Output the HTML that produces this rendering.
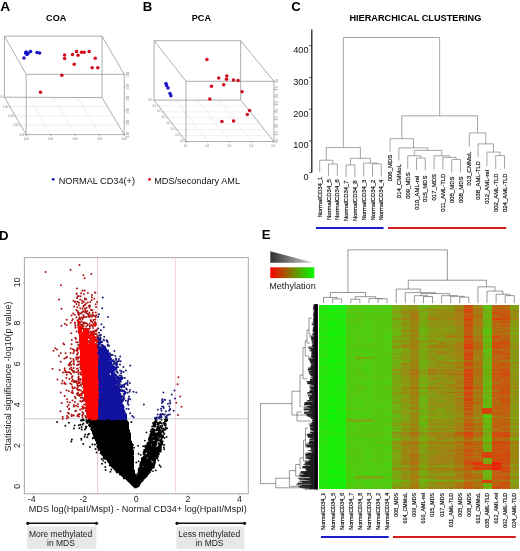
<!DOCTYPE html>
<html><head><meta charset="utf-8"><title>Figure</title>
<style>
html,body{margin:0;padding:0;background:#fff;}
body{width:520px;height:551px;overflow:hidden;font-family:'Liberation Sans', sans-serif;}
svg{display:block;font-family:'Liberation Sans', sans-serif;}
</style></head><body>
<svg width="520" height="551" viewBox="0 0 520 551">
<rect width="520" height="551" fill="#fff"/>
<line x1="28.88" y1="97.20" x2="50.70" y2="134.60" stroke="#dedede" stroke-width="0.5" />
<line x1="9.93" y1="106.55" x2="107.62" y2="106.55" stroke="#dedede" stroke-width="0.5" />
<line x1="53.25" y1="97.20" x2="75.20" y2="134.60" stroke="#dedede" stroke-width="0.5" />
<line x1="15.35" y1="115.90" x2="113.05" y2="115.90" stroke="#dedede" stroke-width="0.5" />
<line x1="77.62" y1="97.20" x2="99.70" y2="134.60" stroke="#dedede" stroke-width="0.5" />
<line x1="20.77" y1="125.25" x2="118.47" y2="125.25" stroke="#dedede" stroke-width="0.5" />
<line x1="4.50" y1="36.20" x2="102.00" y2="36.20" stroke="#777" stroke-width="0.6" />
<line x1="26.20" y1="74.30" x2="124.20" y2="74.30" stroke="#777" stroke-width="0.6" />
<line x1="4.50" y1="36.20" x2="26.20" y2="74.30" stroke="#777" stroke-width="0.6" />
<line x1="102.00" y1="36.20" x2="124.20" y2="74.30" stroke="#777" stroke-width="0.6" />
<line x1="4.50" y1="36.20" x2="4.50" y2="97.20" stroke="#777" stroke-width="0.6" />
<line x1="102.00" y1="36.20" x2="102.00" y2="97.60" stroke="#777" stroke-width="0.6" />
<line x1="26.20" y1="74.30" x2="26.20" y2="134.60" stroke="#777" stroke-width="0.6" />
<line x1="124.20" y1="74.30" x2="124.20" y2="134.60" stroke="#777" stroke-width="0.6" />
<line x1="4.50" y1="97.20" x2="102.00" y2="97.60" stroke="#777" stroke-width="0.6" />
<line x1="26.20" y1="134.60" x2="124.20" y2="134.60" stroke="#777" stroke-width="0.6" />
<line x1="4.50" y1="97.20" x2="26.20" y2="134.60" stroke="#777" stroke-width="0.6" />
<line x1="102.00" y1="97.60" x2="124.20" y2="134.60" stroke="#777" stroke-width="0.6" />
<line x1="26.20" y1="134.60" x2="26.20" y2="136.00" stroke="#777" stroke-width="0.5" />
<line x1="3.20" y1="97.20" x2="4.50" y2="97.20" stroke="#777" stroke-width="0.5" />
<line x1="50.70" y1="134.60" x2="50.70" y2="136.00" stroke="#777" stroke-width="0.5" />
<line x1="8.62" y1="106.55" x2="9.93" y2="106.55" stroke="#777" stroke-width="0.5" />
<line x1="75.20" y1="134.60" x2="75.20" y2="136.00" stroke="#777" stroke-width="0.5" />
<line x1="14.05" y1="115.90" x2="15.35" y2="115.90" stroke="#777" stroke-width="0.5" />
<line x1="99.70" y1="134.60" x2="99.70" y2="136.00" stroke="#777" stroke-width="0.5" />
<line x1="19.47" y1="125.25" x2="20.77" y2="125.25" stroke="#777" stroke-width="0.5" />
<line x1="124.20" y1="134.60" x2="124.20" y2="136.00" stroke="#777" stroke-width="0.5" />
<line x1="24.90" y1="134.60" x2="26.20" y2="134.60" stroke="#777" stroke-width="0.5" />
<line x1="124.20" y1="74.30" x2="125.60" y2="74.30" stroke="#777" stroke-width="0.5" />
<line x1="124.20" y1="86.36" x2="125.60" y2="86.36" stroke="#777" stroke-width="0.5" />
<line x1="124.20" y1="98.42" x2="125.60" y2="98.42" stroke="#777" stroke-width="0.5" />
<line x1="124.20" y1="110.48" x2="125.60" y2="110.48" stroke="#777" stroke-width="0.5" />
<line x1="124.20" y1="122.54" x2="125.60" y2="122.54" stroke="#777" stroke-width="0.5" />
<line x1="124.20" y1="134.60" x2="125.60" y2="134.60" stroke="#777" stroke-width="0.5" />
<circle cx="24" cy="58" r="1.75" fill="#1616c8"/>
<circle cx="25.5" cy="53" r="1.75" fill="#1616c8"/>
<circle cx="27" cy="54.6" r="1.75" fill="#1616c8"/>
<circle cx="30.5" cy="51.6" r="1.75" fill="#1616c8"/>
<circle cx="28" cy="53.2" r="1.75" fill="#1616c8"/>
<circle cx="26.2" cy="52" r="1.75" fill="#1616c8"/>
<circle cx="37" cy="52.6" r="1.75" fill="#1616c8"/>
<circle cx="39.6" cy="53" r="1.75" fill="#1616c8"/>
<circle cx="64.6" cy="55" r="1.75" fill="#d20c1a"/>
<circle cx="64.6" cy="58.6" r="1.75" fill="#d20c1a"/>
<circle cx="72.5" cy="54.6" r="1.75" fill="#d20c1a"/>
<circle cx="76.5" cy="51.6" r="1.75" fill="#d20c1a"/>
<circle cx="78" cy="55.2" r="1.75" fill="#d20c1a"/>
<circle cx="81.5" cy="52.2" r="1.75" fill="#d20c1a"/>
<circle cx="84.2" cy="52.2" r="1.75" fill="#d20c1a"/>
<circle cx="89.2" cy="51.6" r="1.75" fill="#d20c1a"/>
<circle cx="95.2" cy="58.3" r="1.75" fill="#d20c1a"/>
<circle cx="74.2" cy="64.2" r="1.75" fill="#d20c1a"/>
<circle cx="92.2" cy="67.8" r="1.75" fill="#d20c1a"/>
<circle cx="97.8" cy="67.8" r="1.75" fill="#d20c1a"/>
<circle cx="61.8" cy="75.2" r="1.75" fill="#d20c1a"/>
<circle cx="40.5" cy="92.3" r="1.75" fill="#d20c1a"/>
<g transform="translate(0.5,0.5)">
<line x1="175.25" y1="99.60" x2="207.47" y2="141.00" stroke="#dedede" stroke-width="0.5" />
<line x1="196.90" y1="99.60" x2="229.45" y2="141.00" stroke="#dedede" stroke-width="0.5" />
<line x1="218.55" y1="99.60" x2="251.42" y2="141.00" stroke="#dedede" stroke-width="0.5" />
<line x1="158.16" y1="105.51" x2="245.36" y2="105.51" stroke="#e2e2e2" stroke-width="0.5" />
<line x1="162.71" y1="111.43" x2="249.91" y2="111.43" stroke="#e2e2e2" stroke-width="0.5" />
<line x1="167.27" y1="117.34" x2="254.47" y2="117.34" stroke="#e2e2e2" stroke-width="0.5" />
<line x1="171.83" y1="123.26" x2="259.03" y2="123.26" stroke="#e2e2e2" stroke-width="0.5" />
<line x1="176.39" y1="129.17" x2="263.59" y2="129.17" stroke="#e2e2e2" stroke-width="0.5" />
<line x1="180.94" y1="135.09" x2="268.14" y2="135.09" stroke="#e2e2e2" stroke-width="0.5" />
<line x1="153.60" y1="40.20" x2="240.20" y2="40.20" stroke="#777" stroke-width="0.6" />
<line x1="185.50" y1="80.80" x2="273.40" y2="80.80" stroke="#777" stroke-width="0.6" />
<line x1="153.60" y1="40.20" x2="185.50" y2="80.80" stroke="#777" stroke-width="0.6" />
<line x1="240.20" y1="40.20" x2="273.40" y2="80.80" stroke="#777" stroke-width="0.6" />
<line x1="153.60" y1="40.20" x2="153.60" y2="99.60" stroke="#777" stroke-width="0.6" />
<line x1="240.20" y1="40.20" x2="240.20" y2="99.60" stroke="#777" stroke-width="0.6" />
<line x1="185.50" y1="80.80" x2="185.50" y2="141.00" stroke="#777" stroke-width="0.6" />
<line x1="273.40" y1="80.80" x2="273.40" y2="141.00" stroke="#777" stroke-width="0.6" />
<line x1="153.60" y1="99.60" x2="240.20" y2="99.60" stroke="#777" stroke-width="0.6" />
<line x1="185.50" y1="141.00" x2="273.40" y2="141.00" stroke="#777" stroke-width="0.6" />
<line x1="153.60" y1="99.60" x2="185.50" y2="141.00" stroke="#777" stroke-width="0.6" />
<line x1="240.20" y1="99.60" x2="273.40" y2="141.00" stroke="#777" stroke-width="0.6" />
<line x1="185.50" y1="141.00" x2="185.50" y2="142.40" stroke="#777" stroke-width="0.5" />
<line x1="207.47" y1="141.00" x2="207.47" y2="142.40" stroke="#777" stroke-width="0.5" />
<line x1="229.45" y1="141.00" x2="229.45" y2="142.40" stroke="#777" stroke-width="0.5" />
<line x1="251.42" y1="141.00" x2="251.42" y2="142.40" stroke="#777" stroke-width="0.5" />
<line x1="273.40" y1="141.00" x2="273.40" y2="142.40" stroke="#777" stroke-width="0.5" />
<line x1="152.30" y1="99.60" x2="153.60" y2="99.60" stroke="#777" stroke-width="0.5" />
<line x1="156.86" y1="105.51" x2="158.16" y2="105.51" stroke="#777" stroke-width="0.5" />
<line x1="161.41" y1="111.43" x2="162.71" y2="111.43" stroke="#777" stroke-width="0.5" />
<line x1="165.97" y1="117.34" x2="167.27" y2="117.34" stroke="#777" stroke-width="0.5" />
<line x1="170.53" y1="123.26" x2="171.83" y2="123.26" stroke="#777" stroke-width="0.5" />
<line x1="175.09" y1="129.17" x2="176.39" y2="129.17" stroke="#777" stroke-width="0.5" />
<line x1="179.64" y1="135.09" x2="180.94" y2="135.09" stroke="#777" stroke-width="0.5" />
<line x1="184.20" y1="141.00" x2="185.50" y2="141.00" stroke="#777" stroke-width="0.5" />
<line x1="273.40" y1="80.80" x2="274.80" y2="80.80" stroke="#777" stroke-width="0.5" />
<line x1="273.40" y1="88.33" x2="274.80" y2="88.33" stroke="#777" stroke-width="0.5" />
<line x1="273.40" y1="95.85" x2="274.80" y2="95.85" stroke="#777" stroke-width="0.5" />
<line x1="273.40" y1="103.38" x2="274.80" y2="103.38" stroke="#777" stroke-width="0.5" />
<line x1="273.40" y1="110.90" x2="274.80" y2="110.90" stroke="#777" stroke-width="0.5" />
<line x1="273.40" y1="118.42" x2="274.80" y2="118.42" stroke="#777" stroke-width="0.5" />
<line x1="273.40" y1="125.95" x2="274.80" y2="125.95" stroke="#777" stroke-width="0.5" />
<line x1="273.40" y1="133.47" x2="274.80" y2="133.47" stroke="#777" stroke-width="0.5" />
<line x1="273.40" y1="141.00" x2="274.80" y2="141.00" stroke="#777" stroke-width="0.5" />
<circle cx="165.5" cy="83" r="1.75" fill="#1616c8"/>
<circle cx="166.1" cy="85.1" r="1.75" fill="#1616c8"/>
<circle cx="167.5" cy="87.4" r="1.75" fill="#1616c8"/>
<circle cx="169.5" cy="92.9" r="1.75" fill="#1616c8"/>
<circle cx="170.4" cy="95.2" r="1.75" fill="#1616c8"/>
<circle cx="206.4" cy="59.1" r="1.75" fill="#d20c1a"/>
<circle cx="218.2" cy="77.6" r="1.75" fill="#d20c1a"/>
<circle cx="226.3" cy="75.6" r="1.75" fill="#d20c1a"/>
<circle cx="226" cy="78.7" r="1.75" fill="#d20c1a"/>
<circle cx="233" cy="79.6" r="1.75" fill="#d20c1a"/>
<circle cx="237.6" cy="80" r="1.75" fill="#d20c1a"/>
<circle cx="211" cy="85.7" r="1.75" fill="#d20c1a"/>
<circle cx="223.2" cy="84.2" r="1.75" fill="#d20c1a"/>
<circle cx="241.6" cy="91.2" r="1.75" fill="#d20c1a"/>
<circle cx="209.3" cy="98.6" r="1.75" fill="#d20c1a"/>
<circle cx="249.1" cy="109.9" r="1.75" fill="#d20c1a"/>
<circle cx="246.8" cy="114" r="1.75" fill="#d20c1a"/>
<circle cx="221.4" cy="121.1" r="1.75" fill="#d20c1a"/>
<circle cx="233" cy="120.6" r="1.75" fill="#d20c1a"/>
</g>
<circle cx="53.2" cy="179.3" r="1.4" fill="#1414c8"/>
<circle cx="149.5" cy="179.4" r="1.4" fill="#d40a14"/>
<line x1="311.80" y1="29.50" x2="311.80" y2="172.60" stroke="#222" stroke-width="1.3" />
<line x1="309.20" y1="172.60" x2="311.80" y2="172.60" stroke="#222" stroke-width="0.8" />
<line x1="309.20" y1="140.88" x2="311.80" y2="140.88" stroke="#222" stroke-width="0.8" />
<line x1="309.20" y1="109.16" x2="311.80" y2="109.16" stroke="#222" stroke-width="0.8" />
<line x1="309.20" y1="77.44" x2="311.80" y2="77.44" stroke="#222" stroke-width="0.8" />
<line x1="309.20" y1="45.72" x2="311.80" y2="45.72" stroke="#222" stroke-width="0.8" />
<path d="M328.50,175.77V164.04H337.30V175.77" fill="none" stroke="#6a6a6a" stroke-width="0.6"/>
<path d="M319.70,171.97V160.23H332.90V164.04" fill="none" stroke="#6a6a6a" stroke-width="0.6"/>
<path d="M346.10,177.36V164.99H354.90V177.36" fill="none" stroke="#6a6a6a" stroke-width="0.6"/>
<path d="M372.50,176.41V163.88H381.30V176.41" fill="none" stroke="#6a6a6a" stroke-width="0.6"/>
<path d="M363.70,176.41V163.08H376.90V163.88" fill="none" stroke="#6a6a6a" stroke-width="0.6"/>
<path d="M350.50,164.99V158.33H370.30V163.08" fill="none" stroke="#6a6a6a" stroke-width="0.6"/>
<path d="M326.30,160.23V147.54H360.40V158.33" fill="none" stroke="#6a6a6a" stroke-width="0.6"/>
<path d="M416.50,170.06V158.01H425.30V170.06" fill="none" stroke="#6a6a6a" stroke-width="0.6"/>
<path d="M407.70,168.79V155.79H420.90V158.01" fill="none" stroke="#6a6a6a" stroke-width="0.6"/>
<path d="M451.70,172.60V159.59H460.50V172.60" fill="none" stroke="#6a6a6a" stroke-width="0.6"/>
<path d="M442.90,169.43V157.37H456.10V159.59" fill="none" stroke="#6a6a6a" stroke-width="0.6"/>
<path d="M434.10,169.43V155.79H449.50V157.37" fill="none" stroke="#6a6a6a" stroke-width="0.6"/>
<path d="M414.30,155.79V150.40H441.80V155.79" fill="none" stroke="#6a6a6a" stroke-width="0.6"/>
<path d="M398.90,160.55V147.86H428.05V150.40" fill="none" stroke="#6a6a6a" stroke-width="0.6"/>
<path d="M390.10,151.66V138.66H413.47V147.86" fill="none" stroke="#6a6a6a" stroke-width="0.6"/>
<path d="M495.70,168.79V155.60H504.50V168.79" fill="none" stroke="#6a6a6a" stroke-width="0.6"/>
<path d="M486.90,166.26V152.08H500.10V155.60" fill="none" stroke="#6a6a6a" stroke-width="0.6"/>
<path d="M478.10,156.74V143.89H493.50V152.08" fill="none" stroke="#6a6a6a" stroke-width="0.6"/>
<path d="M469.30,146.59V132.95H485.80V143.89" fill="none" stroke="#6a6a6a" stroke-width="0.6"/>
<path d="M401.79,138.66V115.82H477.55V132.95" fill="none" stroke="#6a6a6a" stroke-width="0.6"/>
<path d="M343.35,147.54V37.47H439.67V115.82" fill="none" stroke="#6a6a6a" stroke-width="0.6"/>
<line x1="315.90" y1="228.00" x2="383.60" y2="228.00" stroke="#1c1ccc" stroke-width="2.2" />
<line x1="388.00" y1="228.00" x2="506.30" y2="228.00" stroke="#d21e1e" stroke-width="2.2" />
<rect x="24.4" y="257.6" width="223.9" height="236.2" fill="#fff" stroke="#a9a9a9" stroke-width="1"/>
<line x1="24.40" y1="418.78" x2="248.30" y2="418.78" stroke="#b9bfcd" stroke-width="0.8" />
<line x1="97.60" y1="257.60" x2="97.60" y2="493.80" stroke="#e4a0a8" stroke-width="0.6" />
<line x1="175.52" y1="257.60" x2="175.52" y2="493.80" stroke="#efbcc4" stroke-width="0.6" />
<clipPath id="clipD"><rect x="24.9" y="258.1" width="222.9" height="235.2"/></clipPath>
<g clip-path="url(#clipD)">
<path d="M68.9,422.7h0M129.9,481.5h0M86.3,421.5h0M89.9,447.1h0M136.3,462.5h0M96.9,440.1h0M102.5,454.2h0M132.0,456.7h0M116.6,470.4h0M83.4,419.6h0M115.6,469.9h0M84.6,436.8h0M85.9,427.9h0M94.8,436.4h0M91.9,429.9h0M86.5,426.7h0M97.2,446.6h0M132.1,455.6h0M105.6,469.9h0M103.4,455.1h0M88.8,425.3h0M86.9,421.5h0M81.4,439.7h0M109.9,462.9h0M122.6,476.0h0M127.3,425.5h0M134.0,447.8h0M84.9,429.4h0M94.9,444.4h0M128.7,430.4h0M83.5,423.5h0M78.8,425.3h0M122.5,475.7h0M127.1,422.9h0M128.2,428.2h0M111.3,469.4h0M79.4,428.2h0M101.7,458.9h0M92.7,438.4h0M119.4,472.6h0M82.6,419.6h0M87.3,423.1h0M83.8,420.3h0M127.2,426.4h0M131.9,483.5h0M100.5,453.3h0M101.5,452.3h0M74.6,425.6h0M127.7,425.3h0M115.5,469.6h0M93.0,432.8h0M97.8,443.9h0M81.8,429.5h0M114.8,468.0h0M80.9,420.4h0M131.4,422.0h0M133.7,485.3h0M80.5,424.8h0M109.9,465.4h0M104.1,458.3h0M125.5,419.7h0M57.1,421.9h0M81.6,420.6h0M103.4,455.1h0M91.4,426.8h0M71.3,441.4h0M131.0,445.6h0M105.3,467.0h0M132.0,449.7h0M81.2,438.7h0M83.2,444.0h0M88.0,434.8h0M125.8,419.9h0M86.5,420.0h0M130.1,433.8h0M121.6,419.0h0M95.0,437.1h0M81.6,427.0h0M89.2,433.7h0M121.9,474.7h0M110.4,471.8h0M92.5,430.7h0M102.1,463.8h0M112.6,466.6h0M71.9,439.5h0M91.3,426.4h0M121.5,474.5h0M116.8,471.1h0M115.6,469.8h0M126.2,478.6h0M93.1,437.7h0M127.7,479.4h0M105.9,419.6h0M103.2,460.4h0M128.8,480.6h0M132.0,444.0h0M133.2,470.6h0M103.0,454.9h0M122.3,475.2h0M107.8,460.5h0M129.6,481.4h0M89.5,424.5h0M111.8,465.5h0M131.1,444.4h0M102.7,454.2h0M87.3,437.2h0M105.2,419.7h0M93.8,434.6h0M93.7,433.1h0M126.2,420.9h0M91.1,428.9h0M101.7,452.1h0M92.4,444.5h0M128.0,480.1h0M130.2,441.1h0M95.6,449.0h0M85.9,426.4h0M92.9,430.1h0M133.0,444.9h0M133.3,470.4h0M100.8,450.0h0M132.0,449.4h0M118.4,472.0h0M90.0,422.7h0M114.3,468.2h0M116.5,471.5h0M82.7,424.5h0M73.9,428.4h0M120.5,474.2h0M126.6,420.9h0M96.7,440.8h0M105.2,462.5h0M96.6,452.6h0M119.5,472.4h0M103.7,458.0h0M125.6,478.0h0M130.5,441.8h0M107.8,460.4h0M105.4,458.8h0M109.9,463.0h0M99.1,449.6h0M134.0,475.0h0M127.2,422.9h0M65.4,425.8h0M97.7,447.4h0M132.1,454.6h0M97.9,443.7h0M130.9,482.3h0M85.2,434.5h0M98.7,450.0h0M128.4,480.8h0M108.0,459.8h0M95.6,438.4h0M103.4,419.4h0M115.0,468.3h0M133.1,470.2h0M135.7,476.7h0M136.2,479.7h0M132.3,484.9h0M136.1,486.1h0M137.1,481.6h0M137.1,477.7h0M135.9,476.5h0M137.0,485.7h0M136.5,474.5h0M137.1,485.5h0M137.1,481.2h0M136.9,478.3h0M133.3,485.0h0M136.4,486.3h0" fill="none" stroke="#0c0c0c" stroke-width="2.0" stroke-linecap="round"/>
<path d="M88,418.5h16M105,418.5h20M82,419.5h1M88,419.5h39M82,420.5h1M86,420.5h41M86,421.5h42M86,422.5h43M89,423.5h40M89,424.5h40M89,425.5h39M89,426.5h40M91,427.5h38M91,428.5h38M91,429.5h38M91,430.5h39M92,431.5h38M92,432.5h38M92,433.5h39M93,434.5h38M93,435.5h38M94,436.5h37M93,437.5h38M94,438.5h37M95,439.5h36M95,440.5h36M96,441.5h36M96,442.5h36M96,443.5h36M97,444.5h36M97,445.5h35M97,446.5h36M98,447.5h35M98,448.5h35M99,449.5h34M100,450.5h34M100,451.5h34M100,452.5h34M101,453.5h33M101,454.5h33M102,455.5h31M103,456.5h31M103,457.5h31M104,458.5h30M106,459.5h28M107,460.5h27M107,461.5h27M108,462.5h26M109,463.5h25M109,464.5h25M110,465.5h24M111,466.5h23M112,467.5h22M113,468.5h21M114,469.5h20M115,470.5h20M116,471.5h19M116,472.5h19M119,473.5h16M119,474.5h17M121,475.5h15M122,476.5h15M123,477.5h14M123,478.5h14M126,479.5h12M127,480.5h11M128,481.5h10M129,482.5h9M130,483.5h8M131,484.5h7M132,485.5h6M133,486.5h5M134,487.5h3" fill="none" stroke="#000" stroke-width="1.3"/>
<path d="M138.1,445.8h0M146.5,432.4h0M143.5,452.7h0M143.1,446.3h0M140.7,454.9h0M138.5,453.7h0M138.6,461.4h0M140.0,465.5h0M153.8,465.6h0M138.9,469.4h0M154.6,433.0h0M141.7,469.4h0M148.4,472.7h0M142.2,479.9h0M145.7,474.7h0M160.2,447.7h0M153.6,429.7h0M159.0,423.3h0M153.0,471.1h0M148.7,454.8h0M152.8,431.4h0M162.9,437.4h0M165.8,419.1h0M145.8,463.7h0M139.4,483.7h0M165.6,429.5h0M148.8,440.0h0M154.4,464.8h0M158.5,430.3h0M146.1,475.6h0M150.7,459.5h0M142.0,478.4h0M155.1,439.2h0M147.8,443.0h0M151.1,436.8h0M158.3,426.1h0M160.3,432.7h0M149.3,450.9h0M160.1,449.0h0M162.3,425.9h0M166.7,420.7h0M152.8,446.9h0M161.3,430.9h0M151.4,436.3h0M143.5,457.7h0M158.9,437.9h0M151.7,459.8h0M157.5,424.2h0M151.3,437.9h0M155.2,430.3h0M156.3,437.6h0M138.0,479.2h0M141.5,477.6h0M154.7,441.8h0M138.5,473.9h0M155.2,459.3h0M160.9,447.9h0M147.2,443.4h0M145.7,454.9h0M145.0,452.5h0M147.5,473.1h0M154.7,456.3h0M153.6,425.2h0M150.8,445.7h0M155.9,433.6h0M141.7,459.0h0M154.2,458.6h0M141.2,462.6h0M145.8,445.7h0M149.5,447.4h0M148.1,446.0h0M164.2,449.2h0M155.1,447.4h0M163.6,432.4h0M164.7,429.5h0M158.8,424.7h0M153.4,432.2h0M154.7,460.9h0M154.1,460.2h0M147.9,446.1h0M159.0,440.4h0M159.7,434.5h0M157.2,451.5h0M148.2,451.4h0M161.2,436.9h0M138.7,475.3h0M139.5,468.0h0M152.6,432.4h0M155.0,421.2h0M165.6,426.9h0M159.0,454.2h0M141.3,466.4h0M158.3,447.8h0M155.8,470.4h0M162.6,444.4h0M167.2,419.1h0M153.2,422.8h0M165.8,425.1h0M151.0,469.2h0M149.4,439.2h0M153.7,434.0h0M147.0,475.3h0M161.7,444.5h0M147.2,451.6h0M152.1,436.9h0M155.4,445.6h0M144.4,467.5h0M151.5,434.6h0M152.0,459.7h0M149.5,446.5h0M150.9,467.0h0M160.6,436.7h0M157.8,455.4h0M163.1,428.4h0M161.0,449.7h0M156.5,430.0h0M142.6,464.8h0M145.9,457.9h0M164.2,433.8h0M156.1,437.3h0M147.8,453.3h0M160.1,423.1h0M161.5,438.9h0M157.7,447.2h0M153.1,465.1h0M166.9,420.2h0M147.6,452.6h0M139.5,468.5h0M142.3,469.8h0M160.9,446.5h0M164.9,419.5h0M153.8,437.7h0M158.6,446.2h0M144.6,451.2h0M145.2,477.1h0M154.5,463.7h0M159.4,432.5h0M144.4,452.5h0M139.0,469.6h0M148.3,472.6h0M151.4,468.1h0M141.3,477.1h0M146.8,446.5h0M159.7,443.8h0M164.3,444.9h0M156.7,434.4h0M154.6,433.9h0M146.6,454.6h0M141.5,481.6h0M162.4,425.4h0M159.3,434.9h0M154.9,423.9h0M164.8,425.0h0M148.7,445.9h0M152.9,426.6h0M143.8,476.2h0M145.1,463.8h0M144.9,462.8h0M158.9,449.7h0M146.0,455.4h0M159.5,465.2h0M138.2,473.0h0M155.1,436.9h0M148.4,473.7h0M155.3,443.8h0M155.0,462.6h0M147.9,444.6h0M149.0,453.2h0M150.8,442.7h0M155.8,445.5h0M154.9,423.2h0M144.5,454.2h0M158.7,438.8h0M157.7,456.1h0M155.6,422.7h0M152.0,440.7h0M152.5,459.6h0M158.3,433.1h0M160.6,441.2h0M155.9,435.2h0M163.8,430.2h0M164.7,423.0h0M140.7,482.0h0M148.7,451.5h0M141.8,481.5h0M149.9,436.2h0M149.0,451.2h0M144.8,465.3h0M162.7,441.3h0M140.8,462.8h0M140.0,483.2h0M150.6,441.8h0M164.9,421.4h0M156.3,430.4h0M158.3,452.0h0M167.1,428.2h0M160.9,429.1h0M140.9,467.2h0M162.0,441.3h0M156.8,419.6h0M154.4,438.5h0M146.2,473.5h0M164.3,424.3h0M137.8,476.5h0M152.1,428.9h0M150.5,450.6h0M154.9,426.7h0M157.7,439.6h0M155.1,421.5h0M144.0,451.6h0M160.4,449.7h0M154.0,460.2h0M145.5,450.8h0M155.2,441.9h0M154.7,426.2h0M161.1,425.7h0M141.0,466.0h0M146.7,459.3h0M150.8,434.0h0M143.5,478.2h0M156.0,441.7h0M161.5,423.3h0M161.7,428.0h0M140.1,466.3h0M155.7,430.4h0M149.8,444.3h0M151.6,432.0h0M162.0,431.4h0M145.9,449.2h0M153.9,465.1h0M154.0,444.2h0M154.6,424.4h0M151.1,441.3h0M159.8,436.9h0M146.0,456.3h0M158.9,447.0h0M153.5,434.6h0M154.0,430.6h0M157.6,426.4h0M138.6,476.0h0M150.6,433.8h0M143.2,475.8h0M154.0,467.5h0M138.8,471.8h0M157.2,458.5h0M141.9,462.3h0M157.4,454.6h0M155.5,423.1h0M155.2,462.0h0M147.3,475.1h0M151.2,468.0h0M159.0,427.1h0M161.1,439.4h0M145.5,458.2h0M156.9,428.8h0M146.1,475.3h0M139.7,483.5h0M140.7,481.4h0M142.8,476.0h0M150.8,468.2h0M158.5,452.2h0M152.9,445.4h0M157.2,439.9h0M151.1,470.3h0M146.0,448.9h0M149.6,436.2h0M146.8,450.7h0M141.5,462.0h0M160.3,450.4h0M155.8,444.5h0M159.3,448.1h0M159.2,445.2h0M139.4,483.7h0M142.4,458.0h0M152.3,463.6h0M158.7,444.0h0M164.3,433.9h0M138.6,472.6h0M144.4,462.2h0M148.9,458.1h0M141.6,481.2h0M151.6,439.1h0M150.2,436.5h0M161.7,444.6h0M145.5,447.0h0M161.3,434.6h0M161.4,432.0h0M160.2,427.0h0M150.5,441.7h0M144.3,449.8h0M158.4,435.9h0M156.1,440.1h0M158.3,448.9h0M141.2,464.2h0M144.7,446.3h0M161.9,441.3h0M151.6,442.9h0M150.4,462.1h0M143.6,454.2h0M163.3,436.9h0M144.2,476.4h0M141.7,468.4h0M146.3,459.2h0M148.9,438.4h0M157.4,422.4h0M157.4,458.0h0M143.0,469.5h0M144.1,451.5h0M157.9,456.8h0M150.2,462.7h0M155.5,424.5h0M149.6,441.2h0M140.9,464.7h0M146.6,476.0h0M154.7,463.7h0M163.2,432.0h0M156.7,441.2h0M143.3,479.7h0M154.3,447.9h0M166.6,436.9h0M153.8,460.1h0M163.0,437.1h0M152.8,446.9h0M155.6,425.5h0M140.0,483.6h0M152.4,439.0h0M149.0,442.8h0M161.5,419.8h0M157.2,427.4h0M149.3,470.9h0M153.1,423.5h0M152.8,459.0h0M150.2,442.7h0M158.5,453.3h0M161.2,433.1h0M167.2,420.3h0M161.9,442.7h0M159.0,427.3h0M152.6,434.4h0M141.2,461.8h0M150.0,472.0h0M159.0,431.7h0M145.1,476.2h0M138.5,470.6h0M153.0,428.7h0M154.7,461.8h0M159.0,432.1h0M156.6,451.4h0M156.6,451.9h0M155.4,435.0h0M142.9,459.7h0M148.2,471.8h0M163.8,447.5h0M159.6,446.8h0M159.5,451.3h0M143.0,459.2h0M166.5,421.1h0M144.4,451.8h0M158.5,448.4h0M144.7,456.2h0M160.8,451.5h0M143.0,457.9h0M154.3,464.2h0M149.2,444.3h0M144.4,463.9h0M145.6,457.1h0M144.2,477.1h0M165.8,424.0h0M144.9,440.6h0M160.7,430.6h0M158.0,430.1h0M151.8,433.2h0M162.0,442.7h0M159.0,434.7h0M157.9,439.7h0M160.6,449.0h0M163.4,429.7h0M152.9,467.3h0M158.4,443.0h0M151.3,462.5h0M147.3,456.4h0M149.7,443.0h0M160.1,436.1h0M158.7,425.3h0M165.4,428.8h0M147.7,443.1h0M162.3,442.7h0M160.8,445.0h0M152.4,468.0h0M142.9,468.3h0M157.4,450.3h0M151.4,437.1h0M155.9,458.2h0M159.9,451.5h0M145.5,477.5h0M147.1,452.0h0M151.2,446.9h0M149.5,438.6h0M146.6,474.2h0M157.9,433.3h0M147.5,474.6h0M157.0,429.6h0M149.8,439.7h0M156.7,433.6h0M156.0,421.2h0M143.9,457.5h0M161.7,437.9h0M138.7,473.5h0M140.8,478.2h0M153.9,439.6h0M156.3,444.5h0M163.5,423.0h0M151.8,433.6h0M155.2,459.5h0M153.5,462.1h0M160.1,421.9h0M160.0,443.8h0M146.4,462.2h0M146.8,457.3h0M138.7,469.9h0M152.4,438.5h0M141.5,466.4h0M147.4,446.1h0M148.9,473.3h0M154.4,436.8h0M148.2,442.4h0M161.4,439.5h0M160.7,466.7h0M148.2,456.1h0M150.4,443.2h0M155.7,437.0h0M153.8,422.7h0M157.8,422.8h0M150.3,434.6h0M140.4,470.3h0M151.2,430.0h0M144.6,467.2h0M158.1,422.7h0M143.3,475.6h0M161.4,445.0h0M156.8,457.4h0M145.6,447.5h0M153.6,463.3h0M155.6,419.2h0M160.5,439.8h0M150.7,470.4h0M157.1,435.4h0M138.9,476.2h0M142.8,458.9h0M140.6,464.3h0M152.1,426.4h0M142.5,480.4h0M157.2,433.3h0M145.0,465.1h0M162.1,443.1h0M160.3,441.4h0M163.1,435.5h0M155.2,439.2h0M150.2,446.6h0M138.0,477.8h0M158.2,437.9h0M143.3,465.4h0M146.8,445.7h0M164.7,438.1h0M157.3,434.2h0M154.7,447.0h0M158.9,446.7h0M155.3,425.3h0M142.5,458.0h0M147.5,454.9h0M157.9,429.2h0M150.4,452.9h0M158.3,460.4h0M161.2,435.1h0M157.5,454.1h0M154.2,457.7h0M152.8,459.8h0M163.5,429.7h0M158.3,450.1h0M140.4,463.7h0M152.2,441.9h0M142.7,467.6h0M145.7,451.4h0M147.5,455.2h0M138.6,477.7h0M140.4,464.8h0M151.5,467.5h0M162.9,436.0h0M150.5,431.5h0M154.1,438.4h0M156.0,437.2h0M144.8,451.6h0M153.1,466.3h0M151.6,442.8h0M165.8,421.2h0M143.8,475.7h0M151.9,444.0h0M138.5,475.2h0M137.3,479.3h0M138.3,477.2h0M138.6,475.1h0M137.2,479.9h0M138.9,475.1h0M137.2,486.1h0M137.4,479.7h0" fill="none" stroke="#0c0c0c" stroke-width="1.9" stroke-linecap="round"/>
<path d="M165,420.5h2M154,422.5h2M154,423.5h1M154,424.5h2M154,425.5h1M157,428.5h3M152,429.5h3M156,429.5h4M164,429.5h1M152,430.5h3M156,430.5h4M162,430.5h1M152,431.5h3M151,432.5h1M151,433.5h10M151,434.5h1M153,434.5h6M150,435.5h7M158,435.5h3M150,436.5h1M155,436.5h3M161,436.5h2M149,437.5h5M155,437.5h1M161,437.5h1M149,438.5h4M154,438.5h4M161,438.5h1M149,439.5h3M155,439.5h3M150,440.5h1M155,440.5h3M160,440.5h2M149,441.5h8M160,441.5h2M148,442.5h9M160,442.5h3M147,443.5h4M152,443.5h5M161,443.5h2M147,444.5h3M152,444.5h4M160,444.5h2M146,445.5h4M152,445.5h3M160,445.5h1M145,446.5h3M149,446.5h6M158,446.5h3M145,447.5h16M145,448.5h16M145,449.5h13M159,449.5h1M144,450.5h13M159,450.5h1M143,451.5h4M148,451.5h1M150,451.5h10M143,452.5h3M147,452.5h12M148,453.5h11M147,454.5h11M146,455.5h12M143,456.5h15M142,457.5h4M148,457.5h7M141,458.5h5M148,458.5h8M142,459.5h14M141,460.5h10M152,460.5h4M141,461.5h10M154,461.5h1M141,462.5h11M154,462.5h1M140,463.5h5M146,463.5h9M142,464.5h13M140,465.5h15M140,466.5h1M144,466.5h10M140,467.5h14M138,468.5h12M151,468.5h1M138,469.5h3M142,469.5h9M138,470.5h12M138,471.5h12M138,472.5h11M138,473.5h11M138,474.5h7M146,474.5h2M137,475.5h6M144,475.5h4M137,476.5h10M138,477.5h7M137,478.5h4M142,478.5h3M136,479.5h6M136,480.5h6M136,481.5h6M136,482.5h5M136,483.5h5M136,484.5h4M136,485.5h4M136,486.5h3" fill="none" stroke="#000" stroke-width="1.3"/>
<path d="M117.3,364.4h0M119.9,394.2h0M123.1,418.7h0M124.0,396.1h0M110.2,372.4h0M97.8,352.9h0M125.5,392.9h0M117.8,372.9h0M128.2,400.2h0M115.8,380.2h0M124.8,378.1h0M108.3,369.7h0M97.7,377.1h0M118.4,361.2h0M122.1,378.7h0M97.8,369.3h0M97.8,367.1h0M97.8,390.5h0M123.3,385.1h0M97.9,365.8h0M98.2,381.5h0M124.9,392.6h0M98.4,340.0h0M115.0,367.6h0M126.4,383.6h0M114.8,375.2h0M124.3,418.4h0M113.6,373.9h0M98.4,380.5h0M113.8,373.0h0M99.0,314.2h0M110.2,358.8h0M120.5,395.0h0M116.7,365.1h0M120.5,397.4h0M110.0,376.1h0M101.3,355.0h0M107.1,340.7h0M123.9,418.1h0M127.7,403.4h0M100.4,339.6h0M110.0,376.4h0M98.2,338.1h0M124.6,413.1h0M101.7,348.3h0M100.9,334.7h0M123.1,398.6h0M106.7,340.2h0M121.6,403.9h0M113.8,370.6h0M97.9,394.7h0M107.8,344.5h0M110.2,376.0h0M127.7,384.9h0M111.0,372.3h0M97.9,396.7h0M106.4,418.2h0M116.6,386.7h0M116.7,362.4h0M99.2,335.6h0M132.1,416.0h0M99.8,351.9h0M122.1,405.8h0M117.1,383.2h0M97.7,378.3h0M104.2,347.8h0M113.9,363.6h0M104.1,340.2h0M130.1,413.3h0M116.4,371.7h0M121.2,404.2h0M116.9,376.5h0M120.2,393.4h0M98.1,384.8h0M118.9,359.0h0M98.2,316.7h0M115.1,364.1h0M97.7,391.8h0M117.8,381.6h0M123.4,409.3h0M122.3,396.2h0M97.8,404.2h0M136.3,392.6h0M114.6,369.6h0M102.2,342.0h0M100.4,351.6h0M97.8,408.7h0M109.2,360.4h0M111.9,376.4h0M97.8,405.5h0M97.8,390.5h0M121.4,385.2h0M97.8,393.2h0M97.6,386.1h0M119.1,381.3h0M123.4,366.9h0M100.5,342.6h0M118.9,361.0h0M124.0,399.3h0M108.9,418.5h0M123.8,406.9h0M97.7,384.9h0M111.1,372.7h0M119.8,383.9h0M97.7,418.1h0M121.8,379.1h0M108.5,352.9h0M113.1,370.2h0M108.8,374.8h0M97.6,409.5h0M120.9,381.7h0M128.5,398.4h0M97.7,352.3h0M124.3,386.4h0M102.6,355.4h0M97.8,361.4h0M110.2,359.3h0M115.8,378.3h0M120.5,380.0h0M119.1,394.6h0M99.0,338.2h0M126.0,418.3h0M97.6,356.9h0M105.1,348.7h0M125.5,383.5h0M117.1,381.1h0M97.7,362.6h0M98.3,338.3h0M110.7,418.3h0M111.1,363.8h0M99.3,342.3h0M117.3,372.0h0M102.7,349.1h0M123.3,390.7h0M117.4,386.2h0M125.3,413.3h0M102.2,308.3h0M124.2,398.1h0M109.2,345.7h0M120.9,387.2h0M98.0,338.2h0M120.1,396.7h0M98.0,391.3h0M113.6,371.2h0M122.5,401.7h0M117.1,379.8h0M100.3,352.7h0M116.3,362.6h0M120.6,398.8h0M118.4,379.7h0M97.6,361.3h0M113.5,360.4h0M100.9,346.6h0M105.7,418.5h0M121.8,387.5h0M114.4,351.1h0M112.9,360.6h0M122.1,401.3h0M120.6,361.2h0M129.1,396.6h0M123.5,372.0h0M114.7,367.6h0M97.8,416.7h0M105.7,348.5h0M125.5,415.0h0M120.0,364.4h0M113.2,360.2h0M116.5,369.9h0M112.7,361.1h0M108.0,373.5h0M97.7,417.8h0M110.9,358.6h0M100.7,338.0h0M97.8,376.0h0M126.3,418.9h0M115.2,368.2h0M97.6,367.2h0M98.4,398.3h0M98.9,347.7h0M103.1,346.7h0M97.6,359.2h0M120.9,395.6h0M110.1,353.6h0M125.6,418.9h0M118.8,418.2h0M120.1,375.4h0M121.3,378.1h0M100.9,330.3h0M99.8,348.3h0M130.2,365.6h0M107.0,368.7h0M119.8,418.5h0M117.7,385.9h0M100.8,418.3h0M101.1,352.7h0M97.7,356.5h0M97.6,384.9h0M123.9,410.5h0M97.7,349.7h0M107.7,345.7h0M130.0,390.1h0M98.0,379.4h0M118.2,418.5h0M127.9,401.7h0M121.6,371.3h0M101.7,345.0h0M128.7,408.9h0M104.2,336.7h0M122.3,404.8h0M121.5,376.0h0M98.2,418.3h0M126.5,408.8h0M98.0,382.0h0M127.7,381.1h0M113.7,371.6h0M97.9,368.8h0M116.9,418.8h0M111.7,360.8h0M112.8,365.9h0M122.4,400.9h0M121.1,391.1h0M100.6,341.0h0M120.9,389.7h0M98.0,342.3h0M97.9,397.3h0M115.4,356.1h0M104.8,346.5h0M105.7,349.3h0M102.0,345.0h0M118.7,379.2h0M109.8,358.0h0M125.0,392.1h0M100.2,355.6h0M121.5,386.6h0M102.3,349.1h0M103.2,346.9h0M122.2,404.9h0M110.5,358.5h0M122.3,405.3h0M98.7,344.4h0M122.9,399.4h0M123.9,390.5h0M123.2,385.3h0M99.1,345.6h0M98.7,399.1h0M129.9,383.0h0M112.7,355.0h0M100.4,348.0h0M97.7,386.6h0M104.2,348.0h0M118.1,377.0h0M97.9,394.4h0M125.4,392.1h0M120.9,391.0h0M97.8,414.9h0M103.7,346.9h0M110.0,418.1h0M118.6,378.5h0M119.3,380.6h0M124.4,394.3h0M117.5,376.6h0M121.1,373.2h0M98.0,399.6h0M97.8,342.4h0M97.7,414.1h0M118.3,383.3h0M100.5,350.8h0M143.9,404.6h0M129.5,391.7h0M112.7,365.1h0M100.1,343.4h0M123.6,393.7h0M123.3,396.9h0M100.7,418.6h0M113.8,361.9h0M115.6,375.8h0M127.0,389.6h0M113.1,366.2h0M124.1,386.9h0M103.8,327.3h0M116.3,368.5h0M97.9,344.9h0M124.8,418.0h0M116.2,358.8h0M107.3,418.2h0M97.7,379.2h0M97.7,357.2h0M101.4,324.2h0M122.7,378.1h0M97.9,346.2h0M120.7,386.4h0M98.5,340.8h0M121.1,397.7h0M107.7,341.9h0M106.8,341.2h0M109.1,372.2h0M126.1,388.5h0M118.3,385.8h0M133.7,417.2h0M124.4,411.6h0M98.3,328.6h0M115.9,364.8h0M107.1,418.3h0M115.4,374.5h0M124.3,393.4h0M123.0,390.5h0M117.3,366.7h0M98.1,374.7h0M119.2,385.7h0M97.8,394.1h0M127.5,383.1h0M97.8,415.2h0M106.8,350.4h0M97.7,386.0h0M102.4,353.9h0M99.0,332.8h0M130.2,399.3h0M120.1,370.4h0M123.8,391.1h0M115.8,374.8h0M114.6,361.8h0M108.1,350.4h0M111.8,364.8h0M117.3,418.6h0M97.8,414.4h0M108.3,370.6h0M100.5,418.9h0M103.5,339.7h0M97.6,377.0h0M116.3,359.9h0M115.7,358.7h0M120.5,390.0h0M122.5,400.2h0M98.0,414.6h0M120.8,389.9h0M100.4,335.8h0M98.0,365.9h0M120.2,356.5h0M99.9,335.4h0M123.1,406.3h0M133.4,391.7h0M117.5,384.9h0M97.9,385.8h0M110.1,356.1h0M99.5,343.4h0M124.6,384.2h0M98.0,403.2h0M98.7,375.9h0M97.9,415.1h0M127.6,392.8h0M97.8,349.7h0M114.8,374.3h0M99.1,349.1h0M120.5,381.6h0M97.9,379.2h0M100.1,342.5h0M98.2,383.4h0M128.5,404.9h0M123.2,410.6h0M98.0,391.0h0M97.9,404.5h0M121.4,377.5h0M97.7,368.6h0M117.8,377.5h0M114.2,377.1h0M116.4,362.8h0M118.0,367.3h0M112.0,354.7h0M125.9,370.6h0M108.9,354.0h0M115.9,368.0h0M98.0,347.1h0M124.0,413.6h0M98.0,337.5h0M98.0,354.9h0M125.8,400.7h0M110.9,355.4h0M119.6,375.5h0M123.1,410.5h0M115.3,378.6h0M98.7,347.3h0M97.7,338.5h0M104.5,347.4h0M98.0,372.0h0M164.8,414.5h0M162.1,406.4h0M166.7,417.6h0M156.2,417.5h0M160.9,414.2h0M169.9,414.5h0M161.5,410.7h0M162.4,413.9h0M161.5,417.3h0M163.4,406.8h0M161.1,416.1h0M164.6,399.7h0M162.3,399.2h0M168.0,403.7h0M163.1,401.5h0M160.9,414.9h0M170.3,409.2h0M169.4,406.4h0M165.2,400.0h0M168.2,414.8h0M157.5,417.6h0M170.0,408.9h0M159.9,416.8h0M157.8,409.8h0M166.8,415.8h0M159.7,418.6h0M174.5,390.4h0M165.9,411.3h0M162.3,402.0h0M155.9,418.5h0M158.8,417.6h0M170.2,403.6h0M171.7,394.4h0M163.8,414.4h0M161.1,415.2h0M154.8,418.0h0M163.7,408.1h0M165.5,416.9h0M157.6,414.6h0M162.1,403.0h0M162.0,400.9h0M160.0,414.7h0M170.2,402.6h0M169.1,410.5h0M161.0,408.7h0M102.8,297.6h0M175.0,398.6h0M169.8,400.6h0M163.4,392.5h0M107.9,317.0h0M173.7,410.8h0" fill="none" stroke="#1c1c78" stroke-width="2.0" stroke-linecap="round"/>
<path d="M97,337.5h2M97,338.5h3M97,339.5h3M99,341.5h1M99,342.5h3M98,343.5h3M102,345.5h2M98,346.5h1M102,346.5h3M97,347.5h3M102,347.5h4M97,348.5h3M102,348.5h4M97,349.5h10M97,350.5h3M101,350.5h6M97,351.5h12M97,352.5h12M97,353.5h4M102,353.5h7M97,354.5h4M102,354.5h8M97,355.5h13M97,356.5h13M97,357.5h14M97,358.5h14M97,359.5h15M97,360.5h13M112,360.5h2M97,361.5h17M117,361.5h1M97,362.5h15M117,362.5h1M97,363.5h15M115,363.5h2M97,364.5h16M97,365.5h16M116,365.5h1M97,366.5h18M97,367.5h20M96,368.5h21M97,369.5h11M109,369.5h7M97,370.5h18M97,371.5h17M97,372.5h17M97,373.5h12M111,373.5h4M98,374.5h12M111,374.5h5M97,375.5h13M111,375.5h6M97,376.5h18M97,377.5h26M96,378.5h20M117,378.5h6M97,379.5h19M118,379.5h4M97,380.5h24M98,381.5h20M98,382.5h22M98,383.5h20M97,384.5h19M117,384.5h2M96,385.5h23M123,385.5h2M97,386.5h20M120,386.5h3M97,387.5h23M97,388.5h23M97,389.5h23M96,390.5h27M96,391.5h24M122,391.5h3M97,392.5h23M124,392.5h2M97,393.5h23M124,393.5h2M97,394.5h24M97,395.5h24M97,396.5h25M97,397.5h25M123,397.5h1M97,398.5h24M98,399.5h24M123,399.5h1M97,400.5h27M97,401.5h25M97,402.5h25M97,403.5h25M97,404.5h26M97,405.5h27M97,406.5h27M97,407.5h27M97,408.5h27M97,409.5h27M97,410.5h28M97,411.5h28M97,412.5h28M97,413.5h29M96,414.5h31M96,415.5h31M160,415.5h1M97,416.5h30M97,417.5h30M97,418.5h30M100,419.5h6M110,419.5h7M119,419.5h4M124,419.5h2" fill="none" stroke="#1212a0" stroke-width="1.3"/>
<path d="M69.9,362.9h0M90.0,305.5h0M85.0,317.1h0M84.7,399.5h0M96.7,329.7h0M90.2,336.0h0M79.3,361.6h0M80.3,356.4h0M73.9,406.4h0M88.3,337.0h0M75.5,327.8h0M77.5,389.6h0M94.1,332.7h0M96.1,340.0h0M73.4,371.2h0M83.3,392.0h0M83.8,399.1h0M66.8,372.2h0M86.8,340.3h0M82.7,372.3h0M97.5,363.2h0M67.5,401.9h0M97.5,355.8h0M74.0,381.0h0M63.0,372.5h0M94.3,298.7h0M71.9,381.3h0M91.0,310.0h0M70.6,353.0h0M86.5,316.9h0M83.3,306.8h0M88.8,329.8h0M96.3,354.4h0M79.9,341.2h0M80.2,409.8h0M86.8,406.5h0M62.4,380.8h0M70.0,402.4h0M74.9,402.1h0M92.0,294.9h0M95.6,340.9h0M64.3,358.5h0M63.4,343.6h0M92.0,316.7h0M97.2,393.0h0M78.5,390.1h0M77.7,387.1h0M97.5,400.4h0M84.8,339.4h0M85.3,415.7h0M96.7,418.7h0M93.1,337.2h0M82.8,398.0h0M83.3,408.5h0M77.1,354.8h0M75.4,325.8h0M73.1,415.5h0M90.8,333.1h0M73.5,300.7h0M75.9,382.0h0M97.3,379.5h0M85.0,336.3h0M78.3,312.3h0M78.8,315.1h0M84.4,341.3h0M97.0,374.7h0M88.6,330.9h0M80.6,363.8h0M77.4,347.8h0M81.4,313.6h0M81.7,401.7h0M95.3,333.9h0M88.2,341.2h0M80.2,401.0h0M85.3,341.0h0M79.7,328.6h0M81.0,336.5h0M97.1,410.1h0M77.8,361.6h0M92.6,314.5h0M73.8,361.8h0M86.5,313.3h0M74.8,396.8h0M96.1,307.1h0M96.2,413.0h0M97.1,381.0h0M82.7,325.1h0M87.8,412.7h0M71.5,315.6h0M95.7,304.3h0M95.0,292.5h0M80.8,349.1h0M86.1,417.7h0M89.6,316.1h0M97.0,387.6h0M77.1,383.6h0M82.4,397.4h0M92.5,342.0h0M82.8,372.6h0M97.1,389.0h0M82.4,384.0h0M60.8,353.2h0M60.7,361.7h0M90.9,320.9h0M84.7,312.2h0M78.2,322.9h0M97.6,393.1h0M87.5,416.6h0M71.2,374.1h0M84.0,384.2h0M91.7,324.9h0M79.5,317.3h0M82.1,339.3h0M80.8,353.9h0M73.1,313.4h0M88.6,316.5h0M76.3,342.0h0M97.3,380.5h0M78.0,312.2h0M95.0,315.9h0M97.5,337.1h0M76.1,372.0h0M97.2,378.6h0M75.2,337.7h0M97.2,370.0h0M72.6,379.5h0M86.4,416.5h0M96.9,368.8h0M94.5,330.7h0M97.1,349.6h0M96.2,412.2h0M86.2,311.5h0M87.3,340.8h0M96.0,348.7h0M83.2,317.5h0M93.6,334.8h0M71.8,339.9h0M83.5,329.0h0M89.9,417.5h0M92.8,312.5h0M83.7,338.6h0M95.3,418.2h0M71.9,369.6h0M86.2,402.1h0M78.3,370.5h0M80.9,353.1h0M77.6,368.5h0M83.0,414.4h0M96.5,418.8h0M83.9,328.8h0M96.6,411.8h0M82.7,407.4h0M59.5,370.0h0M69.4,379.1h0M77.6,301.8h0M77.7,393.4h0M84.2,316.5h0M82.7,332.9h0M97.2,397.7h0M91.7,418.0h0M76.4,317.4h0M80.1,318.2h0M80.2,308.2h0M82.5,308.8h0M70.7,322.7h0M67.8,412.7h0M81.3,385.7h0M78.9,382.4h0M94.2,325.7h0M88.7,314.3h0M69.3,408.7h0M83.7,381.5h0M87.6,342.3h0M78.9,322.5h0M64.7,395.9h0M84.0,381.1h0M78.5,379.6h0M95.0,324.4h0M80.4,349.4h0M73.8,370.9h0M89.6,337.0h0M87.9,324.9h0M78.6,376.8h0M97.3,386.1h0M57.4,379.6h0M83.0,322.7h0M76.3,350.4h0M82.2,303.0h0M97.4,378.0h0M87.0,413.9h0M80.3,363.9h0M97.0,405.6h0M97.5,368.4h0M80.0,379.0h0M96.6,352.2h0M97.1,378.2h0M80.2,338.6h0M80.9,365.3h0M93.4,315.7h0M84.2,393.1h0M82.9,408.0h0M76.5,304.0h0M77.6,350.2h0M80.6,345.0h0M93.7,336.3h0M82.0,300.7h0M77.8,342.5h0M73.4,359.0h0M92.5,322.1h0M92.8,336.6h0M97.1,393.2h0M82.0,328.4h0M66.7,418.4h0M91.4,332.8h0M80.9,390.5h0M96.5,367.5h0M79.4,395.9h0M71.2,361.5h0M97.3,396.9h0M81.0,397.7h0M95.2,344.1h0M79.9,334.8h0M84.6,290.5h0M75.6,398.2h0M79.3,327.1h0M96.1,366.5h0M74.1,306.4h0M80.5,329.4h0M97.1,406.0h0M86.1,326.6h0M97.3,382.7h0M95.7,312.6h0M97.1,301.9h0M97.0,409.6h0M87.5,340.9h0M90.6,315.2h0M89.2,344.9h0M76.4,310.0h0M81.1,331.4h0M78.9,389.6h0M85.5,322.9h0M85.8,411.0h0M78.6,357.3h0M83.8,301.8h0M97.5,369.2h0M81.7,374.0h0M65.4,372.2h0M83.7,392.8h0M97.5,355.9h0M97.1,356.6h0M97.2,372.5h0M87.3,341.0h0M79.0,390.3h0M97.5,341.0h0M97.2,361.3h0M97.5,417.3h0M87.6,330.1h0M78.1,381.5h0M86.8,402.8h0M96.2,355.7h0M97.3,365.4h0M72.1,320.4h0M89.6,317.2h0M73.8,381.9h0M84.3,336.4h0M72.7,371.5h0M84.6,389.3h0M74.8,322.5h0M79.8,336.9h0M88.9,337.8h0M81.8,317.4h0M97.4,390.3h0M74.1,350.2h0M87.5,344.2h0M89.6,307.8h0M86.7,401.2h0M96.4,315.2h0M89.1,328.7h0M81.1,367.3h0M78.9,328.5h0M95.0,340.5h0M95.4,292.7h0M80.3,341.1h0M71.6,384.3h0M71.2,367.5h0M87.4,311.1h0M85.0,299.5h0M86.3,299.3h0M96.5,344.3h0M66.5,390.3h0M84.0,322.5h0M77.8,415.1h0M97.6,401.5h0M81.4,340.7h0M77.0,368.7h0M73.9,364.4h0M95.2,319.6h0M61.4,325.8h0M71.8,392.6h0M76.5,359.5h0M60.4,411.3h0M89.7,323.6h0M77.1,357.4h0M84.8,343.0h0M77.4,351.0h0M68.9,413.7h0M97.4,365.0h0M84.9,397.7h0M90.0,325.7h0M62.7,418.7h0M75.0,382.1h0M76.7,294.0h0M77.1,365.0h0M97.3,404.4h0M84.6,388.8h0M83.0,372.8h0M92.0,419.0h0M96.4,346.7h0M96.2,413.4h0M94.6,337.5h0M83.7,305.8h0M69.6,372.8h0M97.5,382.1h0M85.4,311.0h0M97.0,361.4h0M95.1,321.9h0M72.8,319.3h0M96.1,331.4h0M76.0,405.8h0M67.1,415.9h0M81.7,394.0h0M95.5,344.4h0M91.3,341.0h0M88.6,334.9h0M89.7,328.3h0M74.0,351.7h0M94.1,330.9h0M84.6,389.0h0M93.6,335.5h0M65.6,353.2h0M78.6,327.3h0M97.5,386.6h0M82.9,374.9h0M82.7,375.7h0M97.1,372.9h0M82.7,319.1h0M87.5,313.7h0M79.9,335.1h0M94.2,324.2h0M96.0,324.6h0M96.9,351.4h0M62.7,416.7h0M87.8,333.5h0M79.1,333.0h0M64.7,370.0h0M86.8,402.7h0M78.5,326.3h0M97.4,357.8h0M81.1,293.3h0M91.6,338.4h0M93.1,328.1h0M64.7,368.3h0M83.6,407.2h0M83.2,311.3h0M75.6,301.7h0M92.8,331.4h0M82.2,415.2h0M96.1,334.1h0M90.9,331.5h0M85.1,309.5h0M96.1,339.4h0M97.6,401.6h0M85.0,305.1h0M83.8,382.2h0M80.2,367.6h0M71.8,370.0h0M82.5,336.8h0M73.9,415.5h0M94.7,339.6h0M76.6,293.4h0M77.9,403.9h0M83.5,325.5h0M97.3,397.5h0M79.8,345.9h0M92.9,338.3h0M81.4,324.7h0M80.3,319.4h0M80.4,343.4h0M78.3,414.6h0M96.6,352.0h0M60.8,392.4h0M89.0,341.2h0M80.8,351.3h0M83.8,331.6h0M76.2,380.9h0M96.8,345.1h0M97.1,342.2h0M87.8,302.6h0M69.8,369.1h0M79.9,339.0h0M97.4,335.4h0M81.9,312.2h0M79.0,416.5h0M97.1,375.8h0M71.0,364.7h0M75.0,323.8h0M91.9,342.2h0M78.9,394.4h0M86.5,402.4h0M61.7,403.1h0M78.7,364.6h0M97.4,391.6h0M67.1,399.3h0M65.2,370.9h0M82.7,400.8h0M82.0,382.7h0M80.2,322.6h0M90.2,342.7h0M97.3,373.9h0M81.7,340.1h0M93.0,314.8h0M82.1,393.3h0M97.4,403.5h0M77.2,353.9h0M84.1,330.2h0M78.9,305.2h0M91.9,297.2h0M82.0,365.9h0M71.7,414.8h0M78.4,327.6h0M91.0,342.6h0M90.3,340.0h0M78.4,382.2h0M80.1,343.1h0M97.3,392.2h0M96.8,329.8h0M97.2,399.3h0M97.3,396.6h0M73.6,360.6h0M76.2,410.8h0M80.5,395.2h0M83.8,337.8h0M89.2,337.8h0M77.3,307.3h0M72.9,349.2h0M97.2,393.0h0M97.1,387.5h0M77.8,365.0h0M87.9,293.1h0M73.4,363.7h0M82.8,326.4h0M73.6,367.9h0M83.4,315.3h0M67.1,357.0h0M78.1,348.5h0M90.8,418.3h0M86.8,404.1h0M78.2,320.1h0M97.2,362.2h0M94.2,323.8h0M85.6,329.0h0M73.0,393.3h0M88.4,314.9h0M73.7,388.5h0M84.1,400.7h0M80.9,339.2h0M79.5,330.2h0M85.1,398.2h0M92.4,310.0h0M79.4,346.3h0M86.6,307.8h0M77.2,416.0h0M80.9,369.3h0M79.5,324.3h0M71.8,377.6h0M79.1,318.8h0M92.5,322.6h0M95.9,317.2h0M79.8,332.5h0M72.5,376.3h0M69.3,365.5h0M86.7,404.7h0M79.9,335.8h0M97.3,356.9h0M71.5,392.4h0M80.6,350.2h0M84.9,390.5h0M79.1,302.7h0M92.2,338.7h0M95.0,325.1h0M80.1,409.8h0M75.3,411.2h0M53.5,350.8h0M90.2,338.3h0M96.0,351.3h0M89.0,332.7h0M69.7,364.7h0M79.2,314.0h0M95.9,341.0h0M80.7,394.3h0M81.7,394.9h0M66.7,319.8h0M82.6,325.3h0M68.6,404.9h0M97.4,403.1h0M78.0,320.2h0M97.4,388.6h0M76.9,349.5h0M97.1,359.8h0M96.6,346.5h0M84.9,392.3h0M68.4,372.2h0M79.0,361.8h0M97.2,390.4h0M97.2,406.8h0M82.7,371.5h0M80.6,374.6h0M69.0,409.3h0M68.4,413.1h0M85.1,339.8h0M77.5,384.9h0M64.8,323.7h0M85.2,408.0h0M83.4,413.2h0M86.4,326.5h0M78.5,296.1h0M78.1,313.8h0M96.4,337.2h0M79.2,385.8h0M79.7,383.0h0M82.5,290.4h0M96.8,349.6h0M74.9,387.6h0M72.5,400.5h0M80.5,327.1h0M69.9,372.5h0M91.0,320.2h0M95.7,322.7h0M91.8,316.6h0M76.7,331.4h0M88.0,412.8h0M97.1,417.2h0M79.5,332.6h0M87.7,337.3h0M85.3,329.4h0M84.9,305.0h0M71.3,333.3h0M77.1,297.9h0M76.9,388.7h0M77.4,320.5h0M97.3,365.6h0M78.6,376.5h0M72.2,376.5h0M88.5,418.2h0M87.8,331.5h0M61.0,285.3h0M85.6,328.7h0M84.1,404.6h0M97.6,362.7h0M81.9,364.9h0M70.6,358.4h0M86.9,404.7h0M97.0,383.4h0M79.9,335.4h0M80.2,394.6h0M85.7,416.6h0M78.7,327.8h0M97.5,357.2h0M80.4,340.5h0M74.2,372.6h0M78.4,322.6h0M52.5,368.7h0M94.4,337.8h0M89.9,326.4h0M90.3,302.0h0M97.1,386.6h0M78.4,374.0h0M85.8,341.6h0M82.0,408.8h0M79.6,327.9h0M80.7,327.0h0M92.7,341.8h0M82.5,379.5h0M79.7,330.8h0M97.3,397.4h0M83.2,387.6h0M80.2,372.6h0M78.0,406.6h0M78.4,358.5h0M94.8,337.1h0M83.7,381.1h0M95.9,330.6h0M68.7,364.8h0M76.1,357.4h0M80.8,339.8h0M85.1,308.4h0M97.3,340.1h0M97.2,396.2h0M97.2,382.0h0M57.0,349.5h0M96.4,344.6h0M72.3,386.7h0M86.8,323.5h0M81.2,328.0h0M80.8,369.2h0M74.8,314.7h0M77.7,394.9h0M80.5,379.9h0M77.6,296.6h0M55.3,348.2h0M85.6,329.1h0M82.5,417.1h0M96.8,366.2h0M80.6,324.7h0M83.5,336.8h0M81.6,321.2h0M90.5,335.3h0M78.7,329.3h0M80.9,341.4h0M80.5,296.2h0M85.0,390.4h0M80.7,385.1h0M84.3,339.9h0M83.2,323.2h0M77.1,357.6h0M82.2,340.0h0M76.1,338.9h0M64.4,383.4h0M80.0,313.2h0M97.1,375.2h0M66.7,374.8h0M59.0,299.4h0M97.2,409.4h0M97.2,381.4h0M81.7,374.3h0M82.2,339.6h0M93.5,320.1h0M80.1,339.2h0M82.5,391.9h0M97.5,385.2h0M97.1,370.0h0M82.9,328.3h0M91.7,300.1h0M85.8,410.1h0M77.9,325.0h0M68.8,391.3h0M97.6,394.9h0M71.5,416.1h0M85.9,303.6h0M82.4,412.0h0M95.9,418.6h0M78.0,348.4h0M77.9,392.5h0M83.9,330.7h0M85.8,399.1h0M71.6,344.3h0M72.4,376.4h0M70.8,348.5h0M79.6,414.0h0M78.2,345.0h0M72.3,390.9h0M96.9,419.0h0M72.6,388.3h0M90.7,320.2h0M66.0,357.7h0M91.4,418.9h0M81.5,313.4h0M97.1,377.8h0M84.8,298.5h0M75.7,381.3h0M80.2,299.6h0M67.4,406.7h0M89.5,312.8h0M96.1,353.2h0M90.2,337.3h0M84.3,323.5h0M64.4,382.6h0M97.5,358.6h0M88.7,342.2h0M92.3,333.3h0M97.1,384.8h0M89.8,306.3h0M88.1,331.8h0M81.1,332.6h0M82.4,406.5h0M76.9,393.8h0M97.3,404.6h0M78.0,352.9h0M64.2,344.4h0M83.9,294.2h0M78.2,372.2h0M95.3,325.4h0M83.5,387.3h0M70.2,383.6h0M89.8,417.6h0M97.4,397.3h0M79.8,382.2h0M68.3,417.5h0M74.9,301.9h0M96.7,348.8h0M97.4,416.4h0M92.5,334.4h0M82.6,378.3h0M73.2,353.3h0M87.2,329.0h0M74.1,405.0h0M88.1,344.9h0M97.3,412.2h0M65.7,383.9h0M77.6,310.9h0M97.5,339.9h0M83.0,380.1h0M66.3,378.1h0M61.8,383.5h0M79.5,379.7h0M88.8,306.0h0M89.4,418.6h0M86.9,412.2h0M97.3,396.7h0M92.4,326.0h0M85.0,338.6h0M86.9,406.0h0M97.4,390.0h0M97.2,414.5h0M96.4,348.2h0M69.8,363.8h0M97.4,360.1h0M78.3,377.9h0M45.5,272.1h0M70.5,269.7h0M79.5,265.0h0M83.4,275.2h0M84.7,278.2h0M91.2,274.1h0M61.5,308.8h0M178.4,377.2h0M177.6,384.3h0M181.5,406.7h0M58.9,355.7h0M66.6,325.1h0M77.0,288.4h0M176.3,402.7h0M180.2,396.5h0M178.1,414.9h0" fill="none" stroke="#b01616" stroke-width="2.0" stroke-linecap="round"/>
<path d="M77,321.5h3M79,323.5h1M93,324.5h3M81,325.5h1M94,325.5h2M78,326.5h2M81,326.5h1M78,327.5h5M78,328.5h3M84,328.5h1M79,329.5h3M84,329.5h1M86,329.5h1M88,329.5h1M78,330.5h4M84,330.5h5M95,330.5h1M78,331.5h4M83,331.5h5M78,332.5h10M81,333.5h8M90,333.5h3M79,334.5h10M90,334.5h3M79,335.5h14M79,336.5h4M84,336.5h7M93,336.5h2M80,337.5h15M80,338.5h8M89,338.5h7M79,339.5h5M85,339.5h3M92,339.5h3M79,340.5h3M83,340.5h5M92,340.5h5M80,341.5h5M86,341.5h3M91,341.5h4M80,342.5h8M89,342.5h6M80,343.5h8M89,343.5h6M79,344.5h18M79,345.5h18M79,346.5h18M79,347.5h18M79,348.5h18M77,349.5h1M80,349.5h18M80,350.5h18M80,351.5h18M80,352.5h17M80,353.5h17M80,354.5h17M80,355.5h18M80,356.5h19M80,357.5h18M77,358.5h1M80,358.5h18M80,359.5h18M80,360.5h18M80,361.5h18M80,362.5h18M80,363.5h18M80,364.5h18M81,365.5h17M81,366.5h17M81,367.5h16M81,368.5h16M81,369.5h16M81,370.5h17M81,371.5h17M82,372.5h16M81,373.5h17M82,374.5h16M82,375.5h16M82,376.5h16M82,377.5h16M82,378.5h16M82,379.5h16M82,380.5h16M82,381.5h17M78,382.5h1M83,382.5h16M78,383.5h1M83,383.5h15M83,384.5h15M83,385.5h15M83,386.5h16M83,387.5h16M83,388.5h15M84,389.5h14M83,390.5h15M83,391.5h15M83,392.5h16M84,393.5h15M80,394.5h2M84,394.5h14M80,395.5h1M84,395.5h14M84,396.5h15M84,397.5h15M84,398.5h14M85,399.5h13M85,400.5h13M85,401.5h13M86,402.5h12M85,403.5h13M86,404.5h13M85,405.5h13M86,406.5h12M82,407.5h2M86,407.5h12M86,408.5h12M86,409.5h12M86,410.5h12M86,411.5h12M87,412.5h10M87,413.5h11M87,414.5h11M87,415.5h11M87,416.5h11M87,417.5h11M89,418.5h9M91,419.5h5" fill="none" stroke="#fb0404" stroke-width="1.3"/>
</g>
<line x1="33.10" y1="493.80" x2="33.10" y2="495.30" stroke="#a9a9a9" stroke-width="0.7" />
<line x1="84.70" y1="493.80" x2="84.70" y2="495.30" stroke="#a9a9a9" stroke-width="0.7" />
<line x1="136.30" y1="493.80" x2="136.30" y2="495.30" stroke="#a9a9a9" stroke-width="0.7" />
<line x1="187.90" y1="493.80" x2="187.90" y2="495.30" stroke="#a9a9a9" stroke-width="0.7" />
<line x1="239.50" y1="493.80" x2="239.50" y2="495.30" stroke="#a9a9a9" stroke-width="0.7" />
<line x1="22.90" y1="486.30" x2="24.40" y2="486.30" stroke="#a9a9a9" stroke-width="0.7" />
<line x1="22.90" y1="445.50" x2="24.40" y2="445.50" stroke="#a9a9a9" stroke-width="0.7" />
<line x1="22.90" y1="404.70" x2="24.40" y2="404.70" stroke="#a9a9a9" stroke-width="0.7" />
<line x1="22.90" y1="363.90" x2="24.40" y2="363.90" stroke="#a9a9a9" stroke-width="0.7" />
<line x1="22.90" y1="323.10" x2="24.40" y2="323.10" stroke="#a9a9a9" stroke-width="0.7" />
<line x1="22.90" y1="282.30" x2="24.40" y2="282.30" stroke="#a9a9a9" stroke-width="0.7" />
<line x1="27.80" y1="523.30" x2="96.50" y2="523.30" stroke="#111" stroke-width="1.5" />
<circle cx="27.8" cy="523.3" r="1.6" fill="#111"/><circle cx="96.5" cy="523.3" r="1.6" fill="#111"/>
<rect x="27.2" y="526.5" width="69.10000000000001" height="22.3" fill="#e7e7e7"/>
<line x1="177.00" y1="523.30" x2="244.60" y2="523.30" stroke="#111" stroke-width="1.5" />
<circle cx="177.0" cy="523.3" r="1.6" fill="#111"/><circle cx="244.6" cy="523.3" r="1.6" fill="#111"/>
<rect x="176.4" y="526.5" width="68.0" height="22.3" fill="#e7e7e7"/>
<defs><linearGradient id="gtri" x1="0" x2="1" y1="0" y2="0"><stop offset="0" stop-color="#2e2e2e"/><stop offset="1" stop-color="#d8d8d8"/></linearGradient><linearGradient id="grg" x1="0" x2="1" y1="0" y2="0"><stop offset="0" stop-color="#ff0000"/><stop offset="0.5" stop-color="#7e7e00"/><stop offset="1" stop-color="#00ff00"/></linearGradient></defs>
<path d="M270.3,251.2L270.3,262.8L313.6,262.8Z" fill="url(#gtri)"/>
<rect x="270.3" y="267.3" width="44" height="10.8" fill="url(#grg)"/>
<path d="M332.62,303.20V298.88H341.70V303.20" fill="none" stroke="#444" stroke-width="0.55"/>
<path d="M323.54,303.20V297.41H337.16V298.88" fill="none" stroke="#444" stroke-width="0.55"/>
<path d="M350.79,303.20V299.25H359.87V303.20" fill="none" stroke="#444" stroke-width="0.55"/>
<path d="M378.03,303.20V298.82H387.11V303.20" fill="none" stroke="#444" stroke-width="0.55"/>
<path d="M368.95,303.20V298.52H382.57V298.82" fill="none" stroke="#444" stroke-width="0.55"/>
<path d="M355.33,299.25V296.67H375.76V298.52" fill="none" stroke="#444" stroke-width="0.55"/>
<path d="M330.35,297.41V292.50H365.54V296.67" fill="none" stroke="#444" stroke-width="0.55"/>
<path d="M423.44,303.20V296.55H432.52V303.20" fill="none" stroke="#444" stroke-width="0.55"/>
<path d="M414.36,303.20V295.69H427.98V296.55" fill="none" stroke="#444" stroke-width="0.55"/>
<path d="M459.77,303.20V297.17H468.85V303.20" fill="none" stroke="#444" stroke-width="0.55"/>
<path d="M450.69,303.20V296.31H464.31V297.17" fill="none" stroke="#444" stroke-width="0.55"/>
<path d="M441.60,303.20V295.69H457.50V296.31" fill="none" stroke="#444" stroke-width="0.55"/>
<path d="M421.17,295.69V293.60H449.55V295.69" fill="none" stroke="#444" stroke-width="0.55"/>
<path d="M405.28,303.20V292.62H435.36V293.60" fill="none" stroke="#444" stroke-width="0.55"/>
<path d="M396.20,303.20V289.06H420.32V292.62" fill="none" stroke="#444" stroke-width="0.55"/>
<path d="M505.18,303.20V295.62H514.26V303.20" fill="none" stroke="#444" stroke-width="0.55"/>
<path d="M496.10,303.20V294.25H509.72V295.62" fill="none" stroke="#444" stroke-width="0.55"/>
<path d="M487.01,303.20V291.09H502.91V294.25" fill="none" stroke="#444" stroke-width="0.55"/>
<path d="M477.93,303.20V286.85H494.96V291.09" fill="none" stroke="#444" stroke-width="0.55"/>
<path d="M408.26,289.06V280.22H486.45V286.85" fill="none" stroke="#444" stroke-width="0.55"/>
<path d="M347.95,292.50V249.89H447.35V280.22" fill="none" stroke="#444" stroke-width="0.55"/>
<g shape-rendering="crispEdges">
<path d="M319.00,304.50h9.13v12.08h-9.13zM319.00,321.04h9.13v10.57h-9.13zM319.00,334.57h9.13v1.55h-9.13zM319.00,337.57h9.13v4.56h-9.13zM319.00,343.58h9.13v1.55h-9.13zM319.00,348.09h9.13v4.56h-9.13zM319.00,355.61h9.13v3.06h-9.13zM319.00,360.12h9.13v3.06h-9.13zM319.00,364.63h9.13v1.55h-9.13zM319.00,367.64h9.13v1.55h-9.13zM319.00,370.64h9.13v3.06h-9.13zM319.00,375.15h9.13v1.55h-9.13zM319.00,378.16h9.13v1.55h-9.13zM319.00,381.17h9.13v1.55h-9.13zM319.00,384.17h9.13v7.57h-9.13zM319.00,393.19h9.13v16.59h-9.13zM319.00,411.23h9.13v4.56h-9.13zM319.00,417.24h9.13v3.06h-9.13zM319.00,421.75h9.13v4.56h-9.13zM319.00,427.77h9.13v1.55h-9.13zM319.00,435.28h9.13v6.06h-9.13zM319.00,444.30h9.13v10.57h-9.13zM319.00,456.33h9.13v7.57h-9.13zM319.00,465.35h9.13v10.57h-9.13zM319.00,481.88h9.13v7.57h-9.13zM328.08,312.02h9.13v1.55h-9.13zM328.08,318.03h9.13v1.55h-9.13zM328.08,340.58h9.13v1.55h-9.13zM328.08,346.59h9.13v1.55h-9.13zM328.08,351.10h9.13v1.55h-9.13zM328.08,370.64h9.13v1.55h-9.13zM328.08,393.19h9.13v1.55h-9.13zM328.08,403.71h9.13v1.55h-9.13zM328.08,412.73h9.13v1.55h-9.13zM328.08,430.77h9.13v4.56h-9.13zM328.08,436.79h9.13v1.55h-9.13zM337.16,309.01h9.13v6.06h-9.13zM337.16,318.03h9.13v1.55h-9.13zM337.16,321.04h9.13v1.55h-9.13zM337.16,324.04h9.13v1.55h-9.13zM337.16,331.56h9.13v1.55h-9.13zM337.16,336.07h9.13v1.55h-9.13zM337.16,345.09h9.13v1.55h-9.13zM337.16,352.60h9.13v1.55h-9.13zM337.16,363.13h9.13v1.55h-9.13zM337.16,369.14h9.13v7.57h-9.13zM337.16,384.17h9.13v1.55h-9.13zM337.16,387.18h9.13v1.55h-9.13zM337.16,390.19h9.13v1.55h-9.13zM337.16,394.70h9.13v1.55h-9.13zM337.16,402.21h9.13v1.55h-9.13zM337.16,405.22h9.13v1.55h-9.13zM337.16,408.22h9.13v3.06h-9.13zM337.16,418.75h9.13v1.55h-9.13zM337.16,423.26h9.13v1.55h-9.13zM337.16,427.77h9.13v1.55h-9.13zM337.16,432.28h9.13v1.55h-9.13zM337.16,435.28h9.13v1.55h-9.13zM337.16,441.30h9.13v1.55h-9.13zM337.16,447.31h9.13v3.06h-9.13zM337.16,451.82h9.13v1.55h-9.13zM337.16,454.83h9.13v1.55h-9.13zM337.16,457.83h9.13v1.55h-9.13zM337.16,460.84h9.13v3.06h-9.13zM337.16,466.85h9.13v1.55h-9.13z" fill="#26e70c"/>
<path d="M319.00,316.53h9.13v3.06h-9.13zM319.00,331.56h9.13v1.55h-9.13zM319.00,336.07h9.13v1.55h-9.13zM319.00,342.08h9.13v1.55h-9.13zM319.00,346.59h9.13v1.55h-9.13zM319.00,352.60h9.13v3.06h-9.13zM319.00,366.13h9.13v1.55h-9.13zM319.00,369.14h9.13v1.55h-9.13zM319.00,373.65h9.13v1.55h-9.13zM319.00,379.66h9.13v1.55h-9.13zM319.00,382.67h9.13v1.55h-9.13zM319.00,391.69h9.13v1.55h-9.13zM319.00,409.73h9.13v1.55h-9.13zM319.00,420.25h9.13v1.55h-9.13zM319.00,429.27h9.13v6.06h-9.13zM319.00,441.30h9.13v3.06h-9.13zM319.00,454.83h9.13v1.55h-9.13zM319.00,463.84h9.13v1.55h-9.13zM319.00,477.37h9.13v1.55h-9.13z" fill="#30e10c"/>
<path d="M319.00,319.53h9.13v1.55h-9.13zM319.00,333.06h9.13v1.55h-9.13zM319.00,345.09h9.13v1.55h-9.13zM319.00,358.62h9.13v1.55h-9.13zM319.00,363.13h9.13v1.55h-9.13zM319.00,376.66h9.13v1.55h-9.13zM319.00,415.74h9.13v1.55h-9.13zM319.00,426.26h9.13v1.55h-9.13zM319.00,475.87h9.13v1.55h-9.13zM319.00,478.88h9.13v3.06h-9.13zM328.08,304.50h9.13v1.55h-9.13zM328.08,307.51h9.13v4.56h-9.13zM328.08,313.52h9.13v4.56h-9.13zM328.08,319.53h9.13v3.06h-9.13zM328.08,325.55h9.13v6.06h-9.13zM328.08,334.57h9.13v6.06h-9.13zM328.08,342.08h9.13v4.56h-9.13zM328.08,348.09h9.13v1.55h-9.13zM328.08,354.11h9.13v6.06h-9.13zM328.08,361.62h9.13v9.07h-9.13zM328.08,372.15h9.13v4.56h-9.13zM328.08,378.16h9.13v7.57h-9.13zM328.08,387.18h9.13v6.06h-9.13zM328.08,394.70h9.13v3.06h-9.13zM328.08,399.20h9.13v4.56h-9.13zM328.08,405.22h9.13v1.55h-9.13zM328.08,408.22h9.13v1.55h-9.13zM328.08,418.75h9.13v1.55h-9.13zM328.08,421.75h9.13v9.07h-9.13zM328.08,435.28h9.13v1.55h-9.13zM328.08,439.79h9.13v6.06h-9.13zM328.08,447.31h9.13v4.56h-9.13zM328.08,453.32h9.13v16.59h-9.13zM328.08,474.37h9.13v4.56h-9.13zM328.08,483.39h9.13v6.06h-9.13zM337.16,304.50h9.13v4.56h-9.13zM337.16,315.02h9.13v3.06h-9.13zM337.16,319.53h9.13v1.55h-9.13zM337.16,322.54h9.13v1.55h-9.13zM337.16,325.55h9.13v6.06h-9.13zM337.16,333.06h9.13v3.06h-9.13zM337.16,337.57h9.13v7.57h-9.13zM337.16,346.59h9.13v6.06h-9.13zM337.16,354.11h9.13v9.07h-9.13zM337.16,364.63h9.13v4.56h-9.13zM337.16,376.66h9.13v7.57h-9.13zM337.16,385.68h9.13v1.55h-9.13zM337.16,388.68h9.13v1.55h-9.13zM337.16,391.69h9.13v3.06h-9.13zM337.16,396.20h9.13v6.06h-9.13zM337.16,403.71h9.13v1.55h-9.13zM337.16,406.72h9.13v1.55h-9.13zM337.16,411.23h9.13v1.55h-9.13zM337.16,414.24h9.13v1.55h-9.13zM337.16,417.24h9.13v1.55h-9.13zM337.16,420.25h9.13v1.55h-9.13zM337.16,424.76h9.13v3.06h-9.13zM337.16,429.27h9.13v1.55h-9.13zM337.16,433.78h9.13v1.55h-9.13zM337.16,436.79h9.13v4.56h-9.13zM337.16,442.80h9.13v4.56h-9.13zM337.16,450.32h9.13v1.55h-9.13zM337.16,453.32h9.13v1.55h-9.13zM337.16,456.33h9.13v1.55h-9.13zM337.16,459.33h9.13v1.55h-9.13zM337.16,463.84h9.13v1.55h-9.13zM337.16,468.35h9.13v4.56h-9.13zM337.16,474.37h9.13v4.56h-9.13zM337.16,481.88h9.13v4.56h-9.13zM337.16,487.90h9.13v1.55h-9.13z" fill="#1ced0b"/>
<path d="M328.08,306.00h9.13v1.55h-9.13zM328.08,322.54h9.13v3.06h-9.13zM328.08,331.56h9.13v3.06h-9.13zM328.08,349.60h9.13v1.55h-9.13zM328.08,352.60h9.13v1.55h-9.13zM328.08,360.12h9.13v1.55h-9.13zM328.08,376.66h9.13v1.55h-9.13zM328.08,385.68h9.13v1.55h-9.13zM328.08,397.70h9.13v1.55h-9.13zM328.08,406.72h9.13v1.55h-9.13zM328.08,409.73h9.13v3.06h-9.13zM328.08,414.24h9.13v4.56h-9.13zM328.08,420.25h9.13v1.55h-9.13zM328.08,438.29h9.13v1.55h-9.13zM328.08,445.81h9.13v1.55h-9.13zM328.08,451.82h9.13v1.55h-9.13zM328.08,469.86h9.13v4.56h-9.13zM328.08,478.88h9.13v4.56h-9.13zM337.16,412.73h9.13v1.55h-9.13zM337.16,415.74h9.13v1.55h-9.13zM337.16,421.75h9.13v1.55h-9.13zM337.16,430.77h9.13v1.55h-9.13zM337.16,465.35h9.13v1.55h-9.13zM337.16,472.86h9.13v1.55h-9.13zM337.16,478.88h9.13v3.06h-9.13zM337.16,486.39h9.13v1.55h-9.13z" fill="#10f40a"/>
<path d="M346.25,304.50h9.13v1.55h-9.13zM346.25,315.02h9.13v3.06h-9.13zM346.25,322.54h9.13v3.06h-9.13zM346.25,327.05h9.13v1.55h-9.13zM346.25,330.06h9.13v4.56h-9.13zM346.25,336.07h9.13v4.56h-9.13zM346.25,342.08h9.13v3.06h-9.13zM346.25,348.09h9.13v1.55h-9.13zM346.25,354.11h9.13v1.55h-9.13zM346.25,357.11h9.13v3.06h-9.13zM346.25,361.62h9.13v4.56h-9.13zM346.25,367.64h9.13v1.55h-9.13zM346.25,372.15h9.13v1.55h-9.13zM346.25,375.15h9.13v3.06h-9.13zM346.25,379.66h9.13v3.06h-9.13zM346.25,384.17h9.13v1.55h-9.13zM346.25,388.68h9.13v3.06h-9.13zM346.25,394.70h9.13v1.55h-9.13zM346.25,399.20h9.13v3.06h-9.13zM346.25,403.71h9.13v4.56h-9.13zM346.25,409.73h9.13v1.55h-9.13zM346.25,414.24h9.13v1.55h-9.13zM346.25,417.24h9.13v1.55h-9.13zM346.25,421.75h9.13v3.06h-9.13zM346.25,426.26h9.13v3.06h-9.13zM346.25,430.77h9.13v1.55h-9.13zM346.25,436.79h9.13v3.06h-9.13zM346.25,444.30h9.13v3.06h-9.13zM346.25,448.81h9.13v1.55h-9.13zM346.25,451.82h9.13v1.55h-9.13zM346.25,456.33h9.13v3.06h-9.13zM346.25,463.84h9.13v4.56h-9.13zM346.25,469.86h9.13v4.56h-9.13zM346.25,475.87h9.13v1.55h-9.13zM346.25,481.88h9.13v3.06h-9.13zM346.25,486.39h9.13v3.06h-9.13zM355.33,304.50h9.13v4.56h-9.13zM355.33,322.54h9.13v1.55h-9.13zM355.33,327.05h9.13v3.06h-9.13zM355.33,334.57h9.13v1.55h-9.13zM355.33,340.58h9.13v1.55h-9.13zM355.33,346.59h9.13v4.56h-9.13zM355.33,355.61h9.13v1.55h-9.13zM355.33,364.63h9.13v1.55h-9.13zM355.33,378.16h9.13v3.06h-9.13zM355.33,382.67h9.13v1.55h-9.13zM355.33,396.20h9.13v1.55h-9.13zM355.33,399.20h9.13v9.07h-9.13zM355.33,409.73h9.13v9.07h-9.13zM355.33,438.29h9.13v3.06h-9.13zM355.33,445.81h9.13v1.55h-9.13zM355.33,454.83h9.13v1.55h-9.13zM355.33,460.84h9.13v1.55h-9.13zM355.33,465.35h9.13v1.55h-9.13zM355.33,471.36h9.13v3.06h-9.13zM355.33,478.88h9.13v4.56h-9.13zM364.41,304.50h9.13v7.57h-9.13zM364.41,313.52h9.13v1.55h-9.13zM364.41,316.53h9.13v1.55h-9.13zM364.41,319.53h9.13v3.06h-9.13zM364.41,324.04h9.13v1.55h-9.13zM364.41,327.05h9.13v1.55h-9.13zM364.41,330.06h9.13v4.56h-9.13zM364.41,337.57h9.13v4.56h-9.13zM364.41,349.60h9.13v6.06h-9.13zM364.41,358.62h9.13v1.55h-9.13zM364.41,361.62h9.13v12.08h-9.13zM364.41,376.66h9.13v1.55h-9.13zM364.41,379.66h9.13v7.57h-9.13zM364.41,388.68h9.13v3.06h-9.13zM364.41,393.19h9.13v3.06h-9.13zM364.41,397.70h9.13v4.56h-9.13zM364.41,403.71h9.13v1.55h-9.13zM364.41,411.23h9.13v7.57h-9.13zM364.41,421.75h9.13v3.06h-9.13zM364.41,430.77h9.13v1.55h-9.13zM364.41,438.29h9.13v3.06h-9.13zM364.41,444.30h9.13v1.55h-9.13zM364.41,450.32h9.13v4.56h-9.13zM364.41,456.33h9.13v1.55h-9.13zM364.41,460.84h9.13v3.06h-9.13zM364.41,465.35h9.13v3.06h-9.13zM364.41,474.37h9.13v1.55h-9.13zM364.41,480.38h9.13v9.07h-9.13zM373.49,304.50h9.13v1.55h-9.13zM373.49,307.51h9.13v1.55h-9.13zM373.49,313.52h9.13v1.55h-9.13zM373.49,358.62h9.13v1.55h-9.13zM373.49,372.15h9.13v1.55h-9.13zM373.49,381.17h9.13v1.55h-9.13zM373.49,388.68h9.13v1.55h-9.13zM373.49,405.22h9.13v1.55h-9.13zM373.49,439.79h9.13v1.55h-9.13zM373.49,444.30h9.13v1.55h-9.13zM373.49,465.35h9.13v3.06h-9.13zM373.49,469.86h9.13v1.55h-9.13zM373.49,472.86h9.13v3.06h-9.13zM373.49,478.88h9.13v3.06h-9.13zM382.57,304.50h9.13v4.56h-9.13zM382.57,310.51h9.13v1.55h-9.13zM382.57,313.52h9.13v1.55h-9.13zM382.57,322.54h9.13v1.55h-9.13zM382.57,333.06h9.13v1.55h-9.13zM382.57,336.07h9.13v4.56h-9.13zM382.57,343.58h9.13v1.55h-9.13zM382.57,346.59h9.13v3.06h-9.13zM382.57,355.61h9.13v1.55h-9.13zM382.57,358.62h9.13v1.55h-9.13zM382.57,364.63h9.13v1.55h-9.13zM382.57,367.64h9.13v1.55h-9.13zM382.57,381.17h9.13v1.55h-9.13zM382.57,399.20h9.13v3.06h-9.13zM382.57,405.22h9.13v1.55h-9.13zM382.57,409.73h9.13v1.55h-9.13zM382.57,414.24h9.13v1.55h-9.13zM382.57,420.25h9.13v1.55h-9.13zM382.57,426.26h9.13v3.06h-9.13zM382.57,430.77h9.13v1.55h-9.13zM382.57,438.29h9.13v3.06h-9.13zM382.57,445.81h9.13v3.06h-9.13zM382.57,450.32h9.13v1.55h-9.13zM382.57,456.33h9.13v3.06h-9.13zM382.57,462.34h9.13v6.06h-9.13zM382.57,469.86h9.13v1.55h-9.13zM382.57,472.86h9.13v3.06h-9.13zM382.57,478.88h9.13v3.06h-9.13zM382.57,484.89h9.13v4.56h-9.13z" fill="#4ccd0e"/>
<path d="M346.25,306.00h9.13v1.55h-9.13zM346.25,313.52h9.13v1.55h-9.13zM346.25,385.68h9.13v1.55h-9.13zM346.25,411.23h9.13v1.55h-9.13zM346.25,415.74h9.13v1.55h-9.13zM346.25,474.37h9.13v1.55h-9.13zM346.25,478.88h9.13v3.06h-9.13zM364.41,409.73h9.13v1.55h-9.13zM364.41,471.36h9.13v3.06h-9.13zM364.41,478.88h9.13v1.55h-9.13zM482.47,415.74h9.13v1.55h-9.13z" fill="#43d40d"/>
<path d="M346.25,307.51h9.13v6.06h-9.13zM346.25,318.03h9.13v4.56h-9.13zM346.25,325.55h9.13v1.55h-9.13zM346.25,328.55h9.13v1.55h-9.13zM346.25,334.57h9.13v1.55h-9.13zM346.25,340.58h9.13v1.55h-9.13zM346.25,345.09h9.13v3.06h-9.13zM346.25,349.60h9.13v4.56h-9.13zM346.25,355.61h9.13v1.55h-9.13zM346.25,360.12h9.13v1.55h-9.13zM346.25,366.13h9.13v1.55h-9.13zM346.25,369.14h9.13v3.06h-9.13zM346.25,373.65h9.13v1.55h-9.13zM346.25,378.16h9.13v1.55h-9.13zM346.25,382.67h9.13v1.55h-9.13zM346.25,387.18h9.13v1.55h-9.13zM346.25,391.69h9.13v3.06h-9.13zM346.25,396.20h9.13v3.06h-9.13zM346.25,402.21h9.13v1.55h-9.13zM346.25,408.22h9.13v1.55h-9.13zM346.25,412.73h9.13v1.55h-9.13zM346.25,424.76h9.13v1.55h-9.13zM346.25,429.27h9.13v1.55h-9.13zM346.25,432.28h9.13v4.56h-9.13zM346.25,439.79h9.13v4.56h-9.13zM346.25,447.31h9.13v1.55h-9.13zM346.25,450.32h9.13v1.55h-9.13zM346.25,453.32h9.13v3.06h-9.13zM346.25,459.33h9.13v4.56h-9.13zM346.25,468.35h9.13v1.55h-9.13zM346.25,477.37h9.13v1.55h-9.13zM346.25,484.89h9.13v1.55h-9.13zM355.33,309.01h9.13v3.06h-9.13zM355.33,313.52h9.13v7.57h-9.13zM355.33,324.04h9.13v3.06h-9.13zM355.33,330.06h9.13v4.56h-9.13zM355.33,336.07h9.13v4.56h-9.13zM355.33,342.08h9.13v3.06h-9.13zM355.33,351.10h9.13v4.56h-9.13zM355.33,358.62h9.13v6.06h-9.13zM355.33,366.13h9.13v7.57h-9.13zM355.33,376.66h9.13v1.55h-9.13zM355.33,381.17h9.13v1.55h-9.13zM355.33,384.17h9.13v1.55h-9.13zM355.33,387.18h9.13v9.07h-9.13zM355.33,397.70h9.13v1.55h-9.13zM355.33,408.22h9.13v1.55h-9.13zM355.33,421.75h9.13v12.08h-9.13zM355.33,435.28h9.13v3.06h-9.13zM355.33,441.30h9.13v4.56h-9.13zM355.33,447.31h9.13v7.57h-9.13zM355.33,456.33h9.13v4.56h-9.13zM355.33,462.34h9.13v3.06h-9.13zM355.33,466.85h9.13v4.56h-9.13zM355.33,474.37h9.13v1.55h-9.13zM355.33,483.39h9.13v6.06h-9.13zM364.41,312.02h9.13v1.55h-9.13zM364.41,315.02h9.13v1.55h-9.13zM364.41,318.03h9.13v1.55h-9.13zM364.41,322.54h9.13v1.55h-9.13zM364.41,325.55h9.13v1.55h-9.13zM364.41,328.55h9.13v1.55h-9.13zM364.41,334.57h9.13v3.06h-9.13zM364.41,342.08h9.13v7.57h-9.13zM364.41,355.61h9.13v1.55h-9.13zM364.41,360.12h9.13v1.55h-9.13zM364.41,373.65h9.13v3.06h-9.13zM364.41,378.16h9.13v1.55h-9.13zM364.41,387.18h9.13v1.55h-9.13zM364.41,391.69h9.13v1.55h-9.13zM364.41,396.20h9.13v1.55h-9.13zM364.41,402.21h9.13v1.55h-9.13zM364.41,405.22h9.13v4.56h-9.13zM364.41,424.76h9.13v6.06h-9.13zM364.41,432.28h9.13v3.06h-9.13zM364.41,441.30h9.13v3.06h-9.13zM364.41,445.81h9.13v4.56h-9.13zM364.41,454.83h9.13v1.55h-9.13zM364.41,457.83h9.13v3.06h-9.13zM364.41,463.84h9.13v1.55h-9.13zM364.41,468.35h9.13v3.06h-9.13zM373.49,306.00h9.13v1.55h-9.13zM373.49,309.01h9.13v1.55h-9.13zM373.49,312.02h9.13v1.55h-9.13zM373.49,315.02h9.13v3.06h-9.13zM373.49,319.53h9.13v6.06h-9.13zM373.49,327.05h9.13v16.59h-9.13zM373.49,345.09h9.13v12.08h-9.13zM373.49,360.12h9.13v12.08h-9.13zM373.49,375.15h9.13v3.06h-9.13zM373.49,379.66h9.13v1.55h-9.13zM373.49,382.67h9.13v6.06h-9.13zM373.49,390.19h9.13v7.57h-9.13zM373.49,399.20h9.13v6.06h-9.13zM373.49,406.72h9.13v18.09h-9.13zM373.49,426.26h9.13v1.55h-9.13zM373.49,429.27h9.13v3.06h-9.13zM373.49,436.79h9.13v3.06h-9.13zM373.49,445.81h9.13v12.08h-9.13zM373.49,459.33h9.13v6.06h-9.13zM373.49,468.35h9.13v1.55h-9.13zM373.49,471.36h9.13v1.55h-9.13zM373.49,481.88h9.13v7.57h-9.13zM382.57,309.01h9.13v1.55h-9.13zM382.57,312.02h9.13v1.55h-9.13zM382.57,316.53h9.13v6.06h-9.13zM382.57,324.04h9.13v9.07h-9.13zM382.57,334.57h9.13v1.55h-9.13zM382.57,340.58h9.13v3.06h-9.13zM382.57,345.09h9.13v1.55h-9.13zM382.57,349.60h9.13v3.06h-9.13zM382.57,354.11h9.13v1.55h-9.13zM382.57,357.11h9.13v1.55h-9.13zM382.57,360.12h9.13v4.56h-9.13zM382.57,366.13h9.13v1.55h-9.13zM382.57,370.64h9.13v10.57h-9.13zM382.57,382.67h9.13v4.56h-9.13zM382.57,390.19h9.13v9.07h-9.13zM382.57,402.21h9.13v3.06h-9.13zM382.57,406.72h9.13v3.06h-9.13zM382.57,411.23h9.13v3.06h-9.13zM382.57,415.74h9.13v4.56h-9.13zM382.57,421.75h9.13v1.55h-9.13zM382.57,424.76h9.13v1.55h-9.13zM382.57,429.27h9.13v1.55h-9.13zM382.57,432.28h9.13v6.06h-9.13zM382.57,442.80h9.13v3.06h-9.13zM382.57,448.81h9.13v1.55h-9.13zM382.57,451.82h9.13v4.56h-9.13zM382.57,459.33h9.13v3.06h-9.13zM382.57,468.35h9.13v1.55h-9.13zM382.57,471.36h9.13v1.55h-9.13zM382.57,475.87h9.13v1.55h-9.13zM382.57,481.88h9.13v3.06h-9.13zM482.47,306.00h9.13v3.06h-9.13zM482.47,328.55h9.13v1.55h-9.13zM482.47,337.57h9.13v1.55h-9.13zM482.47,349.60h9.13v1.55h-9.13z" fill="#54c70e"/>
<path d="M346.25,418.75h9.13v1.55h-9.13zM355.33,357.11h9.13v1.55h-9.13zM355.33,418.75h9.13v1.55h-9.13zM364.41,418.75h9.13v1.55h-9.13zM364.41,475.87h9.13v3.06h-9.13zM373.49,475.87h9.13v3.06h-9.13zM391.65,304.50h9.13v1.55h-9.13zM391.65,309.01h9.13v1.55h-9.13zM391.65,312.02h9.13v3.06h-9.13zM391.65,325.55h9.13v1.55h-9.13zM391.65,336.07h9.13v1.55h-9.13zM391.65,339.07h9.13v1.55h-9.13zM391.65,342.08h9.13v1.55h-9.13zM391.65,370.64h9.13v3.06h-9.13zM391.65,378.16h9.13v1.55h-9.13zM391.65,396.20h9.13v3.06h-9.13zM391.65,418.75h9.13v1.55h-9.13zM391.65,421.75h9.13v3.06h-9.13zM391.65,453.32h9.13v7.57h-9.13zM391.65,469.86h9.13v1.55h-9.13zM391.65,474.37h9.13v4.56h-9.13zM391.65,483.39h9.13v1.55h-9.13zM391.65,487.90h9.13v1.55h-9.13zM400.74,327.05h9.13v1.55h-9.13zM400.74,354.11h9.13v1.55h-9.13zM400.74,364.63h9.13v1.55h-9.13zM400.74,396.20h9.13v1.55h-9.13zM400.74,403.71h9.13v1.55h-9.13zM400.74,414.24h9.13v1.55h-9.13zM400.74,420.25h9.13v1.55h-9.13zM400.74,426.26h9.13v1.55h-9.13zM418.90,310.51h9.13v1.55h-9.13zM418.90,315.02h9.13v4.56h-9.13zM418.90,324.04h9.13v1.55h-9.13zM418.90,336.07h9.13v1.55h-9.13zM418.90,348.09h9.13v1.55h-9.13zM418.90,351.10h9.13v3.06h-9.13zM418.90,357.11h9.13v1.55h-9.13zM418.90,369.14h9.13v1.55h-9.13zM418.90,376.66h9.13v1.55h-9.13zM418.90,381.17h9.13v3.06h-9.13zM418.90,393.19h9.13v1.55h-9.13zM418.90,408.22h9.13v1.55h-9.13zM418.90,429.27h9.13v1.55h-9.13zM418.90,435.28h9.13v1.55h-9.13zM418.90,444.30h9.13v4.56h-9.13zM418.90,450.32h9.13v1.55h-9.13zM418.90,457.83h9.13v1.55h-9.13zM418.90,463.84h9.13v4.56h-9.13zM418.90,471.36h9.13v1.55h-9.13zM418.90,474.37h9.13v1.55h-9.13zM418.90,484.89h9.13v1.55h-9.13zM427.98,328.55h9.13v1.55h-9.13zM427.98,337.57h9.13v1.55h-9.13zM427.98,381.17h9.13v1.55h-9.13zM427.98,417.24h9.13v1.55h-9.13zM437.06,307.51h9.13v1.55h-9.13zM437.06,337.57h9.13v1.55h-9.13zM437.06,379.66h9.13v1.55h-9.13zM437.06,385.68h9.13v1.55h-9.13zM437.06,408.22h9.13v1.55h-9.13zM437.06,417.24h9.13v1.55h-9.13zM437.06,426.26h9.13v1.55h-9.13zM446.15,331.56h9.13v1.55h-9.13zM446.15,415.74h9.13v1.55h-9.13zM482.47,361.62h9.13v1.55h-9.13zM482.47,427.77h9.13v1.55h-9.13zM482.47,448.81h9.13v1.55h-9.13zM482.47,462.34h9.13v1.55h-9.13zM482.47,486.39h9.13v1.55h-9.13zM509.72,306.00h9.13v1.55h-9.13zM509.72,331.56h9.13v1.55h-9.13zM509.72,337.57h9.13v1.55h-9.13zM509.72,385.68h9.13v1.55h-9.13zM509.72,409.73h9.13v1.55h-9.13zM509.72,417.24h9.13v1.55h-9.13zM509.72,426.26h9.13v1.55h-9.13zM509.72,438.29h9.13v1.55h-9.13zM509.72,472.86h9.13v1.55h-9.13zM509.72,480.38h9.13v1.55h-9.13z" fill="#7ca510"/>
<path d="M346.25,420.25h9.13v1.55h-9.13zM355.33,385.68h9.13v1.55h-9.13zM355.33,420.25h9.13v1.55h-9.13zM355.33,475.87h9.13v3.06h-9.13zM364.41,357.11h9.13v1.55h-9.13zM364.41,420.25h9.13v1.55h-9.13zM391.65,316.53h9.13v1.55h-9.13zM391.65,319.53h9.13v1.55h-9.13zM391.65,322.54h9.13v3.06h-9.13zM391.65,331.56h9.13v1.55h-9.13zM391.65,348.09h9.13v1.55h-9.13zM391.65,352.60h9.13v3.06h-9.13zM391.65,363.13h9.13v6.06h-9.13zM391.65,375.15h9.13v3.06h-9.13zM391.65,379.66h9.13v1.55h-9.13zM391.65,382.67h9.13v4.56h-9.13zM391.65,388.68h9.13v3.06h-9.13zM391.65,394.70h9.13v1.55h-9.13zM391.65,399.20h9.13v1.55h-9.13zM391.65,412.73h9.13v1.55h-9.13zM391.65,433.78h9.13v1.55h-9.13zM391.65,436.79h9.13v1.55h-9.13zM391.65,450.32h9.13v1.55h-9.13zM391.65,465.35h9.13v1.55h-9.13zM391.65,471.36h9.13v3.06h-9.13zM391.65,478.88h9.13v1.55h-9.13zM391.65,481.88h9.13v1.55h-9.13zM391.65,484.89h9.13v1.55h-9.13zM400.74,337.57h9.13v1.55h-9.13zM400.74,349.60h9.13v1.55h-9.13zM400.74,360.12h9.13v1.55h-9.13zM400.74,417.24h9.13v1.55h-9.13zM400.74,480.38h9.13v1.55h-9.13zM418.90,306.00h9.13v1.55h-9.13zM418.90,312.02h9.13v3.06h-9.13zM418.90,325.55h9.13v1.55h-9.13zM418.90,331.56h9.13v3.06h-9.13zM418.90,339.07h9.13v1.55h-9.13zM418.90,349.60h9.13v1.55h-9.13zM418.90,354.11h9.13v3.06h-9.13zM418.90,358.62h9.13v1.55h-9.13zM418.90,361.62h9.13v1.55h-9.13zM418.90,364.63h9.13v4.56h-9.13zM418.90,375.15h9.13v1.55h-9.13zM418.90,378.16h9.13v1.55h-9.13zM418.90,385.68h9.13v1.55h-9.13zM418.90,388.68h9.13v1.55h-9.13zM418.90,394.70h9.13v1.55h-9.13zM418.90,397.70h9.13v1.55h-9.13zM418.90,400.71h9.13v1.55h-9.13zM418.90,403.71h9.13v1.55h-9.13zM418.90,406.72h9.13v1.55h-9.13zM418.90,411.23h9.13v1.55h-9.13zM418.90,414.24h9.13v1.55h-9.13zM418.90,469.86h9.13v1.55h-9.13zM418.90,483.39h9.13v1.55h-9.13zM427.98,306.00h9.13v1.55h-9.13zM427.98,478.88h9.13v3.06h-9.13zM437.06,480.38h9.13v1.55h-9.13zM482.47,309.01h9.13v1.55h-9.13zM482.47,318.03h9.13v1.55h-9.13zM482.47,324.04h9.13v1.55h-9.13zM482.47,336.07h9.13v1.55h-9.13zM482.47,345.09h9.13v3.06h-9.13zM482.47,352.60h9.13v1.55h-9.13zM482.47,357.11h9.13v1.55h-9.13zM482.47,369.14h9.13v1.55h-9.13zM482.47,372.15h9.13v3.06h-9.13zM482.47,378.16h9.13v1.55h-9.13zM482.47,387.18h9.13v1.55h-9.13zM482.47,424.76h9.13v1.55h-9.13zM482.47,429.27h9.13v1.55h-9.13zM482.47,435.28h9.13v3.06h-9.13zM482.47,441.30h9.13v1.55h-9.13zM482.47,444.30h9.13v1.55h-9.13zM482.47,447.31h9.13v1.55h-9.13zM482.47,450.32h9.13v1.55h-9.13zM482.47,457.83h9.13v3.06h-9.13zM482.47,477.37h9.13v3.06h-9.13zM509.72,328.55h9.13v1.55h-9.13zM509.72,333.06h9.13v1.55h-9.13z" fill="#74ac10"/>
<path d="M355.33,312.02h9.13v1.55h-9.13zM355.33,321.04h9.13v1.55h-9.13zM355.33,345.09h9.13v1.55h-9.13zM355.33,373.65h9.13v3.06h-9.13zM355.33,433.78h9.13v1.55h-9.13zM364.41,435.28h9.13v3.06h-9.13zM373.49,310.51h9.13v1.55h-9.13zM373.49,318.03h9.13v1.55h-9.13zM373.49,325.55h9.13v1.55h-9.13zM373.49,343.58h9.13v1.55h-9.13zM373.49,357.11h9.13v1.55h-9.13zM373.49,373.65h9.13v1.55h-9.13zM373.49,378.16h9.13v1.55h-9.13zM373.49,397.70h9.13v1.55h-9.13zM373.49,424.76h9.13v1.55h-9.13zM373.49,427.77h9.13v1.55h-9.13zM373.49,432.28h9.13v4.56h-9.13zM373.49,441.30h9.13v3.06h-9.13zM373.49,457.83h9.13v1.55h-9.13zM382.57,315.02h9.13v1.55h-9.13zM382.57,352.60h9.13v1.55h-9.13zM382.57,369.14h9.13v1.55h-9.13zM382.57,387.18h9.13v3.06h-9.13zM382.57,423.26h9.13v1.55h-9.13zM382.57,441.30h9.13v1.55h-9.13zM382.57,477.37h9.13v1.55h-9.13zM391.65,415.74h9.13v1.55h-9.13zM418.90,304.50h9.13v1.55h-9.13zM418.90,423.26h9.13v1.55h-9.13zM482.47,322.54h9.13v1.55h-9.13zM482.47,330.06h9.13v4.56h-9.13zM482.47,351.10h9.13v1.55h-9.13zM482.47,355.61h9.13v1.55h-9.13zM482.47,385.68h9.13v1.55h-9.13zM482.47,400.71h9.13v1.55h-9.13zM482.47,403.71h9.13v1.55h-9.13zM482.47,406.72h9.13v1.55h-9.13zM482.47,414.24h9.13v1.55h-9.13zM482.47,417.24h9.13v1.55h-9.13zM482.47,439.79h9.13v1.55h-9.13zM482.47,445.81h9.13v1.55h-9.13zM482.47,469.86h9.13v1.55h-9.13zM482.47,472.86h9.13v1.55h-9.13zM482.47,484.89h9.13v1.55h-9.13z" fill="#5cc00e"/>
<path d="M391.65,306.00h9.13v3.06h-9.13zM391.65,315.02h9.13v1.55h-9.13zM391.65,321.04h9.13v1.55h-9.13zM391.65,327.05h9.13v3.06h-9.13zM391.65,337.57h9.13v1.55h-9.13zM391.65,343.58h9.13v1.55h-9.13zM391.65,349.60h9.13v3.06h-9.13zM391.65,355.61h9.13v1.55h-9.13zM391.65,358.62h9.13v4.56h-9.13zM391.65,400.71h9.13v1.55h-9.13zM391.65,405.22h9.13v6.06h-9.13zM391.65,417.24h9.13v1.55h-9.13zM391.65,420.25h9.13v1.55h-9.13zM391.65,430.77h9.13v1.55h-9.13zM391.65,439.79h9.13v1.55h-9.13zM418.90,307.51h9.13v1.55h-9.13zM418.90,319.53h9.13v1.55h-9.13zM418.90,322.54h9.13v1.55h-9.13zM418.90,327.05h9.13v1.55h-9.13zM418.90,330.06h9.13v1.55h-9.13zM418.90,334.57h9.13v1.55h-9.13zM418.90,343.58h9.13v1.55h-9.13zM418.90,360.12h9.13v1.55h-9.13zM418.90,363.13h9.13v1.55h-9.13zM418.90,379.66h9.13v1.55h-9.13zM418.90,384.17h9.13v1.55h-9.13zM418.90,390.19h9.13v1.55h-9.13zM418.90,396.20h9.13v1.55h-9.13zM418.90,402.21h9.13v1.55h-9.13zM418.90,405.22h9.13v1.55h-9.13zM418.90,412.73h9.13v1.55h-9.13zM418.90,420.25h9.13v3.06h-9.13zM418.90,426.26h9.13v1.55h-9.13zM418.90,430.77h9.13v1.55h-9.13zM418.90,438.29h9.13v3.06h-9.13zM482.47,310.51h9.13v6.06h-9.13zM482.47,321.04h9.13v1.55h-9.13zM482.47,325.55h9.13v1.55h-9.13zM482.47,334.57h9.13v1.55h-9.13zM482.47,342.08h9.13v3.06h-9.13zM482.47,358.62h9.13v1.55h-9.13zM482.47,363.13h9.13v1.55h-9.13zM482.47,375.15h9.13v1.55h-9.13zM482.47,381.17h9.13v4.56h-9.13zM482.47,388.68h9.13v1.55h-9.13zM482.47,394.70h9.13v1.55h-9.13zM482.47,399.20h9.13v1.55h-9.13zM482.47,402.21h9.13v1.55h-9.13zM482.47,421.75h9.13v3.06h-9.13zM482.47,433.78h9.13v1.55h-9.13zM482.47,471.36h9.13v1.55h-9.13zM482.47,474.37h9.13v3.06h-9.13zM482.47,483.39h9.13v1.55h-9.13z" fill="#6db210"/>
<path d="M391.65,310.51h9.13v1.55h-9.13zM391.65,345.09h9.13v1.55h-9.13zM391.65,357.11h9.13v1.55h-9.13zM391.65,381.17h9.13v1.55h-9.13zM391.65,387.18h9.13v1.55h-9.13zM391.65,393.19h9.13v1.55h-9.13zM391.65,402.21h9.13v1.55h-9.13zM391.65,411.23h9.13v1.55h-9.13zM391.65,424.76h9.13v1.55h-9.13zM391.65,427.77h9.13v1.55h-9.13zM391.65,442.80h9.13v4.56h-9.13zM391.65,451.82h9.13v1.55h-9.13zM391.65,462.34h9.13v3.06h-9.13zM400.74,306.00h9.13v3.06h-9.13zM400.74,313.52h9.13v1.55h-9.13zM400.74,319.53h9.13v1.55h-9.13zM400.74,325.55h9.13v1.55h-9.13zM400.74,333.06h9.13v1.55h-9.13zM400.74,342.08h9.13v1.55h-9.13zM400.74,348.09h9.13v1.55h-9.13zM400.74,351.10h9.13v1.55h-9.13zM400.74,361.62h9.13v1.55h-9.13zM400.74,367.64h9.13v1.55h-9.13zM400.74,376.66h9.13v1.55h-9.13zM400.74,379.66h9.13v3.06h-9.13zM400.74,384.17h9.13v3.06h-9.13zM400.74,400.71h9.13v1.55h-9.13zM400.74,405.22h9.13v1.55h-9.13zM400.74,408.22h9.13v4.56h-9.13zM400.74,415.74h9.13v1.55h-9.13zM400.74,430.77h9.13v1.55h-9.13zM400.74,438.29h9.13v1.55h-9.13zM400.74,465.35h9.13v1.55h-9.13zM400.74,472.86h9.13v1.55h-9.13zM409.82,306.00h9.13v1.55h-9.13zM409.82,409.73h9.13v1.55h-9.13zM418.90,309.01h9.13v1.55h-9.13zM418.90,321.04h9.13v1.55h-9.13zM418.90,342.08h9.13v1.55h-9.13zM418.90,345.09h9.13v3.06h-9.13zM418.90,370.64h9.13v1.55h-9.13zM418.90,391.69h9.13v1.55h-9.13zM418.90,418.75h9.13v1.55h-9.13zM418.90,424.76h9.13v1.55h-9.13zM418.90,427.77h9.13v1.55h-9.13zM418.90,433.78h9.13v1.55h-9.13zM418.90,451.82h9.13v1.55h-9.13zM418.90,456.33h9.13v1.55h-9.13zM418.90,460.84h9.13v1.55h-9.13zM418.90,481.88h9.13v1.55h-9.13zM418.90,486.39h9.13v3.06h-9.13zM427.98,304.50h9.13v1.55h-9.13zM427.98,319.53h9.13v1.55h-9.13zM427.98,322.54h9.13v1.55h-9.13zM427.98,330.06h9.13v1.55h-9.13zM427.98,334.57h9.13v1.55h-9.13zM427.98,342.08h9.13v1.55h-9.13zM427.98,360.12h9.13v1.55h-9.13zM427.98,364.63h9.13v1.55h-9.13zM427.98,376.66h9.13v1.55h-9.13zM427.98,393.19h9.13v1.55h-9.13zM427.98,396.20h9.13v1.55h-9.13zM427.98,406.72h9.13v1.55h-9.13zM427.98,411.23h9.13v3.06h-9.13zM427.98,415.74h9.13v1.55h-9.13zM427.98,426.26h9.13v1.55h-9.13zM427.98,430.77h9.13v1.55h-9.13zM427.98,438.29h9.13v3.06h-9.13zM427.98,472.86h9.13v1.55h-9.13zM427.98,484.89h9.13v1.55h-9.13zM437.06,306.00h9.13v1.55h-9.13zM437.06,328.55h9.13v3.06h-9.13zM437.06,339.07h9.13v1.55h-9.13zM437.06,355.61h9.13v4.56h-9.13zM437.06,364.63h9.13v1.55h-9.13zM437.06,399.20h9.13v3.06h-9.13zM437.06,403.71h9.13v1.55h-9.13zM437.06,406.72h9.13v1.55h-9.13zM437.06,409.73h9.13v3.06h-9.13zM437.06,414.24h9.13v3.06h-9.13zM437.06,430.77h9.13v1.55h-9.13zM437.06,439.79h9.13v1.55h-9.13zM437.06,465.35h9.13v1.55h-9.13zM437.06,472.86h9.13v1.55h-9.13zM446.15,306.00h9.13v3.06h-9.13zM446.15,327.05h9.13v3.06h-9.13zM446.15,337.57h9.13v1.55h-9.13zM446.15,360.12h9.13v1.55h-9.13zM446.15,382.67h9.13v1.55h-9.13zM446.15,412.73h9.13v1.55h-9.13zM446.15,439.79h9.13v1.55h-9.13zM446.15,472.86h9.13v1.55h-9.13zM446.15,480.38h9.13v1.55h-9.13zM455.23,480.38h9.13v1.55h-9.13zM482.47,418.75h9.13v1.55h-9.13zM482.47,432.28h9.13v1.55h-9.13zM482.47,460.84h9.13v1.55h-9.13zM509.72,313.52h9.13v1.55h-9.13zM509.72,322.54h9.13v3.06h-9.13zM509.72,327.05h9.13v1.55h-9.13zM509.72,339.07h9.13v1.55h-9.13zM509.72,351.10h9.13v1.55h-9.13zM509.72,360.12h9.13v1.55h-9.13zM509.72,364.63h9.13v1.55h-9.13zM509.72,397.70h9.13v1.55h-9.13zM509.72,406.72h9.13v1.55h-9.13zM509.72,412.73h9.13v1.55h-9.13zM509.72,415.74h9.13v1.55h-9.13zM509.72,420.25h9.13v1.55h-9.13zM509.72,478.88h9.13v1.55h-9.13z" fill="#849e11"/>
<path d="M391.65,318.03h9.13v1.55h-9.13zM391.65,346.59h9.13v1.55h-9.13zM391.65,373.65h9.13v1.55h-9.13zM391.65,391.69h9.13v1.55h-9.13zM391.65,435.28h9.13v1.55h-9.13zM391.65,447.31h9.13v3.06h-9.13zM391.65,460.84h9.13v1.55h-9.13zM391.65,466.85h9.13v1.55h-9.13zM391.65,486.39h9.13v1.55h-9.13zM400.74,304.50h9.13v1.55h-9.13zM400.74,315.02h9.13v1.55h-9.13zM400.74,321.04h9.13v3.06h-9.13zM400.74,328.55h9.13v1.55h-9.13zM400.74,331.56h9.13v1.55h-9.13zM400.74,334.57h9.13v3.06h-9.13zM400.74,339.07h9.13v3.06h-9.13zM400.74,352.60h9.13v1.55h-9.13zM400.74,355.61h9.13v4.56h-9.13zM400.74,388.68h9.13v1.55h-9.13zM400.74,393.19h9.13v3.06h-9.13zM400.74,397.70h9.13v1.55h-9.13zM400.74,402.21h9.13v1.55h-9.13zM400.74,406.72h9.13v1.55h-9.13zM400.74,418.75h9.13v1.55h-9.13zM400.74,421.75h9.13v1.55h-9.13zM400.74,429.27h9.13v1.55h-9.13zM400.74,439.79h9.13v1.55h-9.13zM400.74,445.81h9.13v1.55h-9.13zM400.74,469.86h9.13v1.55h-9.13zM400.74,478.88h9.13v1.55h-9.13zM400.74,483.39h9.13v3.06h-9.13zM409.82,307.51h9.13v1.55h-9.13zM409.82,400.71h9.13v1.55h-9.13zM409.82,403.71h9.13v1.55h-9.13zM409.82,411.23h9.13v1.55h-9.13zM409.82,420.25h9.13v1.55h-9.13zM409.82,430.77h9.13v1.55h-9.13zM409.82,472.86h9.13v1.55h-9.13zM418.90,340.58h9.13v1.55h-9.13zM418.90,372.15h9.13v3.06h-9.13zM418.90,387.18h9.13v1.55h-9.13zM418.90,436.79h9.13v1.55h-9.13zM418.90,442.80h9.13v1.55h-9.13zM418.90,453.32h9.13v3.06h-9.13zM418.90,462.34h9.13v1.55h-9.13zM418.90,475.87h9.13v3.06h-9.13zM427.98,307.51h9.13v1.55h-9.13zM427.98,310.51h9.13v3.06h-9.13zM427.98,316.53h9.13v1.55h-9.13zM427.98,325.55h9.13v3.06h-9.13zM427.98,331.56h9.13v3.06h-9.13zM427.98,336.07h9.13v1.55h-9.13zM427.98,343.58h9.13v1.55h-9.13zM427.98,348.09h9.13v3.06h-9.13zM427.98,352.60h9.13v4.56h-9.13zM427.98,358.62h9.13v1.55h-9.13zM427.98,361.62h9.13v1.55h-9.13zM427.98,366.13h9.13v3.06h-9.13zM427.98,382.67h9.13v1.55h-9.13zM427.98,385.68h9.13v1.55h-9.13zM427.98,388.68h9.13v3.06h-9.13zM427.98,394.70h9.13v1.55h-9.13zM427.98,400.71h9.13v1.55h-9.13zM427.98,403.71h9.13v3.06h-9.13zM427.98,420.25h9.13v3.06h-9.13zM427.98,429.27h9.13v1.55h-9.13zM427.98,445.81h9.13v1.55h-9.13zM427.98,450.32h9.13v1.55h-9.13zM427.98,469.86h9.13v1.55h-9.13zM427.98,474.37h9.13v1.55h-9.13zM437.06,304.50h9.13v1.55h-9.13zM437.06,310.51h9.13v1.55h-9.13zM437.06,313.52h9.13v1.55h-9.13zM437.06,319.53h9.13v4.56h-9.13zM437.06,327.05h9.13v1.55h-9.13zM437.06,333.06h9.13v4.56h-9.13zM437.06,348.09h9.13v1.55h-9.13zM437.06,354.11h9.13v1.55h-9.13zM437.06,367.64h9.13v1.55h-9.13zM437.06,375.15h9.13v1.55h-9.13zM437.06,388.68h9.13v1.55h-9.13zM437.06,394.70h9.13v3.06h-9.13zM437.06,412.73h9.13v1.55h-9.13zM437.06,420.25h9.13v3.06h-9.13zM437.06,469.86h9.13v1.55h-9.13zM437.06,474.37h9.13v1.55h-9.13zM446.15,310.51h9.13v1.55h-9.13zM446.15,330.06h9.13v1.55h-9.13zM446.15,339.07h9.13v1.55h-9.13zM446.15,355.61h9.13v1.55h-9.13zM446.15,364.63h9.13v1.55h-9.13zM446.15,367.64h9.13v1.55h-9.13zM446.15,379.66h9.13v1.55h-9.13zM446.15,388.68h9.13v1.55h-9.13zM446.15,393.19h9.13v1.55h-9.13zM446.15,403.71h9.13v3.06h-9.13zM446.15,409.73h9.13v1.55h-9.13zM446.15,414.24h9.13v1.55h-9.13zM446.15,417.24h9.13v1.55h-9.13zM446.15,420.25h9.13v1.55h-9.13zM446.15,423.26h9.13v1.55h-9.13zM446.15,426.26h9.13v1.55h-9.13zM446.15,429.27h9.13v3.06h-9.13zM446.15,465.35h9.13v1.55h-9.13zM446.15,474.37h9.13v1.55h-9.13zM446.15,478.88h9.13v1.55h-9.13zM446.15,484.89h9.13v1.55h-9.13zM455.23,339.07h9.13v1.55h-9.13zM482.47,391.69h9.13v1.55h-9.13zM482.47,442.80h9.13v1.55h-9.13zM509.72,304.50h9.13v1.55h-9.13zM509.72,307.51h9.13v1.55h-9.13zM509.72,319.53h9.13v3.06h-9.13zM509.72,330.06h9.13v1.55h-9.13zM509.72,336.07h9.13v1.55h-9.13zM509.72,340.58h9.13v4.56h-9.13zM509.72,348.09h9.13v1.55h-9.13zM509.72,354.11h9.13v3.06h-9.13zM509.72,358.62h9.13v1.55h-9.13zM509.72,367.64h9.13v6.06h-9.13zM509.72,375.15h9.13v3.06h-9.13zM509.72,379.66h9.13v1.55h-9.13zM509.72,388.68h9.13v3.06h-9.13zM509.72,393.19h9.13v1.55h-9.13zM509.72,400.71h9.13v1.55h-9.13zM509.72,403.71h9.13v3.06h-9.13zM509.72,411.23h9.13v1.55h-9.13zM509.72,414.24h9.13v1.55h-9.13zM509.72,421.75h9.13v1.55h-9.13zM509.72,429.27h9.13v3.06h-9.13zM509.72,436.79h9.13v1.55h-9.13zM509.72,439.79h9.13v1.55h-9.13zM509.72,465.35h9.13v1.55h-9.13zM509.72,469.86h9.13v1.55h-9.13zM509.72,474.37h9.13v3.06h-9.13zM509.72,483.39h9.13v3.06h-9.13zM509.72,487.90h9.13v1.55h-9.13z" fill="#8b9712"/>
<path d="M391.65,330.06h9.13v1.55h-9.13zM391.65,333.06h9.13v3.06h-9.13zM391.65,403.71h9.13v1.55h-9.13zM391.65,414.24h9.13v1.55h-9.13zM391.65,426.26h9.13v1.55h-9.13zM391.65,429.27h9.13v1.55h-9.13zM391.65,438.29h9.13v1.55h-9.13zM391.65,480.38h9.13v1.55h-9.13zM418.90,328.55h9.13v1.55h-9.13zM418.90,337.57h9.13v1.55h-9.13zM418.90,399.20h9.13v1.55h-9.13zM418.90,409.73h9.13v1.55h-9.13zM418.90,415.74h9.13v3.06h-9.13zM418.90,472.86h9.13v1.55h-9.13zM418.90,478.88h9.13v3.06h-9.13zM482.47,304.50h9.13v1.55h-9.13zM482.47,316.53h9.13v1.55h-9.13zM482.47,319.53h9.13v1.55h-9.13zM482.47,327.05h9.13v1.55h-9.13zM482.47,339.07h9.13v3.06h-9.13zM482.47,348.09h9.13v1.55h-9.13zM482.47,354.11h9.13v1.55h-9.13zM482.47,360.12h9.13v1.55h-9.13zM482.47,364.63h9.13v4.56h-9.13zM482.47,370.64h9.13v1.55h-9.13zM482.47,376.66h9.13v1.55h-9.13zM482.47,379.66h9.13v1.55h-9.13zM482.47,390.19h9.13v1.55h-9.13zM482.47,393.19h9.13v1.55h-9.13zM482.47,396.20h9.13v3.06h-9.13zM482.47,405.22h9.13v1.55h-9.13zM482.47,420.25h9.13v1.55h-9.13zM482.47,426.26h9.13v1.55h-9.13zM482.47,430.77h9.13v1.55h-9.13zM482.47,438.29h9.13v1.55h-9.13zM482.47,487.90h9.13v1.55h-9.13z" fill="#65b90f"/>
<path d="M391.65,340.58h9.13v1.55h-9.13zM391.65,369.14h9.13v1.55h-9.13zM391.65,432.28h9.13v1.55h-9.13zM391.65,441.30h9.13v1.55h-9.13zM391.65,468.35h9.13v1.55h-9.13zM400.74,309.01h9.13v3.06h-9.13zM400.74,316.53h9.13v1.55h-9.13zM400.74,324.04h9.13v1.55h-9.13zM400.74,330.06h9.13v1.55h-9.13zM400.74,343.58h9.13v1.55h-9.13zM400.74,346.59h9.13v1.55h-9.13zM400.74,366.13h9.13v1.55h-9.13zM400.74,370.64h9.13v3.06h-9.13zM400.74,375.15h9.13v1.55h-9.13zM400.74,378.16h9.13v1.55h-9.13zM400.74,382.67h9.13v1.55h-9.13zM400.74,390.19h9.13v1.55h-9.13zM400.74,399.20h9.13v1.55h-9.13zM400.74,412.73h9.13v1.55h-9.13zM400.74,423.26h9.13v1.55h-9.13zM400.74,427.77h9.13v1.55h-9.13zM400.74,433.78h9.13v4.56h-9.13zM400.74,447.31h9.13v1.55h-9.13zM400.74,456.33h9.13v1.55h-9.13zM400.74,460.84h9.13v1.55h-9.13zM400.74,471.36h9.13v1.55h-9.13zM400.74,474.37h9.13v3.06h-9.13zM400.74,481.88h9.13v1.55h-9.13zM400.74,486.39h9.13v1.55h-9.13zM409.82,328.55h9.13v1.55h-9.13zM409.82,333.06h9.13v1.55h-9.13zM409.82,337.57h9.13v1.55h-9.13zM409.82,349.60h9.13v1.55h-9.13zM409.82,355.61h9.13v1.55h-9.13zM409.82,388.68h9.13v1.55h-9.13zM409.82,405.22h9.13v1.55h-9.13zM409.82,417.24h9.13v1.55h-9.13zM409.82,426.26h9.13v1.55h-9.13zM409.82,436.79h9.13v1.55h-9.13zM409.82,439.79h9.13v1.55h-9.13zM418.90,432.28h9.13v1.55h-9.13zM418.90,441.30h9.13v1.55h-9.13zM418.90,448.81h9.13v1.55h-9.13zM418.90,459.33h9.13v1.55h-9.13zM418.90,468.35h9.13v1.55h-9.13zM427.98,309.01h9.13v1.55h-9.13zM427.98,315.02h9.13v1.55h-9.13zM427.98,321.04h9.13v1.55h-9.13zM427.98,324.04h9.13v1.55h-9.13zM427.98,339.07h9.13v1.55h-9.13zM427.98,351.10h9.13v1.55h-9.13zM427.98,363.13h9.13v1.55h-9.13zM427.98,375.15h9.13v1.55h-9.13zM427.98,379.66h9.13v1.55h-9.13zM427.98,384.17h9.13v1.55h-9.13zM427.98,391.69h9.13v1.55h-9.13zM427.98,397.70h9.13v3.06h-9.13zM427.98,408.22h9.13v3.06h-9.13zM427.98,414.24h9.13v1.55h-9.13zM427.98,424.76h9.13v1.55h-9.13zM427.98,436.79h9.13v1.55h-9.13zM427.98,444.30h9.13v1.55h-9.13zM427.98,453.32h9.13v1.55h-9.13zM427.98,460.84h9.13v1.55h-9.13zM427.98,465.35h9.13v1.55h-9.13zM427.98,475.87h9.13v1.55h-9.13zM427.98,483.39h9.13v1.55h-9.13zM437.06,316.53h9.13v1.55h-9.13zM437.06,324.04h9.13v3.06h-9.13zM437.06,331.56h9.13v1.55h-9.13zM437.06,340.58h9.13v1.55h-9.13zM437.06,343.58h9.13v1.55h-9.13zM437.06,349.60h9.13v1.55h-9.13zM437.06,360.12h9.13v1.55h-9.13zM437.06,363.13h9.13v1.55h-9.13zM437.06,376.66h9.13v3.06h-9.13zM437.06,381.17h9.13v1.55h-9.13zM437.06,384.17h9.13v1.55h-9.13zM437.06,390.19h9.13v1.55h-9.13zM437.06,393.19h9.13v1.55h-9.13zM437.06,397.70h9.13v1.55h-9.13zM437.06,402.21h9.13v1.55h-9.13zM437.06,423.26h9.13v1.55h-9.13zM437.06,445.81h9.13v1.55h-9.13zM437.06,466.85h9.13v1.55h-9.13zM437.06,475.87h9.13v1.55h-9.13zM437.06,478.88h9.13v1.55h-9.13zM437.06,487.90h9.13v1.55h-9.13zM446.15,304.50h9.13v1.55h-9.13zM446.15,309.01h9.13v1.55h-9.13zM446.15,313.52h9.13v1.55h-9.13zM446.15,316.53h9.13v1.55h-9.13zM446.15,319.53h9.13v7.57h-9.13zM446.15,340.58h9.13v3.06h-9.13zM446.15,345.09h9.13v1.55h-9.13zM446.15,348.09h9.13v4.56h-9.13zM446.15,354.11h9.13v1.55h-9.13zM446.15,357.11h9.13v3.06h-9.13zM446.15,366.13h9.13v1.55h-9.13zM446.15,375.15h9.13v1.55h-9.13zM446.15,381.17h9.13v1.55h-9.13zM446.15,385.68h9.13v1.55h-9.13zM446.15,390.19h9.13v1.55h-9.13zM446.15,396.20h9.13v7.57h-9.13zM446.15,406.72h9.13v3.06h-9.13zM446.15,411.23h9.13v1.55h-9.13zM446.15,436.79h9.13v3.06h-9.13zM446.15,444.30h9.13v1.55h-9.13zM446.15,466.85h9.13v1.55h-9.13zM446.15,469.86h9.13v3.06h-9.13zM446.15,475.87h9.13v1.55h-9.13zM455.23,328.55h9.13v3.06h-9.13zM455.23,334.57h9.13v1.55h-9.13zM455.23,337.57h9.13v1.55h-9.13zM455.23,360.12h9.13v1.55h-9.13zM455.23,364.63h9.13v1.55h-9.13zM455.23,396.20h9.13v1.55h-9.13zM455.23,411.23h9.13v1.55h-9.13zM455.23,414.24h9.13v3.06h-9.13zM455.23,420.25h9.13v1.55h-9.13zM455.23,439.79h9.13v1.55h-9.13zM455.23,478.88h9.13v1.55h-9.13zM473.39,417.24h9.13v1.55h-9.13zM509.72,309.01h9.13v3.06h-9.13zM509.72,316.53h9.13v1.55h-9.13zM509.72,325.55h9.13v1.55h-9.13zM509.72,334.57h9.13v1.55h-9.13zM509.72,345.09h9.13v1.55h-9.13zM509.72,349.60h9.13v1.55h-9.13zM509.72,357.11h9.13v1.55h-9.13zM509.72,363.13h9.13v1.55h-9.13zM509.72,366.13h9.13v1.55h-9.13zM509.72,378.16h9.13v1.55h-9.13zM509.72,381.17h9.13v3.06h-9.13zM509.72,394.70h9.13v3.06h-9.13zM509.72,399.20h9.13v1.55h-9.13zM509.72,402.21h9.13v1.55h-9.13zM509.72,408.22h9.13v1.55h-9.13zM509.72,423.26h9.13v1.55h-9.13zM509.72,433.78h9.13v1.55h-9.13zM509.72,444.30h9.13v1.55h-9.13zM509.72,463.84h9.13v1.55h-9.13zM509.72,471.36h9.13v1.55h-9.13zM509.72,481.88h9.13v1.55h-9.13zM509.72,486.39h9.13v1.55h-9.13z" fill="#929012"/>
<path d="M400.74,312.02h9.13v1.55h-9.13zM400.74,318.03h9.13v1.55h-9.13zM400.74,369.14h9.13v1.55h-9.13zM400.74,373.65h9.13v1.55h-9.13zM400.74,387.18h9.13v1.55h-9.13zM400.74,424.76h9.13v1.55h-9.13zM400.74,432.28h9.13v1.55h-9.13zM400.74,450.32h9.13v4.56h-9.13zM400.74,457.83h9.13v3.06h-9.13zM400.74,463.84h9.13v1.55h-9.13zM400.74,466.85h9.13v3.06h-9.13zM400.74,477.37h9.13v1.55h-9.13zM400.74,487.90h9.13v1.55h-9.13zM409.82,304.50h9.13v1.55h-9.13zM409.82,309.01h9.13v3.06h-9.13zM409.82,316.53h9.13v1.55h-9.13zM409.82,319.53h9.13v1.55h-9.13zM409.82,322.54h9.13v3.06h-9.13zM409.82,327.05h9.13v1.55h-9.13zM409.82,331.56h9.13v1.55h-9.13zM409.82,336.07h9.13v1.55h-9.13zM409.82,339.07h9.13v1.55h-9.13zM409.82,343.58h9.13v1.55h-9.13zM409.82,348.09h9.13v1.55h-9.13zM409.82,351.10h9.13v4.56h-9.13zM409.82,357.11h9.13v6.06h-9.13zM409.82,364.63h9.13v4.56h-9.13zM409.82,379.66h9.13v1.55h-9.13zM409.82,382.67h9.13v1.55h-9.13zM409.82,385.68h9.13v1.55h-9.13zM409.82,390.19h9.13v1.55h-9.13zM409.82,394.70h9.13v1.55h-9.13zM409.82,397.70h9.13v1.55h-9.13zM409.82,414.24h9.13v3.06h-9.13zM409.82,421.75h9.13v3.06h-9.13zM409.82,438.29h9.13v1.55h-9.13zM409.82,445.81h9.13v1.55h-9.13zM409.82,469.86h9.13v1.55h-9.13zM409.82,480.38h9.13v1.55h-9.13zM427.98,340.58h9.13v1.55h-9.13zM427.98,346.59h9.13v1.55h-9.13zM427.98,357.11h9.13v1.55h-9.13zM427.98,378.16h9.13v1.55h-9.13zM427.98,402.21h9.13v1.55h-9.13zM427.98,423.26h9.13v1.55h-9.13zM427.98,433.78h9.13v3.06h-9.13zM427.98,448.81h9.13v1.55h-9.13zM427.98,451.82h9.13v1.55h-9.13zM427.98,454.83h9.13v4.56h-9.13zM427.98,466.85h9.13v1.55h-9.13zM427.98,471.36h9.13v1.55h-9.13zM427.98,477.37h9.13v1.55h-9.13zM427.98,481.88h9.13v1.55h-9.13zM427.98,486.39h9.13v1.55h-9.13zM437.06,312.02h9.13v1.55h-9.13zM437.06,315.02h9.13v1.55h-9.13zM437.06,318.03h9.13v1.55h-9.13zM437.06,342.08h9.13v1.55h-9.13zM437.06,366.13h9.13v1.55h-9.13zM437.06,370.64h9.13v4.56h-9.13zM437.06,382.67h9.13v1.55h-9.13zM437.06,387.18h9.13v1.55h-9.13zM437.06,391.69h9.13v1.55h-9.13zM437.06,405.22h9.13v1.55h-9.13zM437.06,418.75h9.13v1.55h-9.13zM437.06,427.77h9.13v3.06h-9.13zM437.06,433.78h9.13v4.56h-9.13zM437.06,442.80h9.13v1.55h-9.13zM437.06,447.31h9.13v1.55h-9.13zM437.06,450.32h9.13v3.06h-9.13zM437.06,454.83h9.13v1.55h-9.13zM437.06,463.84h9.13v1.55h-9.13zM437.06,471.36h9.13v1.55h-9.13zM437.06,481.88h9.13v1.55h-9.13zM437.06,484.89h9.13v3.06h-9.13zM446.15,312.02h9.13v1.55h-9.13zM446.15,315.02h9.13v1.55h-9.13zM446.15,333.06h9.13v3.06h-9.13zM446.15,343.58h9.13v1.55h-9.13zM446.15,346.59h9.13v1.55h-9.13zM446.15,352.60h9.13v1.55h-9.13zM446.15,361.62h9.13v1.55h-9.13zM446.15,370.64h9.13v1.55h-9.13zM446.15,376.66h9.13v3.06h-9.13zM446.15,394.70h9.13v1.55h-9.13zM446.15,418.75h9.13v1.55h-9.13zM446.15,421.75h9.13v1.55h-9.13zM446.15,447.31h9.13v1.55h-9.13zM446.15,451.82h9.13v3.06h-9.13zM446.15,459.33h9.13v1.55h-9.13zM446.15,462.34h9.13v3.06h-9.13zM446.15,483.39h9.13v1.55h-9.13zM446.15,487.90h9.13v1.55h-9.13zM455.23,306.00h9.13v3.06h-9.13zM455.23,319.53h9.13v1.55h-9.13zM455.23,324.04h9.13v4.56h-9.13zM455.23,331.56h9.13v3.06h-9.13zM455.23,349.60h9.13v1.55h-9.13zM455.23,354.11h9.13v6.06h-9.13zM455.23,367.64h9.13v3.06h-9.13zM455.23,376.66h9.13v1.55h-9.13zM455.23,388.68h9.13v3.06h-9.13zM455.23,399.20h9.13v1.55h-9.13zM455.23,406.72h9.13v1.55h-9.13zM455.23,409.73h9.13v1.55h-9.13zM455.23,417.24h9.13v1.55h-9.13zM455.23,429.27h9.13v1.55h-9.13zM455.23,438.29h9.13v1.55h-9.13zM455.23,465.35h9.13v1.55h-9.13zM455.23,472.86h9.13v1.55h-9.13zM473.39,306.00h9.13v1.55h-9.13zM473.39,327.05h9.13v1.55h-9.13zM473.39,330.06h9.13v1.55h-9.13zM473.39,337.57h9.13v1.55h-9.13zM473.39,358.62h9.13v1.55h-9.13zM473.39,421.75h9.13v1.55h-9.13zM473.39,438.29h9.13v3.06h-9.13zM473.39,478.88h9.13v3.06h-9.13zM509.72,312.02h9.13v1.55h-9.13zM509.72,315.02h9.13v1.55h-9.13zM509.72,346.59h9.13v1.55h-9.13zM509.72,352.60h9.13v1.55h-9.13zM509.72,361.62h9.13v1.55h-9.13zM509.72,373.65h9.13v1.55h-9.13zM509.72,384.17h9.13v1.55h-9.13zM509.72,424.76h9.13v1.55h-9.13zM509.72,427.77h9.13v1.55h-9.13zM509.72,432.28h9.13v1.55h-9.13zM509.72,435.28h9.13v1.55h-9.13zM509.72,447.31h9.13v3.06h-9.13zM509.72,451.82h9.13v4.56h-9.13zM509.72,457.83h9.13v4.56h-9.13zM509.72,466.85h9.13v1.55h-9.13z" fill="#9a8812"/>
<path d="M400.74,345.09h9.13v1.55h-9.13zM400.74,363.13h9.13v1.55h-9.13zM400.74,391.69h9.13v1.55h-9.13zM400.74,442.80h9.13v3.06h-9.13zM400.74,448.81h9.13v1.55h-9.13zM400.74,454.83h9.13v1.55h-9.13zM400.74,462.34h9.13v1.55h-9.13zM409.82,312.02h9.13v1.55h-9.13zM409.82,321.04h9.13v1.55h-9.13zM409.82,325.55h9.13v1.55h-9.13zM409.82,330.06h9.13v1.55h-9.13zM409.82,334.57h9.13v1.55h-9.13zM409.82,342.08h9.13v1.55h-9.13zM409.82,345.09h9.13v1.55h-9.13zM409.82,363.13h9.13v1.55h-9.13zM409.82,370.64h9.13v1.55h-9.13zM409.82,376.66h9.13v3.06h-9.13zM409.82,381.17h9.13v1.55h-9.13zM409.82,384.17h9.13v1.55h-9.13zM409.82,393.19h9.13v1.55h-9.13zM409.82,396.20h9.13v1.55h-9.13zM409.82,399.20h9.13v1.55h-9.13zM409.82,406.72h9.13v3.06h-9.13zM409.82,427.77h9.13v3.06h-9.13zM409.82,444.30h9.13v1.55h-9.13zM409.82,450.32h9.13v1.55h-9.13zM409.82,453.32h9.13v1.55h-9.13zM409.82,457.83h9.13v1.55h-9.13zM409.82,463.84h9.13v4.56h-9.13zM409.82,471.36h9.13v1.55h-9.13zM409.82,475.87h9.13v4.56h-9.13zM409.82,481.88h9.13v4.56h-9.13zM427.98,313.52h9.13v1.55h-9.13zM427.98,345.09h9.13v1.55h-9.13zM427.98,370.64h9.13v4.56h-9.13zM427.98,418.75h9.13v1.55h-9.13zM427.98,427.77h9.13v1.55h-9.13zM427.98,432.28h9.13v1.55h-9.13zM427.98,442.80h9.13v1.55h-9.13zM427.98,447.31h9.13v1.55h-9.13zM427.98,459.33h9.13v1.55h-9.13zM427.98,462.34h9.13v3.06h-9.13zM427.98,468.35h9.13v1.55h-9.13zM427.98,487.90h9.13v1.55h-9.13zM437.06,309.01h9.13v1.55h-9.13zM437.06,346.59h9.13v1.55h-9.13zM437.06,351.10h9.13v3.06h-9.13zM437.06,361.62h9.13v1.55h-9.13zM437.06,369.14h9.13v1.55h-9.13zM437.06,424.76h9.13v1.55h-9.13zM437.06,432.28h9.13v1.55h-9.13zM437.06,438.29h9.13v1.55h-9.13zM437.06,441.30h9.13v1.55h-9.13zM437.06,444.30h9.13v1.55h-9.13zM437.06,448.81h9.13v1.55h-9.13zM437.06,453.32h9.13v1.55h-9.13zM437.06,456.33h9.13v7.57h-9.13zM437.06,477.37h9.13v1.55h-9.13zM437.06,483.39h9.13v1.55h-9.13zM446.15,318.03h9.13v1.55h-9.13zM446.15,363.13h9.13v1.55h-9.13zM446.15,369.14h9.13v1.55h-9.13zM446.15,372.15h9.13v1.55h-9.13zM446.15,384.17h9.13v1.55h-9.13zM446.15,387.18h9.13v1.55h-9.13zM446.15,424.76h9.13v1.55h-9.13zM446.15,432.28h9.13v3.06h-9.13zM446.15,441.30h9.13v1.55h-9.13zM446.15,445.81h9.13v1.55h-9.13zM446.15,448.81h9.13v1.55h-9.13zM446.15,456.33h9.13v3.06h-9.13zM446.15,460.84h9.13v1.55h-9.13zM446.15,477.37h9.13v1.55h-9.13zM446.15,481.88h9.13v1.55h-9.13zM446.15,486.39h9.13v1.55h-9.13zM455.23,304.50h9.13v1.55h-9.13zM455.23,310.51h9.13v1.55h-9.13zM455.23,313.52h9.13v1.55h-9.13zM455.23,318.03h9.13v1.55h-9.13zM455.23,321.04h9.13v1.55h-9.13zM455.23,336.07h9.13v1.55h-9.13zM455.23,342.08h9.13v3.06h-9.13zM455.23,348.09h9.13v1.55h-9.13zM455.23,351.10h9.13v3.06h-9.13zM455.23,361.62h9.13v1.55h-9.13zM455.23,372.15h9.13v1.55h-9.13zM455.23,375.15h9.13v1.55h-9.13zM455.23,378.16h9.13v3.06h-9.13zM455.23,384.17h9.13v3.06h-9.13zM455.23,393.19h9.13v1.55h-9.13zM455.23,400.71h9.13v6.06h-9.13zM455.23,408.22h9.13v1.55h-9.13zM455.23,412.73h9.13v1.55h-9.13zM455.23,421.75h9.13v6.06h-9.13zM455.23,430.77h9.13v1.55h-9.13zM455.23,436.79h9.13v1.55h-9.13zM455.23,444.30h9.13v1.55h-9.13zM455.23,471.36h9.13v1.55h-9.13zM455.23,481.88h9.13v1.55h-9.13zM455.23,484.89h9.13v1.55h-9.13zM455.23,487.90h9.13v1.55h-9.13zM473.39,313.52h9.13v1.55h-9.13zM473.39,319.53h9.13v1.55h-9.13zM473.39,325.55h9.13v1.55h-9.13zM473.39,328.55h9.13v1.55h-9.13zM473.39,331.56h9.13v4.56h-9.13zM473.39,349.60h9.13v1.55h-9.13zM473.39,354.11h9.13v1.55h-9.13zM473.39,357.11h9.13v1.55h-9.13zM473.39,376.66h9.13v1.55h-9.13zM473.39,381.17h9.13v1.55h-9.13zM473.39,396.20h9.13v1.55h-9.13zM473.39,405.22h9.13v1.55h-9.13zM473.39,412.73h9.13v4.56h-9.13zM473.39,420.25h9.13v1.55h-9.13zM473.39,430.77h9.13v1.55h-9.13zM473.39,451.82h9.13v1.55h-9.13zM473.39,469.86h9.13v4.56h-9.13zM509.72,318.03h9.13v1.55h-9.13zM509.72,387.18h9.13v1.55h-9.13zM509.72,391.69h9.13v1.55h-9.13zM509.72,418.75h9.13v1.55h-9.13zM509.72,445.81h9.13v1.55h-9.13zM509.72,450.32h9.13v1.55h-9.13zM509.72,456.33h9.13v1.55h-9.13zM509.72,462.34h9.13v1.55h-9.13zM509.72,468.35h9.13v1.55h-9.13zM509.72,477.37h9.13v1.55h-9.13z" fill="#a18111"/>
<path d="M400.74,441.30h9.13v1.55h-9.13zM409.82,313.52h9.13v3.06h-9.13zM409.82,318.03h9.13v1.55h-9.13zM409.82,340.58h9.13v1.55h-9.13zM409.82,346.59h9.13v1.55h-9.13zM409.82,373.65h9.13v3.06h-9.13zM409.82,391.69h9.13v1.55h-9.13zM409.82,402.21h9.13v1.55h-9.13zM409.82,412.73h9.13v1.55h-9.13zM409.82,418.75h9.13v1.55h-9.13zM409.82,424.76h9.13v1.55h-9.13zM409.82,433.78h9.13v3.06h-9.13zM409.82,441.30h9.13v1.55h-9.13zM409.82,447.31h9.13v3.06h-9.13zM409.82,451.82h9.13v1.55h-9.13zM409.82,459.33h9.13v1.55h-9.13zM409.82,474.37h9.13v1.55h-9.13zM409.82,486.39h9.13v3.06h-9.13zM427.98,318.03h9.13v1.55h-9.13zM427.98,387.18h9.13v1.55h-9.13zM427.98,441.30h9.13v1.55h-9.13zM437.06,345.09h9.13v1.55h-9.13zM437.06,468.35h9.13v1.55h-9.13zM446.15,336.07h9.13v1.55h-9.13zM446.15,427.77h9.13v1.55h-9.13zM446.15,435.28h9.13v1.55h-9.13zM446.15,450.32h9.13v1.55h-9.13zM446.15,454.83h9.13v1.55h-9.13zM446.15,468.35h9.13v1.55h-9.13zM455.23,312.02h9.13v1.55h-9.13zM455.23,315.02h9.13v1.55h-9.13zM455.23,322.54h9.13v1.55h-9.13zM455.23,340.58h9.13v1.55h-9.13zM455.23,345.09h9.13v3.06h-9.13zM455.23,363.13h9.13v1.55h-9.13zM455.23,366.13h9.13v1.55h-9.13zM455.23,381.17h9.13v3.06h-9.13zM455.23,418.75h9.13v1.55h-9.13zM455.23,445.81h9.13v3.06h-9.13zM455.23,450.32h9.13v3.06h-9.13zM455.23,454.83h9.13v1.55h-9.13zM455.23,460.84h9.13v1.55h-9.13zM455.23,466.85h9.13v1.55h-9.13zM455.23,474.37h9.13v4.56h-9.13zM464.31,439.79h9.13v1.55h-9.13zM464.31,480.38h9.13v1.55h-9.13zM473.39,304.50h9.13v1.55h-9.13zM473.39,307.51h9.13v3.06h-9.13zM473.39,312.02h9.13v1.55h-9.13zM473.39,318.03h9.13v1.55h-9.13zM473.39,321.04h9.13v4.56h-9.13zM473.39,339.07h9.13v1.55h-9.13zM473.39,343.58h9.13v1.55h-9.13zM473.39,351.10h9.13v1.55h-9.13zM473.39,360.12h9.13v1.55h-9.13zM473.39,364.63h9.13v3.06h-9.13zM473.39,379.66h9.13v1.55h-9.13zM473.39,382.67h9.13v1.55h-9.13zM473.39,388.68h9.13v3.06h-9.13zM473.39,393.19h9.13v3.06h-9.13zM473.39,399.20h9.13v3.06h-9.13zM473.39,406.72h9.13v6.06h-9.13zM473.39,426.26h9.13v1.55h-9.13zM473.39,429.27h9.13v1.55h-9.13zM473.39,436.79h9.13v1.55h-9.13zM473.39,445.81h9.13v1.55h-9.13zM473.39,484.89h9.13v1.55h-9.13zM491.55,409.73h9.13v1.55h-9.13zM491.55,415.74h9.13v1.55h-9.13zM491.55,429.27h9.13v1.55h-9.13zM500.64,360.12h9.13v1.55h-9.13zM500.64,417.24h9.13v1.55h-9.13zM500.64,430.77h9.13v1.55h-9.13zM509.72,441.30h9.13v1.55h-9.13z" fill="#a87a10"/>
<path d="M409.82,369.14h9.13v1.55h-9.13zM409.82,372.15h9.13v1.55h-9.13zM409.82,387.18h9.13v1.55h-9.13zM409.82,442.80h9.13v1.55h-9.13zM409.82,456.33h9.13v1.55h-9.13zM409.82,460.84h9.13v3.06h-9.13zM409.82,468.35h9.13v1.55h-9.13zM427.98,369.14h9.13v1.55h-9.13zM446.15,373.65h9.13v1.55h-9.13zM446.15,391.69h9.13v1.55h-9.13zM446.15,442.80h9.13v1.55h-9.13zM455.23,309.01h9.13v1.55h-9.13zM455.23,316.53h9.13v1.55h-9.13zM455.23,387.18h9.13v1.55h-9.13zM455.23,391.69h9.13v1.55h-9.13zM455.23,394.70h9.13v1.55h-9.13zM455.23,427.77h9.13v1.55h-9.13zM455.23,435.28h9.13v1.55h-9.13zM455.23,442.80h9.13v1.55h-9.13zM455.23,456.33h9.13v4.56h-9.13zM455.23,462.34h9.13v3.06h-9.13zM455.23,469.86h9.13v1.55h-9.13zM455.23,483.39h9.13v1.55h-9.13zM464.31,417.24h9.13v1.55h-9.13zM464.31,445.81h9.13v1.55h-9.13zM464.31,471.36h9.13v1.55h-9.13zM464.31,478.88h9.13v1.55h-9.13zM473.39,310.51h9.13v1.55h-9.13zM473.39,316.53h9.13v1.55h-9.13zM473.39,336.07h9.13v1.55h-9.13zM473.39,340.58h9.13v1.55h-9.13zM473.39,346.59h9.13v1.55h-9.13zM473.39,352.60h9.13v1.55h-9.13zM473.39,355.61h9.13v1.55h-9.13zM473.39,361.62h9.13v3.06h-9.13zM473.39,369.14h9.13v1.55h-9.13zM473.39,373.65h9.13v3.06h-9.13zM473.39,378.16h9.13v1.55h-9.13zM473.39,384.17h9.13v3.06h-9.13zM473.39,391.69h9.13v1.55h-9.13zM473.39,403.71h9.13v1.55h-9.13zM473.39,418.75h9.13v1.55h-9.13zM473.39,424.76h9.13v1.55h-9.13zM473.39,456.33h9.13v1.55h-9.13zM473.39,474.37h9.13v3.06h-9.13zM473.39,483.39h9.13v1.55h-9.13zM473.39,487.90h9.13v1.55h-9.13zM491.55,322.54h9.13v3.06h-9.13zM491.55,328.55h9.13v3.06h-9.13zM491.55,333.06h9.13v1.55h-9.13zM491.55,349.60h9.13v1.55h-9.13zM491.55,390.19h9.13v1.55h-9.13zM491.55,402.21h9.13v1.55h-9.13zM491.55,417.24h9.13v1.55h-9.13zM491.55,480.38h9.13v1.55h-9.13zM500.64,307.51h9.13v1.55h-9.13zM500.64,322.54h9.13v1.55h-9.13zM500.64,327.05h9.13v3.06h-9.13zM500.64,333.06h9.13v1.55h-9.13zM500.64,472.86h9.13v1.55h-9.13zM500.64,480.38h9.13v1.55h-9.13zM509.72,442.80h9.13v1.55h-9.13z" fill="#af7210"/>
<path d="M409.82,432.28h9.13v1.55h-9.13zM455.23,370.64h9.13v1.55h-9.13zM455.23,373.65h9.13v1.55h-9.13zM455.23,397.70h9.13v1.55h-9.13zM455.23,433.78h9.13v1.55h-9.13zM455.23,441.30h9.13v1.55h-9.13zM455.23,448.81h9.13v1.55h-9.13zM455.23,453.32h9.13v1.55h-9.13zM455.23,468.35h9.13v1.55h-9.13zM455.23,486.39h9.13v1.55h-9.13zM464.31,360.12h9.13v1.55h-9.13zM464.31,367.64h9.13v1.55h-9.13zM464.31,411.23h9.13v1.55h-9.13zM464.31,415.74h9.13v1.55h-9.13zM464.31,420.25h9.13v3.06h-9.13zM464.31,426.26h9.13v1.55h-9.13zM464.31,429.27h9.13v3.06h-9.13zM464.31,438.29h9.13v1.55h-9.13zM464.31,456.33h9.13v1.55h-9.13zM464.31,469.86h9.13v1.55h-9.13zM464.31,472.86h9.13v3.06h-9.13zM464.31,477.37h9.13v1.55h-9.13zM464.31,484.89h9.13v1.55h-9.13zM473.39,315.02h9.13v1.55h-9.13zM473.39,342.08h9.13v1.55h-9.13zM473.39,348.09h9.13v1.55h-9.13zM473.39,367.64h9.13v1.55h-9.13zM473.39,370.64h9.13v3.06h-9.13zM473.39,397.70h9.13v1.55h-9.13zM473.39,423.26h9.13v1.55h-9.13zM473.39,427.77h9.13v1.55h-9.13zM473.39,433.78h9.13v3.06h-9.13zM473.39,441.30h9.13v1.55h-9.13zM473.39,447.31h9.13v3.06h-9.13zM473.39,477.37h9.13v1.55h-9.13zM473.39,481.88h9.13v1.55h-9.13zM473.39,486.39h9.13v1.55h-9.13zM491.55,306.00h9.13v1.55h-9.13zM491.55,310.51h9.13v1.55h-9.13zM491.55,316.53h9.13v1.55h-9.13zM491.55,319.53h9.13v1.55h-9.13zM491.55,327.05h9.13v1.55h-9.13zM491.55,355.61h9.13v1.55h-9.13zM491.55,360.12h9.13v3.06h-9.13zM491.55,367.64h9.13v1.55h-9.13zM491.55,381.17h9.13v3.06h-9.13zM491.55,393.19h9.13v1.55h-9.13zM491.55,403.71h9.13v1.55h-9.13zM491.55,420.25h9.13v1.55h-9.13zM491.55,438.29h9.13v3.06h-9.13zM491.55,472.86h9.13v1.55h-9.13zM491.55,484.89h9.13v1.55h-9.13zM500.64,306.00h9.13v1.55h-9.13zM500.64,319.53h9.13v1.55h-9.13zM500.64,331.56h9.13v1.55h-9.13zM500.64,355.61h9.13v1.55h-9.13zM500.64,358.62h9.13v1.55h-9.13zM500.64,396.20h9.13v1.55h-9.13zM500.64,409.73h9.13v1.55h-9.13zM500.64,420.25h9.13v1.55h-9.13zM500.64,426.26h9.13v1.55h-9.13zM500.64,436.79h9.13v4.56h-9.13z" fill="#b66a10"/>
<path d="M409.82,454.83h9.13v1.55h-9.13zM464.31,313.52h9.13v1.55h-9.13zM464.31,333.06h9.13v1.55h-9.13zM464.31,366.13h9.13v1.55h-9.13zM464.31,403.71h9.13v1.55h-9.13zM464.31,406.72h9.13v1.55h-9.13zM464.31,414.24h9.13v1.55h-9.13zM464.31,441.30h9.13v1.55h-9.13zM464.31,447.31h9.13v1.55h-9.13zM464.31,465.35h9.13v1.55h-9.13zM464.31,475.87h9.13v1.55h-9.13zM464.31,483.39h9.13v1.55h-9.13zM473.39,345.09h9.13v1.55h-9.13zM473.39,387.18h9.13v1.55h-9.13zM473.39,402.21h9.13v1.55h-9.13zM473.39,432.28h9.13v1.55h-9.13zM473.39,442.80h9.13v3.06h-9.13zM473.39,450.32h9.13v1.55h-9.13zM473.39,453.32h9.13v3.06h-9.13zM473.39,457.83h9.13v3.06h-9.13zM491.55,304.50h9.13v1.55h-9.13zM491.55,307.51h9.13v1.55h-9.13zM491.55,315.02h9.13v1.55h-9.13zM491.55,325.55h9.13v1.55h-9.13zM491.55,331.56h9.13v1.55h-9.13zM491.55,337.57h9.13v3.06h-9.13zM491.55,348.09h9.13v1.55h-9.13zM491.55,352.60h9.13v3.06h-9.13zM491.55,357.11h9.13v3.06h-9.13zM491.55,364.63h9.13v1.55h-9.13zM491.55,370.64h9.13v1.55h-9.13zM491.55,376.66h9.13v1.55h-9.13zM491.55,379.66h9.13v1.55h-9.13zM491.55,396.20h9.13v6.06h-9.13zM491.55,405.22h9.13v3.06h-9.13zM491.55,411.23h9.13v4.56h-9.13zM491.55,421.75h9.13v6.06h-9.13zM491.55,430.77h9.13v1.55h-9.13zM491.55,469.86h9.13v3.06h-9.13zM491.55,478.88h9.13v1.55h-9.13zM500.64,304.50h9.13v1.55h-9.13zM500.64,330.06h9.13v1.55h-9.13zM500.64,334.57h9.13v6.06h-9.13zM500.64,348.09h9.13v3.06h-9.13zM500.64,366.13h9.13v1.55h-9.13zM500.64,379.66h9.13v1.55h-9.13zM500.64,388.68h9.13v1.55h-9.13zM500.64,403.71h9.13v1.55h-9.13zM500.64,406.72h9.13v1.55h-9.13zM500.64,412.73h9.13v4.56h-9.13zM500.64,423.26h9.13v1.55h-9.13zM500.64,474.37h9.13v1.55h-9.13zM500.64,478.88h9.13v1.55h-9.13z" fill="#bd630f"/>
<path d="M455.23,432.28h9.13v1.55h-9.13zM464.31,307.51h9.13v1.55h-9.13zM464.31,316.53h9.13v1.55h-9.13zM464.31,321.04h9.13v1.55h-9.13zM464.31,327.05h9.13v4.56h-9.13zM464.31,334.57h9.13v1.55h-9.13zM464.31,337.57h9.13v3.06h-9.13zM464.31,349.60h9.13v3.06h-9.13zM464.31,376.66h9.13v1.55h-9.13zM464.31,390.19h9.13v1.55h-9.13zM464.31,396.20h9.13v1.55h-9.13zM464.31,400.71h9.13v1.55h-9.13zM464.31,409.73h9.13v1.55h-9.13zM464.31,418.75h9.13v1.55h-9.13zM464.31,436.79h9.13v1.55h-9.13zM464.31,444.30h9.13v1.55h-9.13zM464.31,448.81h9.13v1.55h-9.13zM464.31,451.82h9.13v3.06h-9.13zM464.31,457.83h9.13v3.06h-9.13zM464.31,466.85h9.13v3.06h-9.13zM464.31,481.88h9.13v1.55h-9.13zM464.31,486.39h9.13v3.06h-9.13zM473.39,460.84h9.13v1.55h-9.13zM491.55,309.01h9.13v1.55h-9.13zM491.55,313.52h9.13v1.55h-9.13zM491.55,321.04h9.13v1.55h-9.13zM491.55,334.57h9.13v1.55h-9.13zM491.55,340.58h9.13v1.55h-9.13zM491.55,363.13h9.13v1.55h-9.13zM491.55,366.13h9.13v1.55h-9.13zM491.55,372.15h9.13v1.55h-9.13zM491.55,375.15h9.13v1.55h-9.13zM491.55,384.17h9.13v6.06h-9.13zM491.55,408.22h9.13v1.55h-9.13zM491.55,418.75h9.13v1.55h-9.13zM491.55,427.77h9.13v1.55h-9.13zM491.55,436.79h9.13v1.55h-9.13zM491.55,450.32h9.13v1.55h-9.13zM491.55,457.83h9.13v1.55h-9.13zM491.55,460.84h9.13v1.55h-9.13zM491.55,474.37h9.13v4.56h-9.13zM491.55,481.88h9.13v3.06h-9.13zM491.55,487.90h9.13v1.55h-9.13zM500.64,309.01h9.13v4.56h-9.13zM500.64,316.53h9.13v1.55h-9.13zM500.64,324.04h9.13v3.06h-9.13zM500.64,345.09h9.13v1.55h-9.13zM500.64,351.10h9.13v1.55h-9.13zM500.64,354.11h9.13v1.55h-9.13zM500.64,361.62h9.13v3.06h-9.13zM500.64,367.64h9.13v1.55h-9.13zM500.64,376.66h9.13v3.06h-9.13zM500.64,381.17h9.13v4.56h-9.13zM500.64,394.70h9.13v1.55h-9.13zM500.64,400.71h9.13v1.55h-9.13zM500.64,405.22h9.13v1.55h-9.13zM500.64,408.22h9.13v1.55h-9.13zM500.64,411.23h9.13v1.55h-9.13zM500.64,421.75h9.13v1.55h-9.13zM500.64,424.76h9.13v1.55h-9.13zM500.64,427.77h9.13v3.06h-9.13zM500.64,465.35h9.13v1.55h-9.13zM500.64,484.89h9.13v1.55h-9.13zM500.64,487.90h9.13v1.55h-9.13z" fill="#c45b0e"/>
<path d="M464.31,304.50h9.13v3.06h-9.13zM464.31,312.02h9.13v1.55h-9.13zM464.31,319.53h9.13v1.55h-9.13zM464.31,322.54h9.13v4.56h-9.13zM464.31,331.56h9.13v1.55h-9.13zM464.31,342.08h9.13v1.55h-9.13zM464.31,355.61h9.13v1.55h-9.13zM464.31,361.62h9.13v1.55h-9.13zM464.31,364.63h9.13v1.55h-9.13zM464.31,372.15h9.13v1.55h-9.13zM464.31,379.66h9.13v1.55h-9.13zM464.31,384.17h9.13v1.55h-9.13zM464.31,394.70h9.13v1.55h-9.13zM464.31,402.21h9.13v1.55h-9.13zM464.31,405.22h9.13v1.55h-9.13zM464.31,408.22h9.13v1.55h-9.13zM464.31,412.73h9.13v1.55h-9.13zM464.31,423.26h9.13v1.55h-9.13zM464.31,427.77h9.13v1.55h-9.13zM464.31,433.78h9.13v1.55h-9.13zM464.31,450.32h9.13v1.55h-9.13zM464.31,454.83h9.13v1.55h-9.13zM464.31,460.84h9.13v1.55h-9.13zM464.31,463.84h9.13v1.55h-9.13zM473.39,465.35h9.13v1.55h-9.13zM491.55,312.02h9.13v1.55h-9.13zM491.55,343.58h9.13v3.06h-9.13zM491.55,369.14h9.13v1.55h-9.13zM491.55,373.65h9.13v1.55h-9.13zM491.55,378.16h9.13v1.55h-9.13zM491.55,394.70h9.13v1.55h-9.13zM491.55,432.28h9.13v1.55h-9.13zM491.55,435.28h9.13v1.55h-9.13zM491.55,442.80h9.13v6.06h-9.13zM491.55,451.82h9.13v1.55h-9.13zM491.55,454.83h9.13v1.55h-9.13zM500.64,313.52h9.13v3.06h-9.13zM500.64,321.04h9.13v1.55h-9.13zM500.64,342.08h9.13v3.06h-9.13zM500.64,346.59h9.13v1.55h-9.13zM500.64,352.60h9.13v1.55h-9.13zM500.64,357.11h9.13v1.55h-9.13zM500.64,364.63h9.13v1.55h-9.13zM500.64,369.14h9.13v3.06h-9.13zM500.64,375.15h9.13v1.55h-9.13zM500.64,385.68h9.13v3.06h-9.13zM500.64,391.69h9.13v3.06h-9.13zM500.64,399.20h9.13v1.55h-9.13zM500.64,402.21h9.13v1.55h-9.13zM500.64,441.30h9.13v10.57h-9.13zM500.64,453.32h9.13v1.55h-9.13zM500.64,457.83h9.13v1.55h-9.13zM500.64,460.84h9.13v1.55h-9.13zM500.64,463.84h9.13v1.55h-9.13zM500.64,475.87h9.13v3.06h-9.13zM500.64,483.39h9.13v1.55h-9.13zM500.64,486.39h9.13v1.55h-9.13z" fill="#cb520e"/>
<path d="M464.31,309.01h9.13v3.06h-9.13zM464.31,315.02h9.13v1.55h-9.13zM464.31,340.58h9.13v1.55h-9.13zM464.31,345.09h9.13v1.55h-9.13zM464.31,348.09h9.13v1.55h-9.13zM464.31,354.11h9.13v1.55h-9.13zM464.31,357.11h9.13v3.06h-9.13zM464.31,363.13h9.13v1.55h-9.13zM464.31,370.64h9.13v1.55h-9.13zM464.31,375.15h9.13v1.55h-9.13zM464.31,381.17h9.13v3.06h-9.13zM464.31,385.68h9.13v1.55h-9.13zM464.31,388.68h9.13v1.55h-9.13zM464.31,393.19h9.13v1.55h-9.13zM464.31,397.70h9.13v1.55h-9.13zM464.31,424.76h9.13v1.55h-9.13zM464.31,435.28h9.13v1.55h-9.13zM464.31,442.80h9.13v1.55h-9.13zM464.31,462.34h9.13v1.55h-9.13zM473.39,466.85h9.13v1.55h-9.13zM491.55,336.07h9.13v1.55h-9.13zM491.55,342.08h9.13v1.55h-9.13zM491.55,351.10h9.13v1.55h-9.13zM491.55,391.69h9.13v1.55h-9.13zM491.55,433.78h9.13v1.55h-9.13zM491.55,453.32h9.13v1.55h-9.13zM491.55,456.33h9.13v1.55h-9.13zM491.55,486.39h9.13v1.55h-9.13zM500.64,318.03h9.13v1.55h-9.13zM500.64,340.58h9.13v1.55h-9.13zM500.64,372.15h9.13v1.55h-9.13zM500.64,390.19h9.13v1.55h-9.13zM500.64,397.70h9.13v1.55h-9.13zM500.64,418.75h9.13v1.55h-9.13zM500.64,432.28h9.13v3.06h-9.13zM500.64,451.82h9.13v1.55h-9.13zM500.64,456.33h9.13v1.55h-9.13zM500.64,459.33h9.13v1.55h-9.13zM500.64,462.34h9.13v1.55h-9.13zM500.64,468.35h9.13v4.56h-9.13zM500.64,481.88h9.13v1.55h-9.13z" fill="#d14a0e"/>
<path d="M464.31,318.03h9.13v1.55h-9.13zM464.31,336.07h9.13v1.55h-9.13zM464.31,352.60h9.13v1.55h-9.13zM464.31,369.14h9.13v1.55h-9.13zM464.31,378.16h9.13v1.55h-9.13zM464.31,391.69h9.13v1.55h-9.13zM464.31,399.20h9.13v1.55h-9.13zM464.31,432.28h9.13v1.55h-9.13zM482.47,408.22h9.13v6.06h-9.13zM482.47,451.82h9.13v6.06h-9.13zM482.47,463.84h9.13v6.06h-9.13zM482.47,480.38h9.13v3.06h-9.13zM491.55,318.03h9.13v1.55h-9.13zM491.55,441.30h9.13v1.55h-9.13zM491.55,448.81h9.13v1.55h-9.13zM491.55,459.33h9.13v1.55h-9.13zM500.64,373.65h9.13v1.55h-9.13zM500.64,435.28h9.13v1.55h-9.13zM500.64,466.85h9.13v1.55h-9.13z" fill="#d8420d"/>
<path d="M464.31,343.58h9.13v1.55h-9.13zM464.31,346.59h9.13v1.55h-9.13zM464.31,373.65h9.13v1.55h-9.13zM464.31,387.18h9.13v1.55h-9.13zM473.39,468.35h9.13v1.55h-9.13zM491.55,346.59h9.13v1.55h-9.13zM500.64,454.83h9.13v1.55h-9.13z" fill="#df390c"/>
<path d="M473.39,462.34h9.13v3.06h-9.13zM491.55,465.35h9.13v3.06h-9.13z" fill="#e52f0c"/>
<path d="M491.55,462.34h9.13v1.55h-9.13zM491.55,468.35h9.13v1.55h-9.13z" fill="#f21b0b"/>
<path d="M491.55,463.84h9.13v1.55h-9.13z" fill="#ec260c"/>
</g>
<path d="M314.4,304.50H317.7M313.2,305.00H317.7M314.4,305.50H317.7M313.8,306.00H317.7M313.2,306.50H317.7M313.2,307.00H317.7M313.1,307.50H317.7M314.9,308.00H317.7M313.2,308.50H317.7M313.1,309.00H317.7M313.8,309.50H317.7M313.2,310.00H317.7M314.8,310.50H317.7M313.8,311.00H317.7M314.5,311.50H317.7M313.7,312.00H317.7M313.9,312.50H317.7M313.3,313.00H317.7M313.3,313.50H317.7M314.1,314.00H317.7M313.0,314.50H317.7M313.0,315.00H317.7M314.6,315.50H317.7M313.2,316.00H317.7M313.4,316.50H317.7M313.2,317.00H317.7M313.9,317.50H317.7M314.0,318.00H317.7M313.0,318.50H317.7M314.0,319.00H317.7M313.0,319.50H317.7M313.4,320.00H317.7M313.2,320.50H317.7M314.2,321.00H317.7M313.1,321.50H317.7M312.9,322.00H317.7M313.9,322.50H317.7M311.7,323.00H317.7M313.2,323.50H317.7M313.8,324.00H317.7M311.6,324.50H317.7M312.2,325.00H317.7M314.1,325.50H317.7M313.5,326.00H317.7M314.1,326.50H317.7M313.3,327.00H317.7M312.9,327.50H317.7M313.9,328.00H317.7M312.8,328.50H317.7M313.2,329.00H317.7M312.7,329.50H317.7M312.9,330.00H317.7M312.9,330.50H317.7M312.7,331.00H317.7M312.6,331.50H317.7M314.3,332.00H317.7M314.8,332.50H317.7M312.6,333.00H317.7M312.7,333.50H317.7M313.4,334.00H317.7M312.5,334.50H317.7M312.4,335.00H317.7M314.3,335.50H317.7M309.5,336.00H317.7M313.8,336.50H317.7M310.6,337.00H317.7M311.1,337.50H317.7M311.0,338.00H317.7M311.1,338.50H317.7M310.7,339.00H317.7M311.9,339.50H317.7M311.4,340.00H317.7M313.5,340.50H317.7M311.6,341.00H317.7M311.7,341.50H317.7M313.8,342.00H317.7M312.4,342.50H317.7M311.8,343.00H317.7M313.3,343.50H317.7M311.8,344.00H317.7M313.0,344.50H317.7M312.7,345.00H317.7M311.7,345.50H317.7M312.5,346.00H317.7M312.0,346.50H317.7M307.9,347.00H317.7M313.7,347.50H317.7M308.5,348.00H317.7M309.0,348.50H317.7M312.6,349.00H317.7M311.0,349.50H317.7M309.3,350.00H317.7M311.0,350.50H317.7M309.7,351.00H317.7M312.0,351.50H317.7M311.3,352.00H317.7M311.8,352.50H317.7M311.5,353.00H317.7M311.1,353.50H317.7M312.2,354.00H317.7M311.5,354.50H317.7M312.7,355.00H317.7M311.0,355.50H317.7M311.1,356.00H317.7M311.0,356.50H317.7M311.6,357.00H317.7M312.0,357.50H317.7M308.0,358.00H317.7M313.2,358.50H317.7M308.9,359.00H317.7M308.7,359.50H317.7M311.3,360.00H317.7M309.3,360.50H317.7M309.6,361.00H317.7M310.0,361.50H317.7M310.7,362.00H317.7M310.5,362.50H317.7M310.9,363.00H317.7M310.7,363.50H317.7M310.9,364.00H317.7M312.8,364.50H317.7M310.8,365.00H317.7M311.5,365.50H317.7M310.6,366.00H317.7M310.6,366.50H317.7M310.7,367.00H317.7M310.5,367.50H317.7M308.0,368.00H317.7M309.9,368.50H317.7M308.1,369.00H317.7M307.7,369.50H317.7M308.1,370.00H317.7M311.6,370.50H317.7M308.3,371.00H317.7M308.7,371.50H317.7M310.7,372.00H317.7M308.9,372.50H317.7M313.3,373.00H317.7M309.2,373.50H317.7M309.4,374.00H317.7M310.1,374.50H317.7M310.7,375.00H317.7M311.0,375.50H317.7M310.4,376.00H317.7M312.4,376.50H317.7M312.9,377.00H317.7M310.8,377.50H317.7M312.7,378.00H317.7M312.5,378.50H317.7M310.1,379.00H317.7M310.0,379.50H317.7M310.0,380.00H317.7M310.0,380.50H317.7M309.9,381.00H317.7M306.8,381.50H317.7M306.5,382.00H317.7M308.2,382.50H317.7M307.3,383.00H317.7M307.2,383.50H317.7M308.2,384.00H317.7M311.5,384.50H317.7M310.4,385.00H317.7M313.8,385.50H317.7M309.3,386.00H317.7M313.7,386.50H317.7M309.5,387.00H317.7M310.1,387.50H317.7M311.8,388.00H317.7M310.2,388.50H317.7M309.6,389.00H317.7M311.5,389.50H317.7M313.3,390.00H317.7M309.8,390.50H317.7M309.9,391.00H317.7M309.6,391.50H317.7M309.1,392.00H317.7M307.7,392.50H317.7M307.0,393.00H317.7M312.2,393.50H317.7M307.3,394.00H317.7M311.5,394.50H317.7M312.0,395.00H317.7M307.9,395.50H317.7M308.2,396.00H317.7M310.2,396.50H317.7M310.0,397.00H317.7M308.9,397.50H317.7M309.6,398.00H317.7M309.0,398.50H317.7M309.5,399.00H317.7M309.4,399.50H317.7M312.4,400.00H317.7M307.5,400.50H317.7M306.4,401.00H317.7M312.6,401.50H317.7M307.6,402.00H317.7M304.7,402.50H317.7M304.4,403.00H317.7M304.8,403.50H317.7M304.0,404.00H317.7M304.2,404.50H317.7M303.9,405.00H317.7M311.1,405.50H317.7M309.1,406.00H317.7M307.0,406.50H317.7M303.6,407.00H317.7M308.8,407.50H317.7M304.5,408.00H317.7M310.2,408.50H317.7M303.7,409.00H317.7M303.8,409.50H317.7M303.8,410.00H317.7M309.3,410.50H317.7M312.1,411.00H317.7M308.2,411.50H317.7M304.3,412.00H317.7M303.9,412.50H317.7M312.3,413.00H317.7M304.1,413.50H317.7M309.3,414.00H317.7M306.0,414.50H317.7M306.1,415.00H317.7M307.2,415.50H317.7M307.3,416.00H317.7M308.2,416.50H317.7M312.6,417.00H317.7M310.1,417.50H317.7M311.6,418.00H317.7M310.8,418.50H317.7M311.7,419.00H317.7M313.4,419.50H317.7M312.9,420.00H317.7M312.1,420.50H317.7M312.2,421.00H317.7M314.6,421.50H317.7M311.6,422.00H317.7M311.8,422.50H317.7M311.4,423.00H317.7M311.3,423.50H317.7M308.7,424.00H317.7M311.5,424.50H317.7M309.7,425.00H317.7M310.2,425.50H317.7M309.5,426.00H317.7M309.9,426.50H317.7M310.2,427.00H317.7M312.6,427.50H317.7M310.0,428.00H317.7M310.2,428.50H317.7M310.3,429.00H317.7M310.7,429.50H317.7M310.7,430.00H317.7M311.6,430.50H317.7M314.2,431.00H317.7M313.4,431.50H317.7M309.8,432.00H317.7M310.1,432.50H317.7M310.4,433.00H317.7M312.1,433.50H317.7M307.7,434.00H317.7M306.7,434.50H317.7M306.8,435.00H317.7M307.4,435.50H317.7M308.9,436.00H317.7M307.4,436.50H317.7M308.3,437.00H317.7M308.2,437.50H317.7M313.4,438.00H317.7M310.4,438.50H317.7M313.7,439.00H317.7M309.4,439.50H317.7M309.4,440.00H317.7M313.8,440.50H317.7M309.4,441.00H317.7M310.0,441.50H317.7M308.8,442.00H317.7M308.8,442.50H317.7M308.9,443.00H317.7M308.8,443.50H317.7M306.1,444.00H317.7M311.3,444.50H317.7M305.8,445.00H317.7M305.9,445.50H317.7M307.8,446.00H317.7M306.9,446.50H317.7M306.6,447.00H317.7M310.3,447.50H317.7M312.8,448.00H317.7M310.4,448.50H317.7M311.2,449.00H317.7M310.9,449.50H317.7M313.7,450.00H317.7M308.2,450.50H317.7M312.3,451.00H317.7M310.4,451.50H317.7M313.2,452.00H317.7M311.8,452.50H317.7M306.5,453.00H317.7M307.7,453.50H317.7M305.1,454.00H317.7M305.4,454.50H317.7M305.0,455.00H317.7M305.8,455.50H317.7M310.2,456.00H317.7M305.7,456.50H317.7M311.1,457.00H317.7M305.4,457.50H317.7M308.0,458.00H317.7M305.6,458.50H317.7M308.0,459.00H317.7M309.8,459.50H317.7M311.3,460.00H317.7M309.4,460.50H317.7M305.4,461.00H317.7M308.3,461.50H317.7M305.3,462.00H317.7M306.2,462.50H317.7M304.4,463.00H317.7M305.1,463.50H317.7M306.9,464.00H317.7M303.4,464.50H317.7M305.6,465.00H317.7M310.2,465.50H317.7M304.4,466.00H317.7M302.7,466.50H317.7M301.9,467.00H317.7M303.0,467.50H317.7M302.3,468.00H317.7M305.6,468.50H317.7M306.3,469.00H317.7M305.4,469.50H317.7M306.4,470.00H317.7M307.0,470.50H317.7M305.6,471.00H317.7M300.5,471.50H317.7M303.0,472.00H317.7M300.9,472.50H317.7M299.7,473.00H317.7M303.3,473.50H317.7M299.4,474.00H317.7M304.1,474.50H317.7M301.6,475.00H317.7M298.9,475.50H317.7M300.2,476.00H317.7M301.4,476.50H317.7M298.8,477.00H317.7M309.7,477.50H317.7M310.3,478.00H317.7M298.1,478.50H317.7M303.9,479.00H317.7M299.4,479.50H317.7M306.6,480.00H317.7M309.7,480.50H317.7M299.8,481.00H317.7M301.7,481.50H317.7M298.2,482.00H317.7M302.2,482.50H317.7M311.4,483.00H317.7M297.6,483.50H317.7M296.6,484.00H317.7M310.6,484.50H317.7M296.4,485.00H317.7M302.1,485.50H317.7M299.9,486.00H317.7M297.8,486.50H317.7M309.6,487.00H317.7M299.7,487.50H317.7M301.6,488.00H317.7M309.1,488.50H317.7M304.7,489.00H317.7" fill="none" stroke="#000" stroke-width="0.72"/>
<rect x="314.6" y="304.5" width="3.1" height="184.89999999999998" fill="#000"/>
<path d="M291.9,403.6H260.5V483.6H275.7M300.0,391.2H291.9V415.0H313.0M303.0,375.0H300.0V406.4H301.5M305.2,347.4H303.0V378.8H307.0M307.0,340.7H305.2V356.0H309.0M309.0,330.0H307.0V343.0H310.0M312.0,318.0H309.0V334.0H311.0M289.4,478.2H275.7V487.8H300.0M295.7,470.6H289.4V486.4H297.0M300.0,464.5H295.7V476.0H299.0M303.5,458.0H300.0V468.5H301.0M305.5,440.0H303.5V461.0H306.0M308.0,428.0H305.5V447.0H307.0M311.0,421.0H297.0V412.0H302.0" fill="none" stroke="#333" stroke-width="0.5"/>
<line x1="321.00" y1="537.10" x2="388.70" y2="537.10" stroke="#1c1ccc" stroke-width="2" />
<line x1="393.00" y1="537.10" x2="515.80" y2="537.10" stroke="#d21e1e" stroke-width="2" />
<filter id="gs" x="0" y="0" width="100%" height="100%" filterUnits="userSpaceOnUse" color-interpolation-filters="sRGB"><feColorMatrix type="saturate" values="0"/></filter>
<g filter="url(#gs)">
<text x="0.20" y="10.50" font-size="13.2" font-weight="bold" text-anchor="start" fill="#000"  textLength="10.0" lengthAdjust="spacingAndGlyphs">A</text>
<text x="142.70" y="10.80" font-size="13.2" font-weight="bold" text-anchor="start" fill="#000" >B</text>
<text x="291.20" y="10.90" font-size="13.2" font-weight="bold" text-anchor="start" fill="#000" >C</text>
<text x="-0.90" y="239.70" font-size="13.2" font-weight="bold" text-anchor="start" fill="#000" >D</text>
<text x="261.80" y="239.40" font-size="13.2" font-weight="bold" text-anchor="start" fill="#000" >E</text>
<text x="56.20" y="21.40" font-size="9.5" font-weight="bold" text-anchor="middle" fill="#000"  textLength="20.2" lengthAdjust="spacingAndGlyphs">COA</text>
<text x="201.40" y="21.30" font-size="9.5" font-weight="bold" text-anchor="middle" fill="#000"  textLength="19.2" lengthAdjust="spacingAndGlyphs">PCA</text>
<text x="415.40" y="21.40" font-size="9.6" font-weight="bold" text-anchor="middle" fill="#000"  textLength="132" lengthAdjust="spacingAndGlyphs">HIERARCHICAL CLUSTERING</text>
<text x="26.20" y="140.30" font-size="2.6" font-weight="normal" text-anchor="middle" fill="#787878" >0.00</text>
<text x="2.50" y="98.20" font-size="2.6" font-weight="normal" text-anchor="end" fill="#787878" >0.00</text>
<text x="50.70" y="140.30" font-size="2.6" font-weight="normal" text-anchor="middle" fill="#787878" >0.00</text>
<text x="7.93" y="107.55" font-size="2.6" font-weight="normal" text-anchor="end" fill="#787878" >0.00</text>
<text x="75.20" y="140.30" font-size="2.6" font-weight="normal" text-anchor="middle" fill="#787878" >0.00</text>
<text x="13.35" y="116.90" font-size="2.6" font-weight="normal" text-anchor="end" fill="#787878" >0.00</text>
<text x="99.70" y="140.30" font-size="2.6" font-weight="normal" text-anchor="middle" fill="#787878" >0.00</text>
<text x="18.77" y="126.25" font-size="2.6" font-weight="normal" text-anchor="end" fill="#787878" >0.00</text>
<text x="124.20" y="140.30" font-size="2.6" font-weight="normal" text-anchor="middle" fill="#787878" >0.00</text>
<text x="24.20" y="135.60" font-size="2.6" font-weight="normal" text-anchor="end" fill="#787878" >0.00</text>
<text transform="translate(128.60,74.30) rotate(-90)" font-size="2.6" font-weight="normal" text-anchor="middle" fill="#787878" >0.00</text>
<text transform="translate(128.60,86.36) rotate(-90)" font-size="2.6" font-weight="normal" text-anchor="middle" fill="#787878" >0.00</text>
<text transform="translate(128.60,98.42) rotate(-90)" font-size="2.6" font-weight="normal" text-anchor="middle" fill="#787878" >0.00</text>
<text transform="translate(128.60,110.48) rotate(-90)" font-size="2.6" font-weight="normal" text-anchor="middle" fill="#787878" >0.00</text>
<text transform="translate(128.60,122.54) rotate(-90)" font-size="2.6" font-weight="normal" text-anchor="middle" fill="#787878" >0.00</text>
<text transform="translate(128.60,134.60) rotate(-90)" font-size="2.6" font-weight="normal" text-anchor="middle" fill="#787878" >0.00</text>
<text x="75.00" y="149.00" font-size="3" font-weight="normal" text-anchor="start" fill="#999" >.</text>
<text x="185.50" y="146.60" font-size="2.6" font-weight="normal" text-anchor="middle" fill="#787878" >0.0</text>
<text x="207.47" y="146.60" font-size="2.6" font-weight="normal" text-anchor="middle" fill="#787878" >0.0</text>
<text x="229.45" y="146.60" font-size="2.6" font-weight="normal" text-anchor="middle" fill="#787878" >0.0</text>
<text x="251.42" y="146.60" font-size="2.6" font-weight="normal" text-anchor="middle" fill="#787878" >0.0</text>
<text x="273.40" y="146.60" font-size="2.6" font-weight="normal" text-anchor="middle" fill="#787878" >0.0</text>
<text x="151.60" y="100.60" font-size="2.6" font-weight="normal" text-anchor="end" fill="#787878" >0.0</text>
<text x="156.16" y="106.51" font-size="2.6" font-weight="normal" text-anchor="end" fill="#787878" >0.0</text>
<text x="160.71" y="112.43" font-size="2.6" font-weight="normal" text-anchor="end" fill="#787878" >0.0</text>
<text x="165.27" y="118.34" font-size="2.6" font-weight="normal" text-anchor="end" fill="#787878" >0.0</text>
<text x="169.83" y="124.26" font-size="2.6" font-weight="normal" text-anchor="end" fill="#787878" >0.0</text>
<text x="174.39" y="130.17" font-size="2.6" font-weight="normal" text-anchor="end" fill="#787878" >0.0</text>
<text x="178.94" y="136.09" font-size="2.6" font-weight="normal" text-anchor="end" fill="#787878" >0.0</text>
<text x="183.50" y="142.00" font-size="2.6" font-weight="normal" text-anchor="end" fill="#787878" >0.0</text>
<text transform="translate(278.00,80.80) rotate(-90)" font-size="2.6" font-weight="normal" text-anchor="middle" fill="#787878" >0.0</text>
<text transform="translate(278.00,88.33) rotate(-90)" font-size="2.6" font-weight="normal" text-anchor="middle" fill="#787878" >0.0</text>
<text transform="translate(278.00,95.85) rotate(-90)" font-size="2.6" font-weight="normal" text-anchor="middle" fill="#787878" >0.0</text>
<text transform="translate(278.00,103.38) rotate(-90)" font-size="2.6" font-weight="normal" text-anchor="middle" fill="#787878" >0.0</text>
<text transform="translate(278.00,110.90) rotate(-90)" font-size="2.6" font-weight="normal" text-anchor="middle" fill="#787878" >0.0</text>
<text transform="translate(278.00,118.42) rotate(-90)" font-size="2.6" font-weight="normal" text-anchor="middle" fill="#787878" >0.0</text>
<text transform="translate(278.00,125.95) rotate(-90)" font-size="2.6" font-weight="normal" text-anchor="middle" fill="#787878" >0.0</text>
<text transform="translate(278.00,133.47) rotate(-90)" font-size="2.6" font-weight="normal" text-anchor="middle" fill="#787878" >0.0</text>
<text transform="translate(278.00,141.00) rotate(-90)" font-size="2.6" font-weight="normal" text-anchor="middle" fill="#787878" >0.0</text>
<text x="58.70" y="184.20" font-size="9.4" font-weight="normal" text-anchor="start" fill="#111"  textLength="76.3" lengthAdjust="spacingAndGlyphs">NORMAL CD34(+)</text>
<text x="154.20" y="184.20" font-size="9.4" font-weight="normal" text-anchor="start" fill="#111"  textLength="85.8" lengthAdjust="spacingAndGlyphs">MDS/secondary AML</text>
<text x="308.60" y="180.00" font-size="9.2" font-weight="normal" text-anchor="end" fill="#111" >0</text>
<text x="308.60" y="148.28" font-size="9.2" font-weight="normal" text-anchor="end" fill="#111" >100</text>
<text x="308.60" y="116.56" font-size="9.2" font-weight="normal" text-anchor="end" fill="#111" >200</text>
<text x="308.60" y="84.84" font-size="9.2" font-weight="normal" text-anchor="end" fill="#111" >300</text>
<text x="308.60" y="53.12" font-size="9.2" font-weight="normal" text-anchor="end" fill="#111" >400</text>
<text transform="translate(321.80,176.57) rotate(-90)" font-size="5.95" font-weight="normal" text-anchor="end" fill="#111" stroke="#111" stroke-width="0.18">NormalCD34_1</text>
<text transform="translate(330.60,179.17) rotate(-90)" font-size="5.95" font-weight="normal" text-anchor="end" fill="#111" stroke="#111" stroke-width="0.18">NormalCD34_5</text>
<text transform="translate(339.40,179.17) rotate(-90)" font-size="5.95" font-weight="normal" text-anchor="end" fill="#111" stroke="#111" stroke-width="0.18">NormalCD34_6</text>
<text transform="translate(348.20,180.36) rotate(-90)" font-size="5.95" font-weight="normal" text-anchor="end" fill="#111" stroke="#111" stroke-width="0.18">NormalCD34_7</text>
<text transform="translate(357.00,180.36) rotate(-90)" font-size="5.95" font-weight="normal" text-anchor="end" fill="#111" stroke="#111" stroke-width="0.18">NormalCD34_8</text>
<text transform="translate(365.80,179.61) rotate(-90)" font-size="5.95" font-weight="normal" text-anchor="end" fill="#111" stroke="#111" stroke-width="0.18">NormalCD34_3</text>
<text transform="translate(374.60,179.61) rotate(-90)" font-size="5.95" font-weight="normal" text-anchor="end" fill="#111" stroke="#111" stroke-width="0.18">NormalCD34_2</text>
<text transform="translate(383.40,179.61) rotate(-90)" font-size="5.95" font-weight="normal" text-anchor="end" fill="#111" stroke="#111" stroke-width="0.18">NormalCD34_4</text>
<text transform="translate(392.20,154.86) rotate(-90)" font-size="5.95" font-weight="normal" text-anchor="end" fill="#111" stroke="#111" stroke-width="0.18">006_MDS</text>
<text transform="translate(401.00,164.15) rotate(-90)" font-size="5.95" font-weight="normal" text-anchor="end" fill="#111" stroke="#111" stroke-width="0.18">014_CMMoL</text>
<text transform="translate(409.80,172.39) rotate(-90)" font-size="5.95" font-weight="normal" text-anchor="end" fill="#111" stroke="#111" stroke-width="0.18">009_MDS</text>
<text transform="translate(418.60,175.66) rotate(-90)" font-size="5.95" font-weight="normal" text-anchor="end" fill="#111" stroke="#111" stroke-width="0.18">010_AML-rel</text>
<text transform="translate(427.40,175.66) rotate(-90)" font-size="5.95" font-weight="normal" text-anchor="end" fill="#111" stroke="#111" stroke-width="0.18">015_MDS</text>
<text transform="translate(436.20,174.03) rotate(-90)" font-size="5.95" font-weight="normal" text-anchor="end" fill="#111" stroke="#111" stroke-width="0.18">017_MDS</text>
<text transform="translate(445.00,173.63) rotate(-90)" font-size="5.95" font-weight="normal" text-anchor="end" fill="#111" stroke="#111" stroke-width="0.18">011_AML-TLD</text>
<text transform="translate(453.80,176.60) rotate(-90)" font-size="5.95" font-weight="normal" text-anchor="end" fill="#111" stroke="#111" stroke-width="0.18">005_MDS</text>
<text transform="translate(462.60,176.60) rotate(-90)" font-size="5.95" font-weight="normal" text-anchor="end" fill="#111" stroke="#111" stroke-width="0.18">008_MDS</text>
<text transform="translate(471.40,151.59) rotate(-90)" font-size="5.95" font-weight="normal" text-anchor="end" fill="#111" stroke="#111" stroke-width="0.18">013_CMMoL</text>
<text transform="translate(480.20,161.14) rotate(-90)" font-size="5.95" font-weight="normal" text-anchor="end" fill="#111" stroke="#111" stroke-width="0.18">038_AML-TLD</text>
<text transform="translate(489.00,169.86) rotate(-90)" font-size="5.95" font-weight="normal" text-anchor="end" fill="#111" stroke="#111" stroke-width="0.18">012_AML-rel</text>
<text transform="translate(497.80,173.39) rotate(-90)" font-size="5.95" font-weight="normal" text-anchor="end" fill="#111" stroke="#111" stroke-width="0.18">002_AML-TLD</text>
<text transform="translate(506.60,173.39) rotate(-90)" font-size="5.95" font-weight="normal" text-anchor="end" fill="#111" stroke="#111" stroke-width="0.18">024_AML-TLD</text>
<text x="31.70" y="501.60" font-size="8.8" font-weight="normal" text-anchor="middle" fill="#222" >-4</text>
<text x="83.30" y="501.60" font-size="8.8" font-weight="normal" text-anchor="middle" fill="#222" >-2</text>
<text x="136.30" y="501.60" font-size="8.8" font-weight="normal" text-anchor="middle" fill="#222" >0</text>
<text x="187.90" y="501.60" font-size="8.8" font-weight="normal" text-anchor="middle" fill="#222" >2</text>
<text x="239.50" y="501.60" font-size="8.8" font-weight="normal" text-anchor="middle" fill="#222" >4</text>
<text transform="translate(20.40,486.30) rotate(-90)" font-size="8.8" font-weight="normal" text-anchor="middle" fill="#222" >0</text>
<text transform="translate(20.40,445.50) rotate(-90)" font-size="8.8" font-weight="normal" text-anchor="middle" fill="#222" >2</text>
<text transform="translate(20.40,404.70) rotate(-90)" font-size="8.8" font-weight="normal" text-anchor="middle" fill="#222" >4</text>
<text transform="translate(20.40,363.90) rotate(-90)" font-size="8.8" font-weight="normal" text-anchor="middle" fill="#222" >6</text>
<text transform="translate(20.40,323.10) rotate(-90)" font-size="8.8" font-weight="normal" text-anchor="middle" fill="#222" >8</text>
<text transform="translate(20.40,282.30) rotate(-90)" font-size="8.8" font-weight="normal" text-anchor="middle" fill="#222" >10</text>
<text x="28.80" y="511.90" font-size="9.2" font-weight="normal" text-anchor="start" fill="#222"  textLength="218" lengthAdjust="spacingAndGlyphs">MDS log(HpaII/MspI) - Normal CD34+ log(HpaII/MspI)</text>
<text transform="translate(10.60,376.50) rotate(-90)" font-size="9.2" font-weight="normal" text-anchor="middle" fill="#222"  textLength="150" lengthAdjust="spacingAndGlyphs">Statistical significance -log10(p value)</text>
<text x="60.55" y="536.90" font-size="8.5" font-weight="normal" text-anchor="middle" fill="#222" >More methylated</text>
<text x="60.95" y="546.10" font-size="8.5" font-weight="normal" text-anchor="middle" fill="#222" >in MDS</text>
<text x="209.20" y="536.90" font-size="8.5" font-weight="normal" text-anchor="middle" fill="#222" >Less methylated</text>
<text x="209.60" y="546.10" font-size="8.5" font-weight="normal" text-anchor="middle" fill="#222" >in MDS</text>
<text x="269.20" y="289.20" font-size="9.1" font-weight="normal" text-anchor="start" fill="#222" >Methylation</text>
<text transform="translate(325.44,492.90) rotate(-90)" font-size="5.35" font-weight="normal" text-anchor="end" fill="#111" stroke="#111" stroke-width="0.16">NormalCD34_1</text>
<text transform="translate(334.52,492.90) rotate(-90)" font-size="5.35" font-weight="normal" text-anchor="end" fill="#111" stroke="#111" stroke-width="0.16">NormalCD34_5</text>
<text transform="translate(343.60,492.90) rotate(-90)" font-size="5.35" font-weight="normal" text-anchor="end" fill="#111" stroke="#111" stroke-width="0.16">NormalCD34_6</text>
<text transform="translate(352.69,492.90) rotate(-90)" font-size="5.35" font-weight="normal" text-anchor="end" fill="#111" stroke="#111" stroke-width="0.16">NormalCD34_7</text>
<text transform="translate(361.77,492.90) rotate(-90)" font-size="5.35" font-weight="normal" text-anchor="end" fill="#111" stroke="#111" stroke-width="0.16">NormalCD34_8</text>
<text transform="translate(370.85,492.90) rotate(-90)" font-size="5.35" font-weight="normal" text-anchor="end" fill="#111" stroke="#111" stroke-width="0.16">NormalCD34_3</text>
<text transform="translate(379.93,492.90) rotate(-90)" font-size="5.35" font-weight="normal" text-anchor="end" fill="#111" stroke="#111" stroke-width="0.16">NormalCD34_2</text>
<text transform="translate(389.01,492.90) rotate(-90)" font-size="5.35" font-weight="normal" text-anchor="end" fill="#111" stroke="#111" stroke-width="0.16">NormalCD34_4</text>
<text transform="translate(398.10,492.90) rotate(-90)" font-size="5.35" font-weight="normal" text-anchor="end" fill="#111" stroke="#111" stroke-width="0.16">006_MDS</text>
<text transform="translate(407.18,492.90) rotate(-90)" font-size="5.35" font-weight="normal" text-anchor="end" fill="#111" stroke="#111" stroke-width="0.16">014_CMMoL</text>
<text transform="translate(416.26,492.90) rotate(-90)" font-size="5.35" font-weight="normal" text-anchor="end" fill="#111" stroke="#111" stroke-width="0.16">009_MDS</text>
<text transform="translate(425.34,492.90) rotate(-90)" font-size="5.35" font-weight="normal" text-anchor="end" fill="#111" stroke="#111" stroke-width="0.16">010_AML-rel</text>
<text transform="translate(434.42,492.90) rotate(-90)" font-size="5.35" font-weight="normal" text-anchor="end" fill="#111" stroke="#111" stroke-width="0.16">015_MDS</text>
<text transform="translate(443.50,492.90) rotate(-90)" font-size="5.35" font-weight="normal" text-anchor="end" fill="#111" stroke="#111" stroke-width="0.16">017_MDS</text>
<text transform="translate(452.59,492.90) rotate(-90)" font-size="5.35" font-weight="normal" text-anchor="end" fill="#111" stroke="#111" stroke-width="0.16">011_AML-TLD</text>
<text transform="translate(461.67,492.90) rotate(-90)" font-size="5.35" font-weight="normal" text-anchor="end" fill="#111" stroke="#111" stroke-width="0.16">005_MDS</text>
<text transform="translate(470.75,492.90) rotate(-90)" font-size="5.35" font-weight="normal" text-anchor="end" fill="#111" stroke="#111" stroke-width="0.16">008_MDS</text>
<text transform="translate(479.83,492.90) rotate(-90)" font-size="5.35" font-weight="normal" text-anchor="end" fill="#111" stroke="#111" stroke-width="0.16">013_CMMoL</text>
<text transform="translate(488.91,492.90) rotate(-90)" font-size="5.35" font-weight="normal" text-anchor="end" fill="#111" stroke="#111" stroke-width="0.16">038_AML-TLD</text>
<text transform="translate(498.00,492.90) rotate(-90)" font-size="5.35" font-weight="normal" text-anchor="end" fill="#111" stroke="#111" stroke-width="0.16">012_AML-rel</text>
<text transform="translate(507.08,492.90) rotate(-90)" font-size="5.35" font-weight="normal" text-anchor="end" fill="#111" stroke="#111" stroke-width="0.16">002_AML-TLD</text>
<text transform="translate(516.16,492.90) rotate(-90)" font-size="5.35" font-weight="normal" text-anchor="end" fill="#111" stroke="#111" stroke-width="0.16">024_AML-TLD</text>
</g>
</svg>
</body></html>
